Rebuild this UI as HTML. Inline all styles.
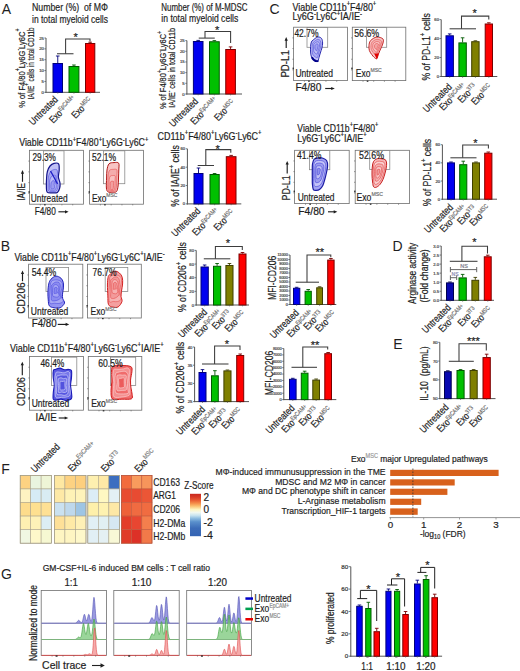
<!DOCTYPE html>
<html><head><meta charset="utf-8"><title>Figure</title>
<style>
html,body{margin:0;padding:0;background:#fff;}
svg{display:block;}
svg text{font-family:"Liberation Sans",sans-serif;white-space:pre;}
</style></head>
<body>
<svg width="520" height="671" viewBox="0 0 520 671" fill="#1e1e1e">
<rect x="0" y="0" width="520" height="671" fill="#ffffff"/>
<text x="1.8" y="13.8" font-size="14">A</text><text x="32.00" y="11.00" font-size="10.8" stroke="#1e1e1e" stroke-width="0.2" textLength="76.00" lengthAdjust="spacingAndGlyphs">Number (%)  of MΦ</text><text x="32.00" y="23.00" font-size="10.8" stroke="#1e1e1e" stroke-width="0.2" textLength="76.00" lengthAdjust="spacingAndGlyphs">in total myeloid cells</text><text x="161.30" y="10.60" font-size="10.8" stroke="#1e1e1e" stroke-width="0.2" textLength="86.20" lengthAdjust="spacingAndGlyphs">Number (%) of M-MDSC</text><text x="161.30" y="21.60" font-size="10.8" stroke="#1e1e1e" stroke-width="0.2" textLength="77.00" lengthAdjust="spacingAndGlyphs">in total myeloid cells</text><line x1="46.00" y1="38.00" x2="46.00" y2="92.80" stroke="#555" stroke-width="1.0" /><line x1="45.50" y1="92.30" x2="100.00" y2="92.30" stroke="#555" stroke-width="1.0" /><line x1="44.40" y1="38.00" x2="46.00" y2="38.00" stroke="#555" stroke-width="0.8" /><text x="43.80" y="39.51" font-size="4.2" fill="#484848" stroke="#484848" stroke-width="0.2" text-anchor="end">25</text><line x1="44.40" y1="48.86" x2="46.00" y2="48.86" stroke="#555" stroke-width="0.8" /><text x="43.80" y="50.37" font-size="4.2" fill="#484848" stroke="#484848" stroke-width="0.2" text-anchor="end">20</text><line x1="44.40" y1="59.72" x2="46.00" y2="59.72" stroke="#555" stroke-width="0.8" /><text x="43.80" y="61.23" font-size="4.2" fill="#484848" stroke="#484848" stroke-width="0.2" text-anchor="end">15</text><line x1="44.40" y1="70.58" x2="46.00" y2="70.58" stroke="#555" stroke-width="0.8" /><text x="43.80" y="72.09" font-size="4.2" fill="#484848" stroke="#484848" stroke-width="0.2" text-anchor="end">10</text><line x1="44.40" y1="81.44" x2="46.00" y2="81.44" stroke="#555" stroke-width="0.8" /><text x="43.80" y="82.95" font-size="4.2" fill="#484848" stroke="#484848" stroke-width="0.2" text-anchor="end">5</text><line x1="44.40" y1="92.30" x2="46.00" y2="92.30" stroke="#555" stroke-width="0.8" /><text x="43.80" y="93.81" font-size="4.2" fill="#484848" stroke="#484848" stroke-width="0.2" text-anchor="end">0</text><line x1="57.75" y1="56.00" x2="57.75" y2="63.00" stroke="#00007a" stroke-width="0.9" /><line x1="55.95" y1="56.00" x2="59.55" y2="56.00" stroke="#00007a" stroke-width="0.9" /><rect x="53.00" y="63.50" width="9.50" height="28.80" fill="#0000f0" stroke="#00007a" stroke-width="1.0" /><line x1="57.75" y1="92.30" x2="57.75" y2="93.60" stroke="#555" stroke-width="0.7" /><line x1="73.95" y1="65.00" x2="73.95" y2="66.00" stroke="#005a00" stroke-width="0.9" /><line x1="72.15" y1="65.00" x2="75.75" y2="65.00" stroke="#005a00" stroke-width="0.9" /><rect x="69.00" y="66.50" width="9.90" height="25.80" fill="#00c000" stroke="#005a00" stroke-width="1.0" /><line x1="73.95" y1="92.30" x2="73.95" y2="93.60" stroke="#555" stroke-width="0.7" /><line x1="90.15" y1="42.20" x2="90.15" y2="43.00" stroke="#7a0000" stroke-width="0.9" /><line x1="88.35" y1="42.20" x2="91.95" y2="42.20" stroke="#7a0000" stroke-width="0.9" /><rect x="85.50" y="43.50" width="9.30" height="48.80" fill="#ff0000" stroke="#7a0000" stroke-width="1.0" /><line x1="90.15" y1="92.30" x2="90.15" y2="93.60" stroke="#555" stroke-width="0.7" /><line x1="57.00" y1="53.75" x2="73.50" y2="53.75" stroke="#3c3c3c" stroke-width="1.05" /><polyline points="65.60,53.75 65.60,39.00 90.00,39.00 90.00,41.50" fill="none" stroke="#3c3c3c" stroke-width="1.05"/><text x="75.60" y="41.27" font-size="11.0" stroke="#1e1e1e" stroke-width="0.2" text-anchor="middle">*</text><g transform="translate(58.58,100.20) rotate(-45)"><text x="-36.01" y="0.00" font-size="10.00" stroke="#1e1e1e" stroke-width="0.2" textLength="36.01" lengthAdjust="spacingAndGlyphs">Untreated</text></g><g transform="translate(77.10,99.93) rotate(-45)"><text x="-33.77" y="0.00" font-size="10.00" stroke="#1e1e1e" stroke-width="0.2" textLength="13.79" lengthAdjust="spacingAndGlyphs">Exo</text><text x="-19.99" y="-3.60" font-size="6.20" fill="#6e6e6e" stroke="#6e6e6e" stroke-width="0.2" textLength="19.99" lengthAdjust="spacingAndGlyphs">EpCAM+</text></g><g transform="translate(93.03,101.47) rotate(-45)"><text x="-24.81" y="0.00" font-size="10.00" stroke="#1e1e1e" stroke-width="0.2" textLength="13.79" lengthAdjust="spacingAndGlyphs">Exo</text><text x="-11.02" y="-3.60" font-size="6.20" fill="#6e6e6e" stroke="#6e6e6e" stroke-width="0.2" textLength="11.02" lengthAdjust="spacingAndGlyphs">MSC</text></g><g transform="translate(24.60,68.20) rotate(-90)"><text x="-39.50" y="0.00" font-size="9.60" stroke="#1e1e1e" stroke-width="0.2" textLength="36.46" lengthAdjust="spacingAndGlyphs">% of F4/80</text><text x="-3.04" y="-4.32" font-size="6.34" stroke="#1e1e1e" stroke-width="0.2" textLength="2.91" lengthAdjust="spacingAndGlyphs">+</text><text x="-0.13" y="0.00" font-size="9.60" stroke="#1e1e1e" stroke-width="0.2" textLength="17.74" lengthAdjust="spacingAndGlyphs">Ly6G</text><text x="17.61" y="-4.32" font-size="6.34" stroke="#1e1e1e" stroke-width="0.2" textLength="1.66" lengthAdjust="spacingAndGlyphs">-</text><text x="19.27" y="0.00" font-size="9.60" stroke="#1e1e1e" stroke-width="0.2" textLength="17.32" lengthAdjust="spacingAndGlyphs">Ly6C</text><text x="36.59" y="-4.32" font-size="6.34" stroke="#1e1e1e" stroke-width="0.2" textLength="2.91" lengthAdjust="spacingAndGlyphs">+</text></g><g transform="translate(33.50,63.40) rotate(-90)"><text x="-36.00" y="0.00" font-size="9.60" stroke="#1e1e1e" stroke-width="0.2" textLength="13.72" lengthAdjust="spacingAndGlyphs">IA/IE</text><text x="-22.28" y="-4.32" font-size="6.34" stroke="#1e1e1e" stroke-width="0.2" textLength="2.44" lengthAdjust="spacingAndGlyphs">+</text><text x="-19.84" y="0.00" font-size="9.60" stroke="#1e1e1e" stroke-width="0.2" textLength="55.84" lengthAdjust="spacingAndGlyphs"> cells in total CD11b</text></g><line x1="186.90" y1="40.60" x2="186.90" y2="94.50" stroke="#555" stroke-width="1.0" /><line x1="186.40" y1="94.00" x2="242.00" y2="94.00" stroke="#555" stroke-width="1.0" /><line x1="185.30" y1="40.60" x2="186.90" y2="40.60" stroke="#555" stroke-width="0.8" /><text x="184.70" y="42.11" font-size="4.2" fill="#484848" stroke="#484848" stroke-width="0.2" text-anchor="end">25</text><line x1="185.30" y1="51.28" x2="186.90" y2="51.28" stroke="#555" stroke-width="0.8" /><text x="184.70" y="52.79" font-size="4.2" fill="#484848" stroke="#484848" stroke-width="0.2" text-anchor="end">20</text><line x1="185.30" y1="61.96" x2="186.90" y2="61.96" stroke="#555" stroke-width="0.8" /><text x="184.70" y="63.47" font-size="4.2" fill="#484848" stroke="#484848" stroke-width="0.2" text-anchor="end">15</text><line x1="185.30" y1="72.64" x2="186.90" y2="72.64" stroke="#555" stroke-width="0.8" /><text x="184.70" y="74.15" font-size="4.2" fill="#484848" stroke="#484848" stroke-width="0.2" text-anchor="end">10</text><line x1="185.30" y1="83.32" x2="186.90" y2="83.32" stroke="#555" stroke-width="0.8" /><text x="184.70" y="84.83" font-size="4.2" fill="#484848" stroke="#484848" stroke-width="0.2" text-anchor="end">5</text><line x1="185.30" y1="94.00" x2="186.90" y2="94.00" stroke="#555" stroke-width="0.8" /><text x="184.70" y="95.51" font-size="4.2" fill="#484848" stroke="#484848" stroke-width="0.2" text-anchor="end">0</text><line x1="198.20" y1="40.40" x2="198.20" y2="41.00" stroke="#00007a" stroke-width="0.9" /><line x1="196.40" y1="40.40" x2="200.00" y2="40.40" stroke="#00007a" stroke-width="0.9" /><rect x="193.40" y="41.50" width="9.60" height="52.50" fill="#0000f0" stroke="#00007a" stroke-width="1.0" /><line x1="198.20" y1="94.00" x2="198.20" y2="95.30" stroke="#555" stroke-width="0.7" /><line x1="214.38" y1="40.60" x2="214.38" y2="41.25" stroke="#005a00" stroke-width="0.9" /><line x1="212.57" y1="40.60" x2="216.18" y2="40.60" stroke="#005a00" stroke-width="0.9" /><rect x="209.50" y="41.75" width="9.75" height="52.25" fill="#00c000" stroke="#005a00" stroke-width="1.0" /><line x1="214.38" y1="94.00" x2="214.38" y2="95.30" stroke="#555" stroke-width="0.7" /><line x1="230.57" y1="46.90" x2="230.57" y2="49.00" stroke="#7a0000" stroke-width="0.9" /><line x1="228.77" y1="46.90" x2="232.38" y2="46.90" stroke="#7a0000" stroke-width="0.9" /><rect x="225.75" y="49.50" width="9.65" height="44.50" fill="#ff0000" stroke="#7a0000" stroke-width="1.0" /><line x1="230.57" y1="94.00" x2="230.57" y2="95.30" stroke="#555" stroke-width="0.7" /><line x1="198.75" y1="38.10" x2="214.75" y2="38.10" stroke="#3c3c3c" stroke-width="1.05" /><polyline points="205.00,38.10 205.00,31.50 230.60,31.50 230.60,43.00" fill="none" stroke="#3c3c3c" stroke-width="1.05"/><text x="217.10" y="33.56" font-size="11.0" stroke="#1e1e1e" stroke-width="0.2" text-anchor="middle">*</text><g transform="translate(198.62,102.00) rotate(-45)"><text x="-36.01" y="0.00" font-size="10.00" stroke="#1e1e1e" stroke-width="0.2" textLength="36.01" lengthAdjust="spacingAndGlyphs">Untreated</text></g><g transform="translate(218.50,101.33) rotate(-45)"><text x="-33.77" y="0.00" font-size="10.00" stroke="#1e1e1e" stroke-width="0.2" textLength="13.79" lengthAdjust="spacingAndGlyphs">Exo</text><text x="-19.99" y="-3.60" font-size="6.20" fill="#6e6e6e" stroke="#6e6e6e" stroke-width="0.2" textLength="19.99" lengthAdjust="spacingAndGlyphs">EpCAM+</text></g><g transform="translate(235.72,103.88) rotate(-45)"><text x="-24.81" y="0.00" font-size="10.00" stroke="#1e1e1e" stroke-width="0.2" textLength="13.79" lengthAdjust="spacingAndGlyphs">Exo</text><text x="-11.02" y="-3.60" font-size="6.20" fill="#6e6e6e" stroke="#6e6e6e" stroke-width="0.2" textLength="11.02" lengthAdjust="spacingAndGlyphs">MSC</text></g><g transform="translate(166.30,70.10) rotate(-90)"><text x="-39.00" y="0.00" font-size="9.60" stroke="#1e1e1e" stroke-width="0.2" textLength="36.00" lengthAdjust="spacingAndGlyphs">% of F4/80</text><text x="-3.00" y="-4.32" font-size="6.34" stroke="#1e1e1e" stroke-width="0.2" textLength="2.87" lengthAdjust="spacingAndGlyphs">+</text><text x="-0.13" y="0.00" font-size="9.60" stroke="#1e1e1e" stroke-width="0.2" textLength="17.52" lengthAdjust="spacingAndGlyphs">Ly6G</text><text x="17.39" y="-4.32" font-size="6.34" stroke="#1e1e1e" stroke-width="0.2" textLength="1.64" lengthAdjust="spacingAndGlyphs">-</text><text x="19.03" y="0.00" font-size="9.60" stroke="#1e1e1e" stroke-width="0.2" textLength="17.10" lengthAdjust="spacingAndGlyphs">Ly6C</text><text x="36.13" y="-4.32" font-size="6.34" stroke="#1e1e1e" stroke-width="0.2" textLength="2.87" lengthAdjust="spacingAndGlyphs">+</text></g><g transform="translate(175.20,67.90) rotate(-90)"><text x="-39.85" y="0.00" font-size="9.60" stroke="#1e1e1e" stroke-width="0.2" textLength="15.42" lengthAdjust="spacingAndGlyphs">IA/IE</text><text x="-24.43" y="-4.32" font-size="6.34" stroke="#1e1e1e" stroke-width="0.2" textLength="1.56" lengthAdjust="spacingAndGlyphs">-</text><text x="-22.87" y="0.00" font-size="9.60" stroke="#1e1e1e" stroke-width="0.2" textLength="62.72" lengthAdjust="spacingAndGlyphs"> cells in total CD11b</text></g><text x="19.20" y="146.30" font-size="10.40" stroke="#1e1e1e" stroke-width="0.2" textLength="53.52" lengthAdjust="spacingAndGlyphs">Viable CD11b</text><text x="72.72" y="141.62" font-size="6.86" stroke="#1e1e1e" stroke-width="0.2" textLength="3.39" lengthAdjust="spacingAndGlyphs">+</text><text x="76.11" y="146.30" font-size="10.40" stroke="#1e1e1e" stroke-width="0.2" textLength="22.51" lengthAdjust="spacingAndGlyphs">F4/80</text><text x="98.63" y="141.62" font-size="6.86" stroke="#1e1e1e" stroke-width="0.2" textLength="3.39" lengthAdjust="spacingAndGlyphs">+</text><text x="102.02" y="146.30" font-size="10.40" stroke="#1e1e1e" stroke-width="0.2" textLength="20.72" lengthAdjust="spacingAndGlyphs">Ly6G</text><text x="122.74" y="141.62" font-size="6.86" stroke="#1e1e1e" stroke-width="0.2" textLength="1.94" lengthAdjust="spacingAndGlyphs">-</text><text x="124.68" y="146.30" font-size="10.40" stroke="#1e1e1e" stroke-width="0.2" textLength="20.23" lengthAdjust="spacingAndGlyphs">Ly6C</text><text x="144.91" y="141.62" font-size="6.86" stroke="#1e1e1e" stroke-width="0.2" textLength="3.39" lengthAdjust="spacingAndGlyphs">+</text><line x1="187.40" y1="148.80" x2="187.40" y2="204.40" stroke="#555" stroke-width="1.0" /><line x1="186.90" y1="203.90" x2="241.30" y2="203.90" stroke="#555" stroke-width="1.0" /><line x1="185.80" y1="148.80" x2="187.40" y2="148.80" stroke="#555" stroke-width="0.8" /><text x="185.20" y="150.31" font-size="4.2" fill="#484848" stroke="#484848" stroke-width="0.2" text-anchor="end">60</text><line x1="185.80" y1="167.17" x2="187.40" y2="167.17" stroke="#555" stroke-width="0.8" /><text x="185.20" y="168.68" font-size="4.2" fill="#484848" stroke="#484848" stroke-width="0.2" text-anchor="end">40</text><line x1="185.80" y1="185.53" x2="187.40" y2="185.53" stroke="#555" stroke-width="0.8" /><text x="185.20" y="187.05" font-size="4.2" fill="#484848" stroke="#484848" stroke-width="0.2" text-anchor="end">20</text><line x1="185.80" y1="203.90" x2="187.40" y2="203.90" stroke="#555" stroke-width="0.8" /><text x="185.20" y="205.41" font-size="4.2" fill="#484848" stroke="#484848" stroke-width="0.2" text-anchor="end">0</text><line x1="198.50" y1="168.00" x2="198.50" y2="173.00" stroke="#00007a" stroke-width="0.9" /><line x1="196.70" y1="168.00" x2="200.30" y2="168.00" stroke="#00007a" stroke-width="0.9" /><rect x="194.00" y="173.50" width="9.00" height="30.40" fill="#0000f0" stroke="#00007a" stroke-width="1.0" /><line x1="198.50" y1="203.90" x2="198.50" y2="205.20" stroke="#555" stroke-width="0.7" /><line x1="214.60" y1="173.50" x2="214.60" y2="174.00" stroke="#005a00" stroke-width="0.9" /><line x1="212.80" y1="173.50" x2="216.40" y2="173.50" stroke="#005a00" stroke-width="0.9" /><rect x="210.00" y="174.50" width="9.20" height="29.40" fill="#00c000" stroke="#005a00" stroke-width="1.0" /><line x1="214.60" y1="203.90" x2="214.60" y2="205.20" stroke="#555" stroke-width="0.7" /><line x1="231.15" y1="155.40" x2="231.15" y2="156.20" stroke="#7a0000" stroke-width="0.9" /><line x1="229.35" y1="155.40" x2="232.95" y2="155.40" stroke="#7a0000" stroke-width="0.9" /><rect x="226.30" y="156.70" width="9.70" height="47.20" fill="#ff0000" stroke="#7a0000" stroke-width="1.0" /><line x1="231.15" y1="203.90" x2="231.15" y2="205.20" stroke="#555" stroke-width="0.7" /><line x1="197.70" y1="165.50" x2="214.00" y2="165.50" stroke="#3c3c3c" stroke-width="1.05" /><polyline points="205.80,165.50 205.80,149.60 230.80,149.60 230.80,152.70" fill="none" stroke="#3c3c3c" stroke-width="1.05"/><text x="217.70" y="152.97" font-size="11.0" stroke="#1e1e1e" stroke-width="0.2" text-anchor="middle">*</text><g transform="translate(200.97,211.75) rotate(-45)"><text x="-36.01" y="0.00" font-size="10.00" stroke="#1e1e1e" stroke-width="0.2" textLength="36.01" lengthAdjust="spacingAndGlyphs">Untreated</text></g><g transform="translate(220.15,212.32) rotate(-45)"><text x="-33.77" y="0.00" font-size="10.00" stroke="#1e1e1e" stroke-width="0.2" textLength="13.79" lengthAdjust="spacingAndGlyphs">Exo</text><text x="-19.99" y="-3.60" font-size="6.20" fill="#6e6e6e" stroke="#6e6e6e" stroke-width="0.2" textLength="19.99" lengthAdjust="spacingAndGlyphs">EpCAM+</text></g><g transform="translate(235.38,213.68) rotate(-45)"><text x="-24.81" y="0.00" font-size="10.00" stroke="#1e1e1e" stroke-width="0.2" textLength="13.79" lengthAdjust="spacingAndGlyphs">Exo</text><text x="-11.02" y="-3.60" font-size="6.20" fill="#6e6e6e" stroke="#6e6e6e" stroke-width="0.2" textLength="11.02" lengthAdjust="spacingAndGlyphs">MSC</text></g><text x="157.50" y="139.60" font-size="10.40" stroke="#1e1e1e" stroke-width="0.2" textLength="27.19" lengthAdjust="spacingAndGlyphs">CD11b</text><text x="184.69" y="134.92" font-size="6.86" stroke="#1e1e1e" stroke-width="0.2" textLength="3.45" lengthAdjust="spacingAndGlyphs">+</text><text x="188.14" y="139.60" font-size="10.40" stroke="#1e1e1e" stroke-width="0.2" textLength="22.88" lengthAdjust="spacingAndGlyphs">F4/80</text><text x="211.02" y="134.92" font-size="6.86" stroke="#1e1e1e" stroke-width="0.2" textLength="3.45" lengthAdjust="spacingAndGlyphs">+</text><text x="214.47" y="139.60" font-size="10.40" stroke="#1e1e1e" stroke-width="0.2" textLength="21.06" lengthAdjust="spacingAndGlyphs">Ly6G</text><text x="235.53" y="134.92" font-size="6.86" stroke="#1e1e1e" stroke-width="0.2" textLength="1.97" lengthAdjust="spacingAndGlyphs">-</text><text x="237.49" y="139.60" font-size="10.40" stroke="#1e1e1e" stroke-width="0.2" textLength="20.56" lengthAdjust="spacingAndGlyphs">Ly6C</text><text x="258.05" y="134.92" font-size="6.86" stroke="#1e1e1e" stroke-width="0.2" textLength="3.45" lengthAdjust="spacingAndGlyphs">+</text><g transform="translate(179.00,176.00) rotate(-90)"><text x="-30.75" y="0.00" font-size="10.30" stroke="#1e1e1e" stroke-width="0.2" textLength="38.46" lengthAdjust="spacingAndGlyphs">% of IA/IE</text><text x="7.71" y="-4.64" font-size="6.80" stroke="#1e1e1e" stroke-width="0.2" textLength="3.33" lengthAdjust="spacingAndGlyphs">+</text><text x="11.04" y="0.00" font-size="10.30" stroke="#1e1e1e" stroke-width="0.2" textLength="19.71" lengthAdjust="spacingAndGlyphs"> cells</text></g><line x1="196.20" y1="250.40" x2="196.20" y2="305.50" stroke="#555" stroke-width="1.0" /><line x1="195.70" y1="305.00" x2="249.00" y2="305.00" stroke="#555" stroke-width="1.0" /><line x1="194.60" y1="250.40" x2="196.20" y2="250.40" stroke="#555" stroke-width="0.8" /><text x="194.00" y="251.91" font-size="4.2" fill="#484848" stroke="#484848" stroke-width="0.2" text-anchor="end">80</text><line x1="194.60" y1="264.05" x2="196.20" y2="264.05" stroke="#555" stroke-width="0.8" /><text x="194.00" y="265.56" font-size="4.2" fill="#484848" stroke="#484848" stroke-width="0.2" text-anchor="end">60</text><line x1="194.60" y1="277.70" x2="196.20" y2="277.70" stroke="#555" stroke-width="0.8" /><text x="194.00" y="279.21" font-size="4.2" fill="#484848" stroke="#484848" stroke-width="0.2" text-anchor="end">40</text><line x1="194.60" y1="291.35" x2="196.20" y2="291.35" stroke="#555" stroke-width="0.8" /><text x="194.00" y="292.86" font-size="4.2" fill="#484848" stroke="#484848" stroke-width="0.2" text-anchor="end">20</text><line x1="194.60" y1="305.00" x2="196.20" y2="305.00" stroke="#555" stroke-width="0.8" /><text x="194.00" y="306.51" font-size="4.2" fill="#484848" stroke="#484848" stroke-width="0.2" text-anchor="end">0</text><line x1="204.65" y1="265.00" x2="204.65" y2="266.50" stroke="#00007a" stroke-width="0.9" /><line x1="202.85" y1="265.00" x2="206.45" y2="265.00" stroke="#00007a" stroke-width="0.9" /><rect x="201.00" y="267.00" width="7.30" height="38.00" fill="#0000f0" stroke="#00007a" stroke-width="1.0" /><line x1="204.65" y1="305.00" x2="204.65" y2="306.30" stroke="#555" stroke-width="0.7" /><line x1="217.10" y1="263.50" x2="217.10" y2="265.80" stroke="#005a00" stroke-width="0.9" /><line x1="215.30" y1="263.50" x2="218.90" y2="263.50" stroke="#005a00" stroke-width="0.9" /><rect x="213.50" y="266.30" width="7.20" height="38.70" fill="#00c000" stroke="#005a00" stroke-width="1.0" /><line x1="217.10" y1="305.00" x2="217.10" y2="306.30" stroke="#555" stroke-width="0.7" /><line x1="229.45" y1="263.50" x2="229.45" y2="265.00" stroke="#3f3f00" stroke-width="0.9" /><line x1="227.65" y1="263.50" x2="231.25" y2="263.50" stroke="#3f3f00" stroke-width="0.9" /><rect x="225.90" y="265.50" width="7.10" height="39.50" fill="#7f7f00" stroke="#3f3f00" stroke-width="1.0" /><line x1="229.45" y1="305.00" x2="229.45" y2="306.30" stroke="#555" stroke-width="0.7" /><line x1="242.50" y1="252.50" x2="242.50" y2="253.50" stroke="#7a0000" stroke-width="0.9" /><line x1="240.70" y1="252.50" x2="244.30" y2="252.50" stroke="#7a0000" stroke-width="0.9" /><rect x="239.00" y="254.00" width="7.00" height="51.00" fill="#ff0000" stroke="#7a0000" stroke-width="1.0" /><line x1="242.50" y1="305.00" x2="242.50" y2="306.30" stroke="#555" stroke-width="0.7" /><line x1="203.80" y1="258.80" x2="230.30" y2="258.80" stroke="#3c3c3c" stroke-width="1.05" /><polyline points="215.40,258.80 215.40,246.50 242.30,246.50 242.30,250.00" fill="none" stroke="#3c3c3c" stroke-width="1.05"/><text x="228.00" y="246.66" font-size="11.0" stroke="#1e1e1e" stroke-width="0.2" text-anchor="middle">*</text><g transform="translate(207.62,312.70) rotate(-45)"><text x="-36.01" y="0.00" font-size="10.00" stroke="#1e1e1e" stroke-width="0.2" textLength="36.01" lengthAdjust="spacingAndGlyphs">Untreated</text></g><g transform="translate(222.75,313.67) rotate(-45)"><text x="-33.77" y="0.00" font-size="10.00" stroke="#1e1e1e" stroke-width="0.2" textLength="13.79" lengthAdjust="spacingAndGlyphs">Exo</text><text x="-19.99" y="-3.60" font-size="6.20" fill="#6e6e6e" stroke="#6e6e6e" stroke-width="0.2" textLength="19.99" lengthAdjust="spacingAndGlyphs">EpCAM+</text></g><g transform="translate(231.78,314.20) rotate(-45)"><text x="-22.33" y="0.00" font-size="10.00" stroke="#1e1e1e" stroke-width="0.2" textLength="13.79" lengthAdjust="spacingAndGlyphs">Exo</text><text x="-8.55" y="-3.60" font-size="6.20" fill="#6e6e6e" stroke="#6e6e6e" stroke-width="0.2" textLength="8.55" lengthAdjust="spacingAndGlyphs">3T3</text></g><g transform="translate(246.22,315.02) rotate(-45)"><text x="-24.81" y="0.00" font-size="10.00" stroke="#1e1e1e" stroke-width="0.2" textLength="13.79" lengthAdjust="spacingAndGlyphs">Exo</text><text x="-11.02" y="-3.60" font-size="6.20" fill="#6e6e6e" stroke="#6e6e6e" stroke-width="0.2" textLength="11.02" lengthAdjust="spacingAndGlyphs">MSC</text></g><g transform="translate(186.00,277.10) rotate(-90)"><text x="-34.90" y="0.00" font-size="10.50" stroke="#1e1e1e" stroke-width="0.2" textLength="46.72" lengthAdjust="spacingAndGlyphs">% of CD206</text><text x="11.82" y="-4.73" font-size="6.93" stroke="#1e1e1e" stroke-width="0.2" textLength="3.34" lengthAdjust="spacingAndGlyphs">+</text><text x="15.16" y="0.00" font-size="10.50" stroke="#1e1e1e" stroke-width="0.2" textLength="19.74" lengthAdjust="spacingAndGlyphs"> cells</text></g><line x1="290.00" y1="255.00" x2="290.00" y2="305.00" stroke="#555" stroke-width="1.0" /><line x1="289.50" y1="304.50" x2="336.30" y2="304.50" stroke="#555" stroke-width="1.0" /><line x1="288.40" y1="255.00" x2="290.00" y2="255.00" stroke="#555" stroke-width="0.8" /><text x="287.80" y="256.37" font-size="3.8" fill="#484848" stroke="#484848" stroke-width="0.2" text-anchor="end">11000</text><line x1="288.40" y1="259.50" x2="290.00" y2="259.50" stroke="#555" stroke-width="0.8" /><text x="287.80" y="260.87" font-size="3.8" fill="#484848" stroke="#484848" stroke-width="0.2" text-anchor="end">10000</text><line x1="288.40" y1="264.00" x2="290.00" y2="264.00" stroke="#555" stroke-width="0.8" /><text x="287.80" y="265.37" font-size="3.8" fill="#484848" stroke="#484848" stroke-width="0.2" text-anchor="end">9000</text><line x1="288.40" y1="268.50" x2="290.00" y2="268.50" stroke="#555" stroke-width="0.8" /><text x="287.80" y="269.87" font-size="3.8" fill="#484848" stroke="#484848" stroke-width="0.2" text-anchor="end">8000</text><line x1="288.40" y1="273.00" x2="290.00" y2="273.00" stroke="#555" stroke-width="0.8" /><text x="287.80" y="274.37" font-size="3.8" fill="#484848" stroke="#484848" stroke-width="0.2" text-anchor="end">7000</text><line x1="288.40" y1="277.50" x2="290.00" y2="277.50" stroke="#555" stroke-width="0.8" /><text x="287.80" y="278.87" font-size="3.8" fill="#484848" stroke="#484848" stroke-width="0.2" text-anchor="end">6000</text><line x1="288.40" y1="282.00" x2="290.00" y2="282.00" stroke="#555" stroke-width="0.8" /><text x="287.80" y="283.37" font-size="3.8" fill="#484848" stroke="#484848" stroke-width="0.2" text-anchor="end">5000</text><line x1="288.40" y1="286.50" x2="290.00" y2="286.50" stroke="#555" stroke-width="0.8" /><text x="287.80" y="287.87" font-size="3.8" fill="#484848" stroke="#484848" stroke-width="0.2" text-anchor="end">4000</text><line x1="288.40" y1="291.00" x2="290.00" y2="291.00" stroke="#555" stroke-width="0.8" /><text x="287.80" y="292.37" font-size="3.8" fill="#484848" stroke="#484848" stroke-width="0.2" text-anchor="end">3000</text><line x1="288.40" y1="295.50" x2="290.00" y2="295.50" stroke="#555" stroke-width="0.8" /><text x="287.80" y="296.87" font-size="3.8" fill="#484848" stroke="#484848" stroke-width="0.2" text-anchor="end">2000</text><line x1="288.40" y1="300.00" x2="290.00" y2="300.00" stroke="#555" stroke-width="0.8" /><text x="287.80" y="301.37" font-size="3.8" fill="#484848" stroke="#484848" stroke-width="0.2" text-anchor="end">1000</text><line x1="288.40" y1="304.50" x2="290.00" y2="304.50" stroke="#555" stroke-width="0.8" /><text x="287.80" y="305.87" font-size="3.8" fill="#484848" stroke="#484848" stroke-width="0.2" text-anchor="end">0</text><line x1="296.65" y1="287.30" x2="296.65" y2="287.80" stroke="#00007a" stroke-width="0.9" /><line x1="294.85" y1="287.30" x2="298.45" y2="287.30" stroke="#00007a" stroke-width="0.9" /><rect x="293.50" y="288.30" width="6.30" height="16.20" fill="#0000f0" stroke="#00007a" stroke-width="1.0" /><line x1="296.65" y1="304.50" x2="296.65" y2="305.80" stroke="#555" stroke-width="0.7" /><line x1="308.20" y1="289.50" x2="308.20" y2="290.80" stroke="#005a00" stroke-width="0.9" /><line x1="306.40" y1="289.50" x2="310.00" y2="289.50" stroke="#005a00" stroke-width="0.9" /><rect x="305.10" y="291.30" width="6.20" height="13.20" fill="#00c000" stroke="#005a00" stroke-width="1.0" /><line x1="308.20" y1="304.50" x2="308.20" y2="305.80" stroke="#555" stroke-width="0.7" /><line x1="319.60" y1="286.80" x2="319.60" y2="287.30" stroke="#3f3f00" stroke-width="0.9" /><line x1="317.80" y1="286.80" x2="321.40" y2="286.80" stroke="#3f3f00" stroke-width="0.9" /><rect x="316.70" y="287.80" width="5.80" height="16.70" fill="#7f7f00" stroke="#3f3f00" stroke-width="1.0" /><line x1="319.60" y1="304.50" x2="319.60" y2="305.80" stroke="#555" stroke-width="0.7" /><line x1="330.90" y1="258.50" x2="330.90" y2="259.60" stroke="#7a0000" stroke-width="0.9" /><line x1="329.10" y1="258.50" x2="332.70" y2="258.50" stroke="#7a0000" stroke-width="0.9" /><rect x="327.70" y="260.10" width="6.40" height="44.40" fill="#ff0000" stroke="#7a0000" stroke-width="1.0" /><line x1="330.90" y1="304.50" x2="330.90" y2="305.80" stroke="#555" stroke-width="0.7" /><line x1="295.70" y1="282.20" x2="319.00" y2="282.20" stroke="#3c3c3c" stroke-width="1.05" /><polyline points="307.00,282.20 307.00,255.00 330.80,255.00 330.80,257.30" fill="none" stroke="#3c3c3c" stroke-width="1.05"/><text x="319.80" y="256.06" font-size="11.0" stroke="#1e1e1e" stroke-width="0.2" text-anchor="middle">**</text><g transform="translate(299.38,313.55) rotate(-45)"><text x="-36.01" y="0.00" font-size="10.00" stroke="#1e1e1e" stroke-width="0.2" textLength="36.01" lengthAdjust="spacingAndGlyphs">Untreated</text></g><g transform="translate(314.70,313.88) rotate(-45)"><text x="-33.77" y="0.00" font-size="10.00" stroke="#1e1e1e" stroke-width="0.2" textLength="13.79" lengthAdjust="spacingAndGlyphs">Exo</text><text x="-19.99" y="-3.60" font-size="6.20" fill="#6e6e6e" stroke="#6e6e6e" stroke-width="0.2" textLength="19.99" lengthAdjust="spacingAndGlyphs">EpCAM+</text></g><g transform="translate(323.27,314.65) rotate(-45)"><text x="-22.33" y="0.00" font-size="10.00" stroke="#1e1e1e" stroke-width="0.2" textLength="13.79" lengthAdjust="spacingAndGlyphs">Exo</text><text x="-8.55" y="-3.60" font-size="6.20" fill="#6e6e6e" stroke="#6e6e6e" stroke-width="0.2" textLength="8.55" lengthAdjust="spacingAndGlyphs">3T3</text></g><g transform="translate(336.82,315.07) rotate(-45)"><text x="-24.81" y="0.00" font-size="10.00" stroke="#1e1e1e" stroke-width="0.2" textLength="13.79" lengthAdjust="spacingAndGlyphs">Exo</text><text x="-11.02" y="-3.60" font-size="6.20" fill="#6e6e6e" stroke="#6e6e6e" stroke-width="0.2" textLength="11.02" lengthAdjust="spacingAndGlyphs">MSC</text></g><g transform="translate(276.20,277.90) rotate(-90)"><text x="-22.10" y="0.00" font-size="10.80" stroke="#1e1e1e" stroke-width="0.2" textLength="44.20" lengthAdjust="spacingAndGlyphs">MFI-CD206</text></g><line x1="194.60" y1="347.00" x2="194.60" y2="402.10" stroke="#555" stroke-width="1.0" /><line x1="194.10" y1="401.60" x2="249.00" y2="401.60" stroke="#555" stroke-width="1.0" /><line x1="193.00" y1="347.00" x2="194.60" y2="347.00" stroke="#555" stroke-width="0.8" /><text x="192.40" y="348.51" font-size="4.2" fill="#484848" stroke="#484848" stroke-width="0.2" text-anchor="end">40</text><line x1="193.00" y1="365.20" x2="194.60" y2="365.20" stroke="#555" stroke-width="0.8" /><text x="192.40" y="366.71" font-size="4.2" fill="#484848" stroke="#484848" stroke-width="0.2" text-anchor="end">35</text><line x1="193.00" y1="383.40" x2="194.60" y2="383.40" stroke="#555" stroke-width="0.8" /><text x="192.40" y="384.91" font-size="4.2" fill="#484848" stroke="#484848" stroke-width="0.2" text-anchor="end">30</text><line x1="193.00" y1="401.60" x2="194.60" y2="401.60" stroke="#555" stroke-width="0.8" /><text x="192.40" y="403.11" font-size="4.2" fill="#484848" stroke="#484848" stroke-width="0.2" text-anchor="end">25</text><line x1="202.50" y1="369.60" x2="202.50" y2="372.00" stroke="#00007a" stroke-width="0.9" /><line x1="200.70" y1="369.60" x2="204.30" y2="369.60" stroke="#00007a" stroke-width="0.9" /><rect x="199.00" y="372.50" width="7.00" height="29.10" fill="#0000f0" stroke="#00007a" stroke-width="1.0" /><line x1="202.50" y1="401.60" x2="202.50" y2="402.90" stroke="#555" stroke-width="0.7" /><line x1="214.90" y1="370.70" x2="214.90" y2="375.30" stroke="#005a00" stroke-width="0.9" /><line x1="213.10" y1="370.70" x2="216.70" y2="370.70" stroke="#005a00" stroke-width="0.9" /><rect x="211.50" y="375.80" width="6.80" height="25.80" fill="#00c000" stroke="#005a00" stroke-width="1.0" /><line x1="214.90" y1="401.60" x2="214.90" y2="402.90" stroke="#555" stroke-width="0.7" /><line x1="227.45" y1="370.00" x2="227.45" y2="370.40" stroke="#3f3f00" stroke-width="0.9" /><line x1="225.65" y1="370.00" x2="229.25" y2="370.00" stroke="#3f3f00" stroke-width="0.9" /><rect x="223.90" y="370.90" width="7.10" height="30.70" fill="#7f7f00" stroke="#3f3f00" stroke-width="1.0" /><line x1="227.45" y1="401.60" x2="227.45" y2="402.90" stroke="#555" stroke-width="0.7" /><line x1="240.20" y1="354.00" x2="240.20" y2="355.00" stroke="#7a0000" stroke-width="0.9" /><line x1="238.40" y1="354.00" x2="242.00" y2="354.00" stroke="#7a0000" stroke-width="0.9" /><rect x="236.70" y="355.50" width="7.00" height="46.10" fill="#ff0000" stroke="#7a0000" stroke-width="1.0" /><line x1="240.20" y1="401.60" x2="240.20" y2="402.90" stroke="#555" stroke-width="0.7" /><line x1="202.00" y1="364.00" x2="228.50" y2="364.00" stroke="#3c3c3c" stroke-width="1.05" /><polyline points="214.60,364.00 214.60,346.00 240.00,346.00 240.00,350.00" fill="none" stroke="#3c3c3c" stroke-width="1.05"/><text x="227.00" y="347.67" font-size="11.0" stroke="#1e1e1e" stroke-width="0.2" text-anchor="middle">*</text><g transform="translate(205.68,410.05) rotate(-45)"><text x="-36.01" y="0.00" font-size="10.00" stroke="#1e1e1e" stroke-width="0.2" textLength="36.01" lengthAdjust="spacingAndGlyphs">Untreated</text></g><g transform="translate(219.50,411.52) rotate(-45)"><text x="-33.77" y="0.00" font-size="10.00" stroke="#1e1e1e" stroke-width="0.2" textLength="13.79" lengthAdjust="spacingAndGlyphs">Exo</text><text x="-19.99" y="-3.60" font-size="6.20" fill="#6e6e6e" stroke="#6e6e6e" stroke-width="0.2" textLength="19.99" lengthAdjust="spacingAndGlyphs">EpCAM+</text></g><g transform="translate(228.47,412.85) rotate(-45)"><text x="-22.33" y="0.00" font-size="10.00" stroke="#1e1e1e" stroke-width="0.2" textLength="13.79" lengthAdjust="spacingAndGlyphs">Exo</text><text x="-8.55" y="-3.60" font-size="6.20" fill="#6e6e6e" stroke="#6e6e6e" stroke-width="0.2" textLength="8.55" lengthAdjust="spacingAndGlyphs">3T3</text></g><g transform="translate(242.93,412.02) rotate(-45)"><text x="-24.81" y="0.00" font-size="10.00" stroke="#1e1e1e" stroke-width="0.2" textLength="13.79" lengthAdjust="spacingAndGlyphs">Exo</text><text x="-11.02" y="-3.60" font-size="6.20" fill="#6e6e6e" stroke="#6e6e6e" stroke-width="0.2" textLength="11.02" lengthAdjust="spacingAndGlyphs">MSC</text></g><g transform="translate(183.60,377.70) rotate(-90)"><text x="-35.80" y="0.00" font-size="10.50" stroke="#1e1e1e" stroke-width="0.2" textLength="47.92" lengthAdjust="spacingAndGlyphs">% of CD206</text><text x="12.12" y="-4.73" font-size="6.93" stroke="#1e1e1e" stroke-width="0.2" textLength="3.43" lengthAdjust="spacingAndGlyphs">+</text><text x="15.55" y="0.00" font-size="10.50" stroke="#1e1e1e" stroke-width="0.2" textLength="20.25" lengthAdjust="spacingAndGlyphs"> cells</text></g><line x1="283.80" y1="348.50" x2="283.80" y2="400.10" stroke="#555" stroke-width="1.0" /><line x1="283.30" y1="399.60" x2="336.30" y2="399.60" stroke="#555" stroke-width="1.0" /><line x1="282.20" y1="348.50" x2="283.80" y2="348.50" stroke="#555" stroke-width="0.8" /><text x="281.60" y="349.90" font-size="3.9" fill="#484848" stroke="#484848" stroke-width="0.2" text-anchor="end">8000</text><line x1="282.20" y1="354.89" x2="283.80" y2="354.89" stroke="#555" stroke-width="0.8" /><text x="281.60" y="356.29" font-size="3.9" fill="#484848" stroke="#484848" stroke-width="0.2" text-anchor="end">7000</text><line x1="282.20" y1="361.27" x2="283.80" y2="361.27" stroke="#555" stroke-width="0.8" /><text x="281.60" y="362.68" font-size="3.9" fill="#484848" stroke="#484848" stroke-width="0.2" text-anchor="end">6000</text><line x1="282.20" y1="367.66" x2="283.80" y2="367.66" stroke="#555" stroke-width="0.8" /><text x="281.60" y="369.07" font-size="3.9" fill="#484848" stroke="#484848" stroke-width="0.2" text-anchor="end">5000</text><line x1="282.20" y1="374.05" x2="283.80" y2="374.05" stroke="#555" stroke-width="0.8" /><text x="281.60" y="375.45" font-size="3.9" fill="#484848" stroke="#484848" stroke-width="0.2" text-anchor="end">4000</text><line x1="282.20" y1="380.44" x2="283.80" y2="380.44" stroke="#555" stroke-width="0.8" /><text x="281.60" y="381.84" font-size="3.9" fill="#484848" stroke="#484848" stroke-width="0.2" text-anchor="end">3000</text><line x1="282.20" y1="386.83" x2="283.80" y2="386.83" stroke="#555" stroke-width="0.8" /><text x="281.60" y="388.23" font-size="3.9" fill="#484848" stroke="#484848" stroke-width="0.2" text-anchor="end">2000</text><line x1="282.20" y1="393.21" x2="283.80" y2="393.21" stroke="#555" stroke-width="0.8" /><text x="281.60" y="394.62" font-size="3.9" fill="#484848" stroke="#484848" stroke-width="0.2" text-anchor="end">1000</text><line x1="282.20" y1="399.60" x2="283.80" y2="399.60" stroke="#555" stroke-width="0.8" /><text x="281.60" y="401.00" font-size="3.9" fill="#484848" stroke="#484848" stroke-width="0.2" text-anchor="end">0</text><line x1="292.80" y1="378.30" x2="292.80" y2="378.80" stroke="#00007a" stroke-width="0.9" /><line x1="291.00" y1="378.30" x2="294.60" y2="378.30" stroke="#00007a" stroke-width="0.9" /><rect x="289.50" y="379.30" width="6.60" height="20.30" fill="#0000f0" stroke="#00007a" stroke-width="1.0" /><line x1="292.80" y1="399.60" x2="292.80" y2="400.90" stroke="#555" stroke-width="0.7" /><line x1="304.65" y1="371.20" x2="304.65" y2="372.70" stroke="#005a00" stroke-width="0.9" /><line x1="302.85" y1="371.20" x2="306.45" y2="371.20" stroke="#005a00" stroke-width="0.9" /><rect x="301.30" y="373.20" width="6.70" height="26.40" fill="#00c000" stroke="#005a00" stroke-width="1.0" /><line x1="304.65" y1="399.60" x2="304.65" y2="400.90" stroke="#555" stroke-width="0.7" /><line x1="316.15" y1="379.00" x2="316.15" y2="379.60" stroke="#3f3f00" stroke-width="0.9" /><line x1="314.35" y1="379.00" x2="317.95" y2="379.00" stroke="#3f3f00" stroke-width="0.9" /><rect x="312.80" y="380.10" width="6.70" height="19.50" fill="#7f7f00" stroke="#3f3f00" stroke-width="1.0" /><line x1="316.15" y1="399.60" x2="316.15" y2="400.90" stroke="#555" stroke-width="0.7" /><line x1="328.15" y1="352.50" x2="328.15" y2="353.20" stroke="#7a0000" stroke-width="0.9" /><line x1="326.35" y1="352.50" x2="329.95" y2="352.50" stroke="#7a0000" stroke-width="0.9" /><rect x="324.80" y="353.70" width="6.70" height="45.90" fill="#ff0000" stroke="#7a0000" stroke-width="1.0" /><line x1="328.15" y1="399.60" x2="328.15" y2="400.90" stroke="#555" stroke-width="0.7" /><line x1="291.50" y1="367.30" x2="317.00" y2="367.30" stroke="#3c3c3c" stroke-width="1.05" /><polyline points="302.80,367.30 302.80,347.00 327.70,347.00 327.70,349.60" fill="none" stroke="#3c3c3c" stroke-width="1.05"/><text x="315.00" y="349.17" font-size="11.0" stroke="#1e1e1e" stroke-width="0.2" text-anchor="middle">**</text><g transform="translate(295.17,408.80) rotate(-45)"><text x="-36.01" y="0.00" font-size="10.00" stroke="#1e1e1e" stroke-width="0.2" textLength="36.01" lengthAdjust="spacingAndGlyphs">Untreated</text></g><g transform="translate(309.50,409.38) rotate(-45)"><text x="-33.77" y="0.00" font-size="10.00" stroke="#1e1e1e" stroke-width="0.2" textLength="13.79" lengthAdjust="spacingAndGlyphs">Exo</text><text x="-19.99" y="-3.60" font-size="6.20" fill="#6e6e6e" stroke="#6e6e6e" stroke-width="0.2" textLength="19.99" lengthAdjust="spacingAndGlyphs">EpCAM+</text></g><g transform="translate(318.52,410.70) rotate(-45)"><text x="-22.33" y="0.00" font-size="10.00" stroke="#1e1e1e" stroke-width="0.2" textLength="13.79" lengthAdjust="spacingAndGlyphs">Exo</text><text x="-8.55" y="-3.60" font-size="6.20" fill="#6e6e6e" stroke="#6e6e6e" stroke-width="0.2" textLength="8.55" lengthAdjust="spacingAndGlyphs">3T3</text></g><g transform="translate(332.52,410.67) rotate(-45)"><text x="-24.81" y="0.00" font-size="10.00" stroke="#1e1e1e" stroke-width="0.2" textLength="13.79" lengthAdjust="spacingAndGlyphs">Exo</text><text x="-11.02" y="-3.60" font-size="6.20" fill="#6e6e6e" stroke="#6e6e6e" stroke-width="0.2" textLength="11.02" lengthAdjust="spacingAndGlyphs">MSC</text></g><g transform="translate(273.00,372.90) rotate(-90)"><text x="-22.30" y="0.00" font-size="10.80" stroke="#1e1e1e" stroke-width="0.2" textLength="44.60" lengthAdjust="spacingAndGlyphs">MFI-CD206</text></g><line x1="441.20" y1="19.60" x2="441.20" y2="77.00" stroke="#555" stroke-width="1.0" /><line x1="440.70" y1="76.50" x2="497.30" y2="76.50" stroke="#555" stroke-width="1.0" /><line x1="439.60" y1="19.60" x2="441.20" y2="19.60" stroke="#555" stroke-width="0.8" /><text x="439.00" y="21.11" font-size="4.2" fill="#484848" stroke="#484848" stroke-width="0.2" text-anchor="end">60</text><line x1="439.60" y1="38.57" x2="441.20" y2="38.57" stroke="#555" stroke-width="0.8" /><text x="439.00" y="40.08" font-size="4.2" fill="#484848" stroke="#484848" stroke-width="0.2" text-anchor="end">40</text><line x1="439.60" y1="57.53" x2="441.20" y2="57.53" stroke="#555" stroke-width="0.8" /><text x="439.00" y="59.05" font-size="4.2" fill="#484848" stroke="#484848" stroke-width="0.2" text-anchor="end">20</text><line x1="439.60" y1="76.50" x2="441.20" y2="76.50" stroke="#555" stroke-width="0.8" /><text x="439.00" y="78.01" font-size="4.2" fill="#484848" stroke="#484848" stroke-width="0.2" text-anchor="end">0</text><line x1="449.70" y1="33.90" x2="449.70" y2="35.30" stroke="#00007a" stroke-width="0.9" /><line x1="447.90" y1="33.90" x2="451.50" y2="33.90" stroke="#00007a" stroke-width="0.9" /><rect x="446.00" y="35.80" width="7.40" height="40.70" fill="#0000f0" stroke="#00007a" stroke-width="1.0" /><line x1="449.70" y1="76.50" x2="449.70" y2="77.80" stroke="#555" stroke-width="0.7" /><line x1="462.60" y1="37.80" x2="462.60" y2="42.40" stroke="#005a00" stroke-width="0.9" /><line x1="460.80" y1="37.80" x2="464.40" y2="37.80" stroke="#005a00" stroke-width="0.9" /><rect x="458.90" y="42.90" width="7.40" height="33.60" fill="#00c000" stroke="#005a00" stroke-width="1.0" /><line x1="462.60" y1="76.50" x2="462.60" y2="77.80" stroke="#555" stroke-width="0.7" /><line x1="475.40" y1="40.80" x2="475.40" y2="41.20" stroke="#3f3f00" stroke-width="0.9" /><line x1="473.60" y1="40.80" x2="477.20" y2="40.80" stroke="#3f3f00" stroke-width="0.9" /><rect x="471.70" y="41.70" width="7.40" height="34.80" fill="#7f7f00" stroke="#3f3f00" stroke-width="1.0" /><line x1="475.40" y1="76.50" x2="475.40" y2="77.80" stroke="#555" stroke-width="0.7" /><line x1="488.85" y1="22.80" x2="488.85" y2="23.50" stroke="#7a0000" stroke-width="0.9" /><line x1="487.05" y1="22.80" x2="490.65" y2="22.80" stroke="#7a0000" stroke-width="0.9" /><rect x="485.20" y="24.00" width="7.30" height="52.50" fill="#ff0000" stroke="#7a0000" stroke-width="1.0" /><line x1="488.85" y1="76.50" x2="488.85" y2="77.80" stroke="#555" stroke-width="0.7" /><line x1="449.60" y1="28.80" x2="476.00" y2="28.80" stroke="#3c3c3c" stroke-width="1.05" /><polyline points="461.50,28.80 461.50,16.10 488.80,16.10 488.80,19.60" fill="none" stroke="#3c3c3c" stroke-width="1.05"/><text x="474.70" y="16.86" font-size="11.0" stroke="#1e1e1e" stroke-width="0.2" text-anchor="middle">*</text><g transform="translate(452.43,87.50) rotate(-45)"><text x="-36.01" y="0.00" font-size="10.00" stroke="#1e1e1e" stroke-width="0.2" textLength="36.01" lengthAdjust="spacingAndGlyphs">Untreated</text></g><g transform="translate(467.15,87.22) rotate(-45)"><text x="-33.77" y="0.00" font-size="10.00" stroke="#1e1e1e" stroke-width="0.2" textLength="13.79" lengthAdjust="spacingAndGlyphs">Exo</text><text x="-19.99" y="-3.60" font-size="6.20" fill="#6e6e6e" stroke="#6e6e6e" stroke-width="0.2" textLength="19.99" lengthAdjust="spacingAndGlyphs">EpCAM+</text></g><g transform="translate(477.48,87.70) rotate(-45)"><text x="-22.33" y="0.00" font-size="10.00" stroke="#1e1e1e" stroke-width="0.2" textLength="13.79" lengthAdjust="spacingAndGlyphs">Exo</text><text x="-8.55" y="-3.60" font-size="6.20" fill="#6e6e6e" stroke="#6e6e6e" stroke-width="0.2" textLength="8.55" lengthAdjust="spacingAndGlyphs">3T3</text></g><g transform="translate(492.73,88.07) rotate(-45)"><text x="-24.81" y="0.00" font-size="10.00" stroke="#1e1e1e" stroke-width="0.2" textLength="13.79" lengthAdjust="spacingAndGlyphs">Exo</text><text x="-11.02" y="-3.60" font-size="6.20" fill="#6e6e6e" stroke="#6e6e6e" stroke-width="0.2" textLength="11.02" lengthAdjust="spacingAndGlyphs">MSC</text></g><g transform="translate(430.10,46.80) rotate(-90)"><text x="-33.70" y="0.00" font-size="10.50" stroke="#1e1e1e" stroke-width="0.2" textLength="44.31" lengthAdjust="spacingAndGlyphs">% of PD-L1</text><text x="10.61" y="-4.73" font-size="6.93" stroke="#1e1e1e" stroke-width="0.2" textLength="3.34" lengthAdjust="spacingAndGlyphs">+</text><text x="13.95" y="0.00" font-size="10.50" stroke="#1e1e1e" stroke-width="0.2" textLength="19.75" lengthAdjust="spacingAndGlyphs"> cells</text></g><line x1="442.40" y1="144.70" x2="442.40" y2="199.70" stroke="#555" stroke-width="1.0" /><line x1="441.90" y1="199.20" x2="497.00" y2="199.20" stroke="#555" stroke-width="1.0" /><line x1="440.80" y1="144.70" x2="442.40" y2="144.70" stroke="#555" stroke-width="0.8" /><text x="440.20" y="146.21" font-size="4.2" fill="#484848" stroke="#484848" stroke-width="0.2" text-anchor="end">60</text><line x1="440.80" y1="162.87" x2="442.40" y2="162.87" stroke="#555" stroke-width="0.8" /><text x="440.20" y="164.38" font-size="4.2" fill="#484848" stroke="#484848" stroke-width="0.2" text-anchor="end">40</text><line x1="440.80" y1="181.03" x2="442.40" y2="181.03" stroke="#555" stroke-width="0.8" /><text x="440.20" y="182.55" font-size="4.2" fill="#484848" stroke="#484848" stroke-width="0.2" text-anchor="end">20</text><line x1="440.80" y1="199.20" x2="442.40" y2="199.20" stroke="#555" stroke-width="0.8" /><text x="440.20" y="200.71" font-size="4.2" fill="#484848" stroke="#484848" stroke-width="0.2" text-anchor="end">0</text><line x1="451.00" y1="162.00" x2="451.00" y2="162.40" stroke="#00007a" stroke-width="0.9" /><line x1="449.20" y1="162.00" x2="452.80" y2="162.00" stroke="#00007a" stroke-width="0.9" /><rect x="447.50" y="162.90" width="7.00" height="36.30" fill="#0000f0" stroke="#00007a" stroke-width="1.0" /><line x1="451.00" y1="199.20" x2="451.00" y2="200.50" stroke="#555" stroke-width="0.7" /><line x1="463.25" y1="161.20" x2="463.25" y2="164.20" stroke="#005a00" stroke-width="0.9" /><line x1="461.45" y1="161.20" x2="465.05" y2="161.20" stroke="#005a00" stroke-width="0.9" /><rect x="459.70" y="164.70" width="7.10" height="34.50" fill="#00c000" stroke="#005a00" stroke-width="1.0" /><line x1="463.25" y1="199.20" x2="463.25" y2="200.50" stroke="#555" stroke-width="0.7" /><line x1="476.00" y1="162.00" x2="476.00" y2="162.40" stroke="#3f3f00" stroke-width="0.9" /><line x1="474.20" y1="162.00" x2="477.80" y2="162.00" stroke="#3f3f00" stroke-width="0.9" /><rect x="472.50" y="162.90" width="7.00" height="36.30" fill="#7f7f00" stroke="#3f3f00" stroke-width="1.0" /><line x1="476.00" y1="199.20" x2="476.00" y2="200.50" stroke="#555" stroke-width="0.7" /><line x1="488.30" y1="152.00" x2="488.30" y2="152.70" stroke="#7a0000" stroke-width="0.9" /><line x1="486.50" y1="152.00" x2="490.10" y2="152.00" stroke="#7a0000" stroke-width="0.9" /><rect x="484.70" y="153.20" width="7.20" height="46.00" fill="#ff0000" stroke="#7a0000" stroke-width="1.0" /><line x1="488.30" y1="199.20" x2="488.30" y2="200.50" stroke="#555" stroke-width="0.7" /><line x1="450.40" y1="157.80" x2="476.50" y2="157.80" stroke="#3c3c3c" stroke-width="1.05" /><polyline points="462.70,157.80 462.70,145.00 488.40,145.00 488.40,148.40" fill="none" stroke="#3c3c3c" stroke-width="1.05"/><text x="475.30" y="146.86" font-size="11.0" stroke="#1e1e1e" stroke-width="0.2" text-anchor="middle">*</text><g transform="translate(453.73,207.95) rotate(-45)"><text x="-36.01" y="0.00" font-size="10.00" stroke="#1e1e1e" stroke-width="0.2" textLength="36.01" lengthAdjust="spacingAndGlyphs">Untreated</text></g><g transform="translate(467.55,208.93) rotate(-45)"><text x="-33.77" y="0.00" font-size="10.00" stroke="#1e1e1e" stroke-width="0.2" textLength="13.79" lengthAdjust="spacingAndGlyphs">Exo</text><text x="-19.99" y="-3.60" font-size="6.20" fill="#6e6e6e" stroke="#6e6e6e" stroke-width="0.2" textLength="19.99" lengthAdjust="spacingAndGlyphs">EpCAM+</text></g><g transform="translate(477.02,209.40) rotate(-45)"><text x="-22.33" y="0.00" font-size="10.00" stroke="#1e1e1e" stroke-width="0.2" textLength="13.79" lengthAdjust="spacingAndGlyphs">Exo</text><text x="-8.55" y="-3.60" font-size="6.20" fill="#6e6e6e" stroke="#6e6e6e" stroke-width="0.2" textLength="8.55" lengthAdjust="spacingAndGlyphs">3T3</text></g><g transform="translate(490.98,208.97) rotate(-45)"><text x="-24.81" y="0.00" font-size="10.00" stroke="#1e1e1e" stroke-width="0.2" textLength="13.79" lengthAdjust="spacingAndGlyphs">Exo</text><text x="-11.02" y="-3.60" font-size="6.20" fill="#6e6e6e" stroke="#6e6e6e" stroke-width="0.2" textLength="11.02" lengthAdjust="spacingAndGlyphs">MSC</text></g><g transform="translate(431.10,172.50) rotate(-90)"><text x="-33.70" y="0.00" font-size="10.50" stroke="#1e1e1e" stroke-width="0.2" textLength="44.31" lengthAdjust="spacingAndGlyphs">% of PD-L1</text><text x="10.61" y="-4.73" font-size="6.93" stroke="#1e1e1e" stroke-width="0.2" textLength="3.34" lengthAdjust="spacingAndGlyphs">+</text><text x="13.95" y="0.00" font-size="10.50" stroke="#1e1e1e" stroke-width="0.2" textLength="19.75" lengthAdjust="spacingAndGlyphs"> cells</text></g><line x1="441.20" y1="246.00" x2="441.20" y2="300.80" stroke="#555" stroke-width="1.0" /><line x1="440.70" y1="300.30" x2="494.00" y2="300.30" stroke="#555" stroke-width="1.0" /><line x1="439.60" y1="246.00" x2="441.20" y2="246.00" stroke="#555" stroke-width="0.8" /><text x="439.00" y="247.51" font-size="4.2" fill="#484848" stroke="#484848" stroke-width="0.2" text-anchor="end">3.0</text><line x1="439.60" y1="255.05" x2="441.20" y2="255.05" stroke="#555" stroke-width="0.8" /><text x="439.00" y="256.56" font-size="4.2" fill="#484848" stroke="#484848" stroke-width="0.2" text-anchor="end">2.5</text><line x1="439.60" y1="264.10" x2="441.20" y2="264.10" stroke="#555" stroke-width="0.8" /><text x="439.00" y="265.61" font-size="4.2" fill="#484848" stroke="#484848" stroke-width="0.2" text-anchor="end">2.0</text><line x1="439.60" y1="273.15" x2="441.20" y2="273.15" stroke="#555" stroke-width="0.8" /><text x="439.00" y="274.66" font-size="4.2" fill="#484848" stroke="#484848" stroke-width="0.2" text-anchor="end">1.5</text><line x1="439.60" y1="282.20" x2="441.20" y2="282.20" stroke="#555" stroke-width="0.8" /><text x="439.00" y="283.71" font-size="4.2" fill="#484848" stroke="#484848" stroke-width="0.2" text-anchor="end">1.0</text><line x1="439.60" y1="291.25" x2="441.20" y2="291.25" stroke="#555" stroke-width="0.8" /><text x="439.00" y="292.76" font-size="4.2" fill="#484848" stroke="#484848" stroke-width="0.2" text-anchor="end">0.5</text><line x1="439.60" y1="300.30" x2="441.20" y2="300.30" stroke="#555" stroke-width="0.8" /><text x="439.00" y="301.81" font-size="4.2" fill="#484848" stroke="#484848" stroke-width="0.2" text-anchor="end">0.0</text><line x1="450.00" y1="282.00" x2="450.00" y2="282.40" stroke="#000050" stroke-width="0.9" /><line x1="448.20" y1="282.00" x2="451.80" y2="282.00" stroke="#000050" stroke-width="0.9" /><rect x="446.50" y="282.90" width="7.00" height="17.40" fill="#0808b0" stroke="#000050" stroke-width="1.0" /><line x1="450.00" y1="300.30" x2="450.00" y2="301.60" stroke="#555" stroke-width="0.7" /><line x1="462.65" y1="274.40" x2="462.65" y2="277.40" stroke="#005a00" stroke-width="0.9" /><line x1="460.85" y1="274.40" x2="464.45" y2="274.40" stroke="#005a00" stroke-width="0.9" /><rect x="459.00" y="277.90" width="7.30" height="22.40" fill="#00c000" stroke="#005a00" stroke-width="1.0" /><line x1="462.65" y1="300.30" x2="462.65" y2="301.60" stroke="#555" stroke-width="0.7" /><line x1="475.30" y1="277.40" x2="475.30" y2="279.80" stroke="#3f3f00" stroke-width="0.9" /><line x1="473.50" y1="277.40" x2="477.10" y2="277.40" stroke="#3f3f00" stroke-width="0.9" /><rect x="471.90" y="280.30" width="6.80" height="20.00" fill="#7f7f00" stroke="#3f3f00" stroke-width="1.0" /><line x1="475.30" y1="300.30" x2="475.30" y2="301.60" stroke="#555" stroke-width="0.7" /><line x1="487.75" y1="255.20" x2="487.75" y2="256.30" stroke="#7a0000" stroke-width="0.9" /><line x1="485.95" y1="255.20" x2="489.55" y2="255.20" stroke="#7a0000" stroke-width="0.9" /><rect x="484.30" y="256.80" width="6.90" height="43.50" fill="#ff0000" stroke="#7a0000" stroke-width="1.0" /><line x1="487.75" y1="300.30" x2="487.75" y2="301.60" stroke="#555" stroke-width="0.7" /><line x1="449.80" y1="261.30" x2="477.50" y2="261.30" stroke="#3c3c3c" stroke-width="1.05" /><polyline points="461.90,261.30 461.90,246.30 487.50,246.30 487.50,253.50" fill="none" stroke="#3c3c3c" stroke-width="1.05"/><text x="474.30" y="246.47" font-size="11.0" stroke="#1e1e1e" stroke-width="0.2" text-anchor="middle">*</text><g transform="translate(451.52,308.35) rotate(-45)"><text x="-36.01" y="0.00" font-size="10.00" stroke="#1e1e1e" stroke-width="0.2" textLength="36.01" lengthAdjust="spacingAndGlyphs">Untreated</text></g><g transform="translate(466.30,308.93) rotate(-45)"><text x="-33.77" y="0.00" font-size="10.00" stroke="#1e1e1e" stroke-width="0.2" textLength="13.79" lengthAdjust="spacingAndGlyphs">Exo</text><text x="-19.99" y="-3.60" font-size="6.20" fill="#6e6e6e" stroke="#6e6e6e" stroke-width="0.2" textLength="19.99" lengthAdjust="spacingAndGlyphs">EpCAM+</text></g><g transform="translate(477.48,311.10) rotate(-45)"><text x="-22.33" y="0.00" font-size="10.00" stroke="#1e1e1e" stroke-width="0.2" textLength="13.79" lengthAdjust="spacingAndGlyphs">Exo</text><text x="-8.55" y="-3.60" font-size="6.20" fill="#6e6e6e" stroke="#6e6e6e" stroke-width="0.2" textLength="8.55" lengthAdjust="spacingAndGlyphs">3T3</text></g><g transform="translate(492.73,310.67) rotate(-45)"><text x="-24.81" y="0.00" font-size="10.00" stroke="#1e1e1e" stroke-width="0.2" textLength="13.79" lengthAdjust="spacingAndGlyphs">Exo</text><text x="-11.02" y="-3.60" font-size="6.20" fill="#6e6e6e" stroke="#6e6e6e" stroke-width="0.2" textLength="11.02" lengthAdjust="spacingAndGlyphs">MSC</text></g><line x1="450.40" y1="269.60" x2="476.70" y2="269.60" stroke="#555" stroke-width="0.9" /><line x1="450.40" y1="267.00" x2="450.40" y2="272.20" stroke="#555" stroke-width="0.9" /><line x1="476.70" y1="267.00" x2="476.70" y2="272.20" stroke="#555" stroke-width="0.9" /><text x="464.00" y="268.40" font-size="5.5" fill="#7a7a8a" stroke="#7a7a8a" stroke-width="0.2" text-anchor="middle">NS</text><line x1="450.40" y1="277.70" x2="456.70" y2="277.70" stroke="#555" stroke-width="0.9" /><line x1="450.40" y1="275.30" x2="450.40" y2="280.00" stroke="#555" stroke-width="0.9" /><line x1="456.70" y1="275.30" x2="456.70" y2="280.00" stroke="#555" stroke-width="0.9" /><text x="455.00" y="276.30" font-size="5.0" fill="#8a8ab0" stroke="#8a8ab0" stroke-width="0.2" text-anchor="middle">NS</text><g transform="translate(416.00,273.40) rotate(-90)"><text x="-30.60" y="0.00" font-size="10.30" stroke="#1e1e1e" stroke-width="0.2" textLength="61.20" lengthAdjust="spacingAndGlyphs">Arginase activity</text></g><g transform="translate(427.80,275.90) rotate(-90)"><text x="-26.55" y="0.00" font-size="10.30" stroke="#1e1e1e" stroke-width="0.2" textLength="53.10" lengthAdjust="spacingAndGlyphs">(Fold change)</text></g><line x1="439.80" y1="342.30" x2="439.80" y2="399.10" stroke="#555" stroke-width="1.0" /><line x1="439.30" y1="398.60" x2="495.50" y2="398.60" stroke="#555" stroke-width="1.0" /><line x1="438.20" y1="342.30" x2="439.80" y2="342.30" stroke="#555" stroke-width="0.8" /><text x="437.60" y="343.81" font-size="4.2" fill="#484848" stroke="#484848" stroke-width="0.2" text-anchor="end">80</text><line x1="438.20" y1="361.07" x2="439.80" y2="361.07" stroke="#555" stroke-width="0.8" /><text x="437.60" y="362.58" font-size="4.2" fill="#484848" stroke="#484848" stroke-width="0.2" text-anchor="end">70</text><line x1="438.20" y1="379.83" x2="439.80" y2="379.83" stroke="#555" stroke-width="0.8" /><text x="437.60" y="381.35" font-size="4.2" fill="#484848" stroke="#484848" stroke-width="0.2" text-anchor="end">60</text><line x1="438.20" y1="398.60" x2="439.80" y2="398.60" stroke="#555" stroke-width="0.8" /><text x="437.60" y="400.11" font-size="4.2" fill="#484848" stroke="#484848" stroke-width="0.2" text-anchor="end">50</text><line x1="447.85" y1="370.80" x2="447.85" y2="371.20" stroke="#000050" stroke-width="0.9" /><line x1="446.05" y1="370.80" x2="449.65" y2="370.80" stroke="#000050" stroke-width="0.9" /><rect x="444.50" y="371.70" width="6.70" height="26.90" fill="#0808b0" stroke="#000050" stroke-width="1.0" /><line x1="447.85" y1="398.60" x2="447.85" y2="399.90" stroke="#555" stroke-width="0.7" /><line x1="460.55" y1="369.60" x2="460.55" y2="370.00" stroke="#005a00" stroke-width="0.9" /><line x1="458.75" y1="369.60" x2="462.35" y2="369.60" stroke="#005a00" stroke-width="0.9" /><rect x="457.00" y="370.50" width="7.10" height="28.10" fill="#00c000" stroke="#005a00" stroke-width="1.0" /><line x1="460.55" y1="398.60" x2="460.55" y2="399.90" stroke="#555" stroke-width="0.7" /><line x1="473.65" y1="369.60" x2="473.65" y2="370.00" stroke="#3f3f00" stroke-width="0.9" /><line x1="471.85" y1="369.60" x2="475.45" y2="369.60" stroke="#3f3f00" stroke-width="0.9" /><rect x="470.10" y="370.50" width="7.10" height="28.10" fill="#7f7f00" stroke="#3f3f00" stroke-width="1.0" /><line x1="473.65" y1="398.60" x2="473.65" y2="399.90" stroke="#555" stroke-width="0.7" /><line x1="486.65" y1="354.20" x2="486.65" y2="357.10" stroke="#7a0000" stroke-width="0.9" /><line x1="484.85" y1="354.20" x2="488.45" y2="354.20" stroke="#7a0000" stroke-width="0.9" /><rect x="483.00" y="357.60" width="7.30" height="41.00" fill="#ff0000" stroke="#7a0000" stroke-width="1.0" /><line x1="486.65" y1="398.60" x2="486.65" y2="399.90" stroke="#555" stroke-width="0.7" /><line x1="448.80" y1="361.30" x2="473.80" y2="361.30" stroke="#3c3c3c" stroke-width="1.05" /><polyline points="459.00,361.30 459.00,343.70 486.30,343.70 486.30,350.40" fill="none" stroke="#3c3c3c" stroke-width="1.05"/><text x="473.30" y="344.87" font-size="11.0" stroke="#1e1e1e" stroke-width="0.2" text-anchor="middle">***</text><g transform="translate(449.12,407.95) rotate(-45)"><text x="-36.01" y="0.00" font-size="10.00" stroke="#1e1e1e" stroke-width="0.2" textLength="36.01" lengthAdjust="spacingAndGlyphs">Untreated</text></g><g transform="translate(464.70,408.93) rotate(-45)"><text x="-33.77" y="0.00" font-size="10.00" stroke="#1e1e1e" stroke-width="0.2" textLength="13.79" lengthAdjust="spacingAndGlyphs">Exo</text><text x="-19.99" y="-3.60" font-size="6.20" fill="#6e6e6e" stroke="#6e6e6e" stroke-width="0.2" textLength="19.99" lengthAdjust="spacingAndGlyphs">EpCAM+</text></g><g transform="translate(475.98,410.70) rotate(-45)"><text x="-22.33" y="0.00" font-size="10.00" stroke="#1e1e1e" stroke-width="0.2" textLength="13.79" lengthAdjust="spacingAndGlyphs">Exo</text><text x="-8.55" y="-3.60" font-size="6.20" fill="#6e6e6e" stroke="#6e6e6e" stroke-width="0.2" textLength="8.55" lengthAdjust="spacingAndGlyphs">3T3</text></g><g transform="translate(490.77,410.27) rotate(-45)"><text x="-24.81" y="0.00" font-size="10.00" stroke="#1e1e1e" stroke-width="0.2" textLength="13.79" lengthAdjust="spacingAndGlyphs">Exo</text><text x="-11.02" y="-3.60" font-size="6.20" fill="#6e6e6e" stroke="#6e6e6e" stroke-width="0.2" textLength="11.02" lengthAdjust="spacingAndGlyphs">MSC</text></g><g transform="translate(427.60,373.60) rotate(-90)"><text x="-27.25" y="0.00" font-size="10.80" stroke="#1e1e1e" stroke-width="0.2" textLength="54.50" lengthAdjust="spacingAndGlyphs">IL-10  (pg/mL)</text></g><text x="0.8" y="251" font-size="14">B</text><text x="269.6" y="13.6" font-size="14">C</text><text x="392.6" y="251.2" font-size="14">D</text><text x="393.2" y="348.8" font-size="14">E</text><text x="1.2" y="474.4" font-size="14">F</text><text x="1.0" y="578.5" font-size="14">G</text><rect x="29.50" y="150.30" width="54.00" height="53.90" fill="#ffffff" stroke="#6e6e6e" stroke-width="0.8" /><line x1="28.30" y1="161.08" x2="29.50" y2="161.08" stroke="#555" stroke-width="0.6" /><line x1="40.30" y1="204.20" x2="40.30" y2="205.40" stroke="#555" stroke-width="0.6" /><line x1="28.30" y1="171.86" x2="29.50" y2="171.86" stroke="#555" stroke-width="0.6" /><line x1="51.10" y1="204.20" x2="51.10" y2="205.40" stroke="#555" stroke-width="0.6" /><line x1="28.30" y1="182.64" x2="29.50" y2="182.64" stroke="#555" stroke-width="0.6" /><line x1="61.90" y1="204.20" x2="61.90" y2="205.40" stroke="#555" stroke-width="0.6" /><line x1="28.30" y1="193.42" x2="29.50" y2="193.42" stroke="#555" stroke-width="0.6" /><line x1="72.70" y1="204.20" x2="72.70" y2="205.40" stroke="#555" stroke-width="0.6" /><rect x="28.50" y="191.20" width="1.20" height="1.60" fill="#222" stroke="none" stroke-width="1.0" /><rect x="44.08" y="204.20" width="1.60" height="1.20" fill="#222" stroke="none" stroke-width="1.0" /><rect x="43.50" y="150.80" width="20.50" height="33.20" fill="none" stroke="#8a8a8a" stroke-width="0.8" /><path d="M50.00,166.00 C51.10,164.65 52.57,163.77 54.00,163.40 C55.43,163.03 57.73,162.70 58.60,163.80 C59.47,164.90 59.23,167.80 59.20,170.00 C59.17,172.20 58.27,174.83 58.40,177.00 C58.53,179.17 59.78,181.17 60.00,183.00 C60.22,184.83 60.13,186.43 59.70,188.00 C59.27,189.57 58.68,191.58 57.40,192.40 C56.12,193.22 53.70,192.93 52.00,192.90 C50.30,192.87 48.13,193.18 47.20,192.20 C46.27,191.22 46.50,189.37 46.40,187.00 C46.30,184.63 46.43,180.58 46.60,178.00 C46.77,175.42 46.83,173.50 47.40,171.50 C47.97,169.50 48.90,167.35 50.00,166.00 Z" fill="#c0c0f6" stroke="#14148c" stroke-width="1.2"/><path d="M50.65,171.59 C51.46,170.59 52.55,169.94 53.61,169.67 C54.67,169.39 56.37,169.15 57.01,169.96 C57.66,170.78 57.48,172.92 57.46,174.55 C57.43,176.18 56.77,178.13 56.87,179.73 C56.96,181.33 57.89,182.81 58.05,184.17 C58.21,185.53 58.15,186.71 57.83,187.87 C57.51,189.03 57.08,190.52 56.13,191.13 C55.18,191.73 53.39,191.52 52.13,191.50 C50.87,191.47 49.27,191.71 48.58,190.98 C47.89,190.25 48.06,188.88 47.99,187.13 C47.91,185.38 48.01,182.38 48.13,180.47 C48.26,178.56 48.31,177.14 48.73,175.66 C49.15,174.18 49.84,172.59 50.65,171.59 Z" fill="#a8a8f2" stroke="#3c3cd6" stroke-width="0.5"/><path d="M51.25,176.75 C51.80,176.07 52.53,175.63 53.25,175.45 C53.97,175.27 55.12,175.10 55.55,175.65 C55.98,176.20 55.87,177.65 55.85,178.75 C55.83,179.85 55.38,181.17 55.45,182.25 C55.52,183.33 56.14,184.33 56.25,185.25 C56.36,186.17 56.32,186.97 56.10,187.75 C55.88,188.53 55.59,189.54 54.95,189.95 C54.31,190.36 53.10,190.22 52.25,190.20 C51.40,190.18 50.32,190.34 49.85,189.85 C49.38,189.36 49.50,188.43 49.45,187.25 C49.40,186.07 49.47,184.04 49.55,182.75 C49.63,181.46 49.67,180.50 49.95,179.50 C50.23,178.50 50.70,177.43 51.25,176.75 Z" fill="#bcbcf6" stroke="#3c3cd6" stroke-width="0.5"/><path d="M51.80,181.48 C52.11,181.10 52.52,180.85 52.92,180.75 C53.32,180.65 53.97,180.56 54.21,180.86 C54.45,181.17 54.39,181.98 54.38,182.60 C54.37,183.22 54.11,183.95 54.15,184.56 C54.19,185.17 54.54,185.73 54.60,186.24 C54.66,186.75 54.64,187.20 54.52,187.64 C54.39,188.08 54.23,188.64 53.87,188.87 C53.51,189.10 52.84,189.02 52.36,189.01 C51.88,189.00 51.28,189.09 51.02,188.82 C50.75,188.54 50.82,188.02 50.79,187.36 C50.76,186.70 50.80,185.56 50.85,184.84 C50.89,184.12 50.91,183.58 51.07,183.02 C51.23,182.46 51.49,181.86 51.80,181.48 Z" fill="#9c9cf0" stroke="#3c3cd6" stroke-width="0.5"/><path d="M50.5,171 Q54,177 57.5,184" stroke="#2020c8" stroke-width="1.4" fill="none"/><text x="32.50" y="160.80" font-size="10.2" stroke="#1e1e1e" stroke-width="0.2" textLength="23.40" lengthAdjust="spacingAndGlyphs">29.3%</text><text x="30.80" y="201.50" font-size="10.20" stroke="#1e1e1e" stroke-width="0.2" textLength="36.80" lengthAdjust="spacingAndGlyphs">Untreated</text><rect x="89.60" y="150.30" width="53.90" height="53.90" fill="#ffffff" stroke="#6e6e6e" stroke-width="0.8" /><line x1="88.40" y1="161.08" x2="89.60" y2="161.08" stroke="#555" stroke-width="0.6" /><line x1="100.38" y1="204.20" x2="100.38" y2="205.40" stroke="#555" stroke-width="0.6" /><line x1="88.40" y1="171.86" x2="89.60" y2="171.86" stroke="#555" stroke-width="0.6" /><line x1="111.16" y1="204.20" x2="111.16" y2="205.40" stroke="#555" stroke-width="0.6" /><line x1="88.40" y1="182.64" x2="89.60" y2="182.64" stroke="#555" stroke-width="0.6" /><line x1="121.94" y1="204.20" x2="121.94" y2="205.40" stroke="#555" stroke-width="0.6" /><line x1="88.40" y1="193.42" x2="89.60" y2="193.42" stroke="#555" stroke-width="0.6" /><line x1="132.72" y1="204.20" x2="132.72" y2="205.40" stroke="#555" stroke-width="0.6" /><rect x="88.60" y="191.20" width="1.20" height="1.60" fill="#222" stroke="none" stroke-width="1.0" /><rect x="104.15" y="204.20" width="1.60" height="1.20" fill="#222" stroke="none" stroke-width="1.0" /><rect x="103.40" y="150.80" width="21.40" height="32.90" fill="none" stroke="#8a8a8a" stroke-width="0.8" /><path d="M109.00,163.80 C110.17,162.57 112.38,162.70 114.00,162.60 C115.62,162.50 117.90,161.97 118.70,163.20 C119.50,164.43 118.83,167.53 118.80,170.00 C118.77,172.47 118.62,175.33 118.50,178.00 C118.38,180.67 118.43,183.75 118.10,186.00 C117.77,188.25 117.43,190.45 116.50,191.50 C115.57,192.55 113.92,192.25 112.50,192.30 C111.08,192.35 109.02,192.52 108.00,191.80 C106.98,191.08 106.63,190.30 106.40,188.00 C106.17,185.70 106.50,181.00 106.60,178.00 C106.70,175.00 106.60,172.37 107.00,170.00 C107.40,167.63 107.83,165.03 109.00,163.80 Z" fill="#f8c4c4" stroke="#b01818" stroke-width="1.0"/><path d="M109.65,170.22 C110.51,169.31 112.15,169.41 113.35,169.33 C114.55,169.26 116.24,168.87 116.83,169.78 C117.42,170.69 116.93,172.98 116.90,174.81 C116.88,176.64 116.77,178.76 116.68,180.73 C116.59,182.70 116.63,184.99 116.38,186.65 C116.14,188.31 115.89,189.94 115.20,190.72 C114.51,191.50 113.29,191.28 112.24,191.31 C111.19,191.35 109.66,191.47 108.91,190.94 C108.16,190.41 107.90,189.83 107.73,188.13 C107.55,186.43 107.80,182.95 107.87,180.73 C107.95,178.51 107.87,176.56 108.17,174.81 C108.47,173.06 108.79,171.13 109.65,170.22 Z" fill="#f4acac" stroke="#e23a3a" stroke-width="0.5"/><path d="M110.25,176.15 C110.83,175.53 111.94,175.60 112.75,175.55 C113.56,175.50 114.70,175.23 115.10,175.85 C115.50,176.47 115.17,178.02 115.15,179.25 C115.13,180.48 115.06,181.92 115.00,183.25 C114.94,184.58 114.97,186.12 114.80,187.25 C114.63,188.38 114.47,189.47 114.00,190.00 C113.53,190.53 112.71,190.38 112.00,190.40 C111.29,190.43 110.26,190.51 109.75,190.15 C109.24,189.79 109.07,189.40 108.95,188.25 C108.83,187.10 109.00,184.75 109.05,183.25 C109.10,181.75 109.05,180.43 109.25,179.25 C109.45,178.07 109.67,176.77 110.25,176.15 Z" fill="#f8c0c0" stroke="#e23a3a" stroke-width="0.5"/><path d="M110.80,181.58 C111.13,181.24 111.75,181.28 112.20,181.25 C112.65,181.22 113.29,181.07 113.52,181.42 C113.74,181.76 113.55,182.63 113.54,183.32 C113.53,184.01 113.49,184.81 113.46,185.56 C113.43,186.31 113.44,187.17 113.35,187.80 C113.25,188.43 113.16,189.05 112.90,189.34 C112.64,189.63 112.18,189.55 111.78,189.56 C111.38,189.58 110.80,189.62 110.52,189.42 C110.24,189.22 110.14,189.00 110.07,188.36 C110.01,187.72 110.10,186.40 110.13,185.56 C110.16,184.72 110.13,183.98 110.24,183.32 C110.35,182.66 110.47,181.93 110.80,181.58 Z" fill="#f2a0a0" stroke="#e23a3a" stroke-width="0.5"/><text x="92.00" y="160.80" font-size="10.2" stroke="#1e1e1e" stroke-width="0.2" textLength="24.20" lengthAdjust="spacingAndGlyphs">52.1%</text><text x="91.90" y="201.50" font-size="10.20" stroke="#1e1e1e" stroke-width="0.2" textLength="14.43" lengthAdjust="spacingAndGlyphs">Exo</text><text x="106.33" y="196.91" font-size="6.12" fill="#707070" stroke="#707070" stroke-width="0.2" textLength="11.17" lengthAdjust="spacingAndGlyphs">MSC</text><g transform="translate(24.90,191.85) rotate(-90)"><text x="-8.85" y="0.00" font-size="10.00" stroke="#1e1e1e" stroke-width="0.2" textLength="17.70" lengthAdjust="spacingAndGlyphs">IA/IE</text></g><line x1="22.50" y1="181.80" x2="22.50" y2="172.60" stroke="#1e1e1e" stroke-width="1.15" /><path d="M20.90,173.70 L22.50,170.10 L24.10,173.70 Z" fill="#1e1e1e"/><text x="34.70" y="214.60" font-size="10" stroke="#1e1e1e" stroke-width="0.2" textLength="21.10" lengthAdjust="spacingAndGlyphs">F4/80</text><line x1="58.40" y1="211.80" x2="66.10" y2="211.80" stroke="#1e1e1e" stroke-width="1.15" /><path d="M65.00,210.20 L68.60,211.80 L65.00,213.40 Z" fill="#1e1e1e"/><text x="14.40" y="261.00" font-size="10.40" stroke="#1e1e1e" stroke-width="0.2" textLength="53.55" lengthAdjust="spacingAndGlyphs">Viable CD11b</text><text x="67.95" y="256.32" font-size="6.86" stroke="#1e1e1e" stroke-width="0.2" textLength="3.40" lengthAdjust="spacingAndGlyphs">+</text><text x="71.34" y="261.00" font-size="10.40" stroke="#1e1e1e" stroke-width="0.2" textLength="22.53" lengthAdjust="spacingAndGlyphs">F4/80</text><text x="93.87" y="256.32" font-size="6.86" stroke="#1e1e1e" stroke-width="0.2" textLength="3.40" lengthAdjust="spacingAndGlyphs">+</text><text x="97.27" y="261.00" font-size="10.40" stroke="#1e1e1e" stroke-width="0.2" textLength="20.73" lengthAdjust="spacingAndGlyphs">Ly6G</text><text x="118.00" y="256.32" font-size="6.86" stroke="#1e1e1e" stroke-width="0.2" textLength="1.94" lengthAdjust="spacingAndGlyphs">-</text><text x="119.93" y="261.00" font-size="10.40" stroke="#1e1e1e" stroke-width="0.2" textLength="20.24" lengthAdjust="spacingAndGlyphs">Ly6C</text><text x="140.17" y="256.32" font-size="6.86" stroke="#1e1e1e" stroke-width="0.2" textLength="3.40" lengthAdjust="spacingAndGlyphs">+</text><text x="143.57" y="261.00" font-size="10.40" stroke="#1e1e1e" stroke-width="0.2" textLength="19.10" lengthAdjust="spacingAndGlyphs">IA/IE</text><text x="162.66" y="256.32" font-size="6.86" stroke="#1e1e1e" stroke-width="0.2" textLength="1.94" lengthAdjust="spacingAndGlyphs">-</text><rect x="28.60" y="264.20" width="54.20" height="53.80" fill="#ffffff" stroke="#6e6e6e" stroke-width="0.8" /><line x1="27.40" y1="274.96" x2="28.60" y2="274.96" stroke="#555" stroke-width="0.6" /><line x1="39.44" y1="318.00" x2="39.44" y2="319.20" stroke="#555" stroke-width="0.6" /><line x1="27.40" y1="285.72" x2="28.60" y2="285.72" stroke="#555" stroke-width="0.6" /><line x1="50.28" y1="318.00" x2="50.28" y2="319.20" stroke="#555" stroke-width="0.6" /><line x1="27.40" y1="296.48" x2="28.60" y2="296.48" stroke="#555" stroke-width="0.6" /><line x1="61.12" y1="318.00" x2="61.12" y2="319.20" stroke="#555" stroke-width="0.6" /><line x1="27.40" y1="307.24" x2="28.60" y2="307.24" stroke="#555" stroke-width="0.6" /><line x1="71.96" y1="318.00" x2="71.96" y2="319.20" stroke="#555" stroke-width="0.6" /><rect x="27.60" y="305.00" width="1.20" height="1.60" fill="#222" stroke="none" stroke-width="1.0" /><rect x="43.23" y="318.00" width="1.60" height="1.20" fill="#222" stroke="none" stroke-width="1.0" /><rect x="46.00" y="267.50" width="22.60" height="23.90" fill="none" stroke="#8a8a8a" stroke-width="0.8" /><path d="M51.00,279.20 C52.20,277.89 54.26,276.32 55.92,276.15 C57.57,275.97 59.71,277.12 60.93,278.15 C62.15,279.19 62.81,280.74 63.23,282.37 C63.64,284.00 63.52,285.99 63.39,287.95 C63.26,289.92 62.58,292.37 62.47,294.16 C62.36,295.95 62.40,297.20 62.74,298.69 C63.08,300.17 64.94,301.58 64.51,303.08 C64.09,304.59 61.95,306.95 60.19,307.73 C58.44,308.51 55.78,308.07 53.97,307.75 C52.16,307.42 50.27,307.11 49.31,305.80 C48.36,304.50 48.48,302.21 48.25,299.93 C48.03,297.64 47.86,294.75 47.94,292.10 C48.02,289.45 48.23,286.18 48.74,284.03 C49.25,281.88 49.80,280.51 51.00,279.20 Z" fill="#9494f2" stroke="#2020b8" stroke-width="1.0"/><path d="M51.77,281.04 C52.69,280.12 54.47,279.90 55.81,279.84 C57.14,279.78 58.70,280.09 59.78,280.66 C60.86,281.24 61.94,282.03 62.27,283.31 C62.60,284.60 62.04,286.75 61.76,288.37 C61.48,290.00 60.64,291.58 60.60,293.04 C60.55,294.51 61.03,295.79 61.48,297.18 C61.93,298.56 63.71,300.29 63.31,301.34 C62.91,302.39 60.56,303.15 59.07,303.47 C57.57,303.79 55.84,303.24 54.36,303.26 C52.88,303.28 51.01,304.39 50.19,303.57 C49.36,302.75 49.46,300.34 49.42,298.33 C49.37,296.33 49.79,293.71 49.93,291.55 C50.07,289.39 49.94,287.11 50.24,285.36 C50.55,283.61 50.84,281.96 51.77,281.04 Z" fill="#a8a8f4" stroke="#4040da" stroke-width="0.5"/><path d="M52.93,283.84 C53.69,283.15 54.74,282.31 55.74,282.07 C56.75,281.84 58.20,281.91 58.96,282.44 C59.72,282.98 60.14,284.20 60.29,285.27 C60.45,286.33 60.02,287.66 59.91,288.86 C59.80,290.05 59.58,291.33 59.62,292.46 C59.67,293.59 59.97,294.72 60.18,295.61 C60.39,296.50 61.22,297.10 60.88,297.81 C60.54,298.52 59.17,299.38 58.12,299.89 C57.06,300.41 55.66,300.85 54.56,300.89 C53.46,300.94 52.06,301.01 51.53,300.15 C50.99,299.29 51.38,297.20 51.33,295.71 C51.28,294.22 51.23,292.77 51.21,291.19 C51.19,289.61 50.93,287.45 51.22,286.22 C51.50,284.99 52.18,284.53 52.93,283.84 Z" fill="#8c8cf0" stroke="#4040da" stroke-width="0.5"/><path d="M53.65,285.56 C54.11,285.03 55.00,284.55 55.67,284.53 C56.33,284.50 57.12,284.99 57.62,285.38 C58.11,285.78 58.47,286.26 58.65,286.89 C58.84,287.52 58.79,288.37 58.72,289.16 C58.65,289.95 58.28,290.91 58.22,291.62 C58.16,292.33 58.19,292.80 58.35,293.42 C58.52,294.05 59.37,294.77 59.21,295.39 C59.05,296.01 58.11,296.89 57.39,297.14 C56.67,297.39 55.63,297.02 54.91,296.89 C54.18,296.75 53.42,296.79 53.02,296.33 C52.62,295.86 52.60,295.01 52.51,294.09 C52.43,293.17 52.44,291.90 52.50,290.83 C52.56,289.76 52.68,288.56 52.87,287.68 C53.06,286.80 53.18,286.08 53.65,285.56 Z" fill="#a4a4f4" stroke="#4040da" stroke-width="0.5"/><path d="M54.59,287.82 C54.83,287.60 55.24,287.53 55.58,287.49 C55.91,287.45 56.33,287.46 56.60,287.60 C56.87,287.73 57.13,287.99 57.20,288.32 C57.27,288.66 57.09,289.20 57.02,289.61 C56.95,290.01 56.78,290.39 56.78,290.76 C56.78,291.14 56.93,291.51 57.04,291.85 C57.15,292.19 57.54,292.57 57.43,292.81 C57.32,293.04 56.74,293.18 56.37,293.28 C56.00,293.37 55.58,293.35 55.21,293.38 C54.84,293.41 54.34,293.69 54.14,293.47 C53.94,293.24 54.02,292.55 54.01,292.04 C54.01,291.52 54.11,290.92 54.13,290.38 C54.15,289.84 54.07,289.23 54.15,288.81 C54.22,288.38 54.35,288.04 54.59,287.82 Z" fill="#8888f0" stroke="#4040da" stroke-width="0.5"/><text x="31.70" y="276.30" font-size="10.2" stroke="#1e1e1e" stroke-width="0.2" textLength="24.60" lengthAdjust="spacingAndGlyphs">54.4%</text><text x="30.80" y="314.80" font-size="10.20" stroke="#1e1e1e" stroke-width="0.2" textLength="37.50" lengthAdjust="spacingAndGlyphs">Untreated</text><rect x="87.50" y="264.20" width="53.80" height="53.80" fill="#ffffff" stroke="#6e6e6e" stroke-width="0.8" /><line x1="86.30" y1="274.96" x2="87.50" y2="274.96" stroke="#555" stroke-width="0.6" /><line x1="98.26" y1="318.00" x2="98.26" y2="319.20" stroke="#555" stroke-width="0.6" /><line x1="86.30" y1="285.72" x2="87.50" y2="285.72" stroke="#555" stroke-width="0.6" /><line x1="109.02" y1="318.00" x2="109.02" y2="319.20" stroke="#555" stroke-width="0.6" /><line x1="86.30" y1="296.48" x2="87.50" y2="296.48" stroke="#555" stroke-width="0.6" /><line x1="119.78" y1="318.00" x2="119.78" y2="319.20" stroke="#555" stroke-width="0.6" /><line x1="86.30" y1="307.24" x2="87.50" y2="307.24" stroke="#555" stroke-width="0.6" /><line x1="130.54" y1="318.00" x2="130.54" y2="319.20" stroke="#555" stroke-width="0.6" /><rect x="86.50" y="305.00" width="1.20" height="1.60" fill="#222" stroke="none" stroke-width="1.0" /><rect x="102.03" y="318.00" width="1.60" height="1.20" fill="#222" stroke="none" stroke-width="1.0" /><rect x="105.20" y="267.50" width="22.60" height="23.90" fill="none" stroke="#8a8a8a" stroke-width="0.8" /><path d="M109.50,274.80 C110.56,273.73 112.74,271.45 114.38,271.15 C116.02,270.84 118.03,271.92 119.34,272.96 C120.65,273.99 121.70,275.53 122.24,277.37 C122.78,279.21 122.72,281.66 122.59,283.98 C122.46,286.29 121.71,289.14 121.46,291.24 C121.20,293.34 120.99,294.87 121.07,296.58 C121.16,298.29 122.46,299.75 121.97,301.47 C121.48,303.19 119.67,305.98 118.14,306.90 C116.60,307.83 114.36,307.41 112.76,307.03 C111.16,306.65 109.34,306.46 108.52,304.61 C107.70,302.76 108.03,299.19 107.85,295.92 C107.67,292.65 107.42,288.06 107.45,285.00 C107.48,281.94 107.70,279.24 108.04,277.54 C108.38,275.84 108.44,275.87 109.50,274.80 Z" fill="#f4a0a0" stroke="#d42020" stroke-width="1.0"/><path d="M110.40,276.54 C111.23,275.81 113.16,275.01 114.49,274.84 C115.82,274.67 117.24,274.93 118.38,275.51 C119.52,276.09 120.89,276.87 121.32,278.31 C121.75,279.76 121.25,282.31 120.98,284.19 C120.70,286.06 119.83,287.83 119.67,289.56 C119.50,291.29 119.76,292.95 119.98,294.57 C120.21,296.19 121.46,298.10 121.02,299.28 C120.57,300.46 118.63,301.28 117.34,301.64 C116.05,302.00 114.60,301.43 113.28,301.46 C111.95,301.49 110.12,303.05 109.41,301.84 C108.69,300.62 108.97,296.97 108.97,294.17 C108.96,291.36 109.29,287.49 109.38,285.00 C109.48,282.51 109.37,280.61 109.54,279.20 C109.71,277.79 109.58,277.26 110.40,276.54 Z" fill="#f6b2b2" stroke="#e24040" stroke-width="0.5"/><path d="M111.78,279.18 C112.45,278.65 113.57,277.38 114.56,277.07 C115.55,276.76 116.89,276.79 117.70,277.32 C118.51,277.85 119.17,279.08 119.42,280.27 C119.66,281.45 119.26,283.02 119.15,284.43 C119.04,285.83 118.79,287.35 118.74,288.69 C118.69,290.03 118.80,291.46 118.85,292.48 C118.91,293.51 119.45,294.05 119.08,294.84 C118.72,295.63 117.58,296.60 116.66,297.22 C115.74,297.83 114.53,298.46 113.55,298.52 C112.57,298.59 111.22,298.80 110.76,297.60 C110.31,296.39 110.83,293.38 110.80,291.28 C110.78,289.18 110.68,286.83 110.63,285.00 C110.58,283.17 110.32,281.24 110.52,280.28 C110.71,279.31 111.10,279.72 111.78,279.18 Z" fill="#f29a9a" stroke="#e24040" stroke-width="0.5"/><path d="M112.62,280.80 C113.03,280.37 113.98,279.61 114.63,279.53 C115.29,279.44 116.04,279.91 116.57,280.31 C117.10,280.70 117.60,281.17 117.84,281.89 C118.07,282.60 118.05,283.66 117.98,284.58 C117.90,285.51 117.52,286.61 117.40,287.44 C117.28,288.27 117.21,288.84 117.27,289.56 C117.33,290.29 117.94,291.07 117.75,291.78 C117.56,292.49 116.77,293.52 116.14,293.82 C115.52,294.11 114.65,293.71 114.01,293.55 C113.37,293.39 112.63,293.53 112.28,292.85 C111.94,292.18 112.00,290.81 111.94,289.50 C111.87,288.19 111.85,286.23 111.88,285.00 C111.92,283.77 112.05,282.80 112.17,282.10 C112.29,281.40 112.21,281.23 112.62,280.80 Z" fill="#f6b0b0" stroke="#e24040" stroke-width="0.5"/><path d="M113.73,282.94 C113.94,282.77 114.39,282.55 114.72,282.49 C115.06,282.43 115.44,282.42 115.72,282.56 C116.01,282.69 116.34,282.95 116.44,283.32 C116.53,283.70 116.37,284.33 116.30,284.80 C116.23,285.27 116.05,285.70 116.02,286.15 C115.99,286.59 116.08,287.06 116.13,287.46 C116.19,287.86 116.46,288.27 116.34,288.53 C116.22,288.80 115.74,288.94 115.42,289.05 C115.10,289.16 114.74,289.15 114.41,289.19 C114.08,289.23 113.60,289.63 113.42,289.30 C113.25,288.98 113.37,287.96 113.37,287.24 C113.38,286.52 113.46,285.62 113.47,285.00 C113.48,284.38 113.40,283.85 113.45,283.51 C113.49,283.16 113.52,283.11 113.73,282.94 Z" fill="#f09090" stroke="#e24040" stroke-width="0.5"/><text x="92.50" y="276.30" font-size="10.2" stroke="#1e1e1e" stroke-width="0.2" textLength="24.00" lengthAdjust="spacingAndGlyphs">76.7%</text><text x="90.60" y="315.30" font-size="10.20" stroke="#1e1e1e" stroke-width="0.2" textLength="14.66" lengthAdjust="spacingAndGlyphs">Exo</text><text x="105.26" y="310.71" font-size="6.12" fill="#707070" stroke="#707070" stroke-width="0.2" textLength="11.34" lengthAdjust="spacingAndGlyphs">MSC</text><g transform="translate(24.70,298.10) rotate(-90)"><text x="-15.70" y="0.00" font-size="10.50" stroke="#1e1e1e" stroke-width="0.2" textLength="31.40" lengthAdjust="spacingAndGlyphs">CD206</text></g><line x1="22.50" y1="281.20" x2="22.50" y2="273.00" stroke="#1e1e1e" stroke-width="1.15" /><path d="M20.90,274.10 L22.50,270.50 L24.10,274.10 Z" fill="#1e1e1e"/><text x="31.70" y="327.00" font-size="10" stroke="#1e1e1e" stroke-width="0.2" textLength="25.00" lengthAdjust="spacingAndGlyphs">F4/80</text><line x1="57.70" y1="324.40" x2="66.70" y2="324.40" stroke="#1e1e1e" stroke-width="1.15" /><path d="M65.60,322.80 L69.20,324.40 L65.60,326.00 Z" fill="#1e1e1e"/><text x="10.00" y="352.00" font-size="10.40" stroke="#1e1e1e" stroke-width="0.2" textLength="54.27" lengthAdjust="spacingAndGlyphs">Viable CD11b</text><text x="64.27" y="347.32" font-size="6.86" stroke="#1e1e1e" stroke-width="0.2" textLength="3.44" lengthAdjust="spacingAndGlyphs">+</text><text x="67.71" y="352.00" font-size="10.40" stroke="#1e1e1e" stroke-width="0.2" textLength="22.83" lengthAdjust="spacingAndGlyphs">F4/80</text><text x="90.54" y="347.32" font-size="6.86" stroke="#1e1e1e" stroke-width="0.2" textLength="3.44" lengthAdjust="spacingAndGlyphs">+</text><text x="93.98" y="352.00" font-size="10.40" stroke="#1e1e1e" stroke-width="0.2" textLength="21.01" lengthAdjust="spacingAndGlyphs">Ly6G</text><text x="114.99" y="347.32" font-size="6.86" stroke="#1e1e1e" stroke-width="0.2" textLength="1.96" lengthAdjust="spacingAndGlyphs">-</text><text x="116.95" y="352.00" font-size="10.40" stroke="#1e1e1e" stroke-width="0.2" textLength="20.51" lengthAdjust="spacingAndGlyphs">Ly6C</text><text x="137.46" y="347.32" font-size="6.86" stroke="#1e1e1e" stroke-width="0.2" textLength="3.44" lengthAdjust="spacingAndGlyphs">+</text><text x="140.91" y="352.00" font-size="10.40" stroke="#1e1e1e" stroke-width="0.2" textLength="19.35" lengthAdjust="spacingAndGlyphs">IA/IE</text><text x="160.26" y="347.32" font-size="6.86" stroke="#1e1e1e" stroke-width="0.2" textLength="3.44" lengthAdjust="spacingAndGlyphs">+</text><rect x="29.50" y="356.50" width="54.00" height="53.70" fill="#ffffff" stroke="#6e6e6e" stroke-width="0.8" /><line x1="28.30" y1="367.24" x2="29.50" y2="367.24" stroke="#555" stroke-width="0.6" /><line x1="40.30" y1="410.20" x2="40.30" y2="411.40" stroke="#555" stroke-width="0.6" /><line x1="28.30" y1="377.98" x2="29.50" y2="377.98" stroke="#555" stroke-width="0.6" /><line x1="51.10" y1="410.20" x2="51.10" y2="411.40" stroke="#555" stroke-width="0.6" /><line x1="28.30" y1="388.72" x2="29.50" y2="388.72" stroke="#555" stroke-width="0.6" /><line x1="61.90" y1="410.20" x2="61.90" y2="411.40" stroke="#555" stroke-width="0.6" /><line x1="28.30" y1="399.46" x2="29.50" y2="399.46" stroke="#555" stroke-width="0.6" /><line x1="72.70" y1="410.20" x2="72.70" y2="411.40" stroke="#555" stroke-width="0.6" /><rect x="28.50" y="397.20" width="1.20" height="1.60" fill="#222" stroke="none" stroke-width="1.0" /><rect x="44.08" y="410.20" width="1.60" height="1.20" fill="#222" stroke="none" stroke-width="1.0" /><rect x="51.40" y="357.20" width="25.40" height="28.20" fill="none" stroke="#8a8a8a" stroke-width="0.8" /><path d="M55.50,369.40 C56.59,369.01 58.40,368.06 59.90,368.12 C61.40,368.18 63.00,369.55 64.48,369.77 C65.96,369.99 67.59,369.28 68.76,369.44 C69.93,369.59 71.02,369.32 71.47,370.70 C71.93,372.09 71.63,375.36 71.48,377.74 C71.33,380.13 70.58,382.68 70.57,385.03 C70.55,387.38 71.22,389.62 71.37,391.85 C71.53,394.08 72.39,396.98 71.50,398.41 C70.61,399.84 67.80,400.31 66.06,400.43 C64.32,400.54 62.73,399.13 61.06,399.08 C59.39,399.03 57.34,400.11 56.04,400.12 C54.74,400.12 53.69,400.46 53.24,399.10 C52.79,397.75 53.17,394.32 53.34,391.97 C53.51,389.63 54.26,387.56 54.23,385.04 C54.21,382.52 53.31,379.30 53.17,376.87 C53.03,374.44 53.00,371.72 53.39,370.47 C53.78,369.23 54.41,369.79 55.50,369.40 Z" fill="#5858e0" stroke="#1a1ab8" stroke-width="1.1"/><path d="M56.59,371.98 C57.41,371.68 59.26,372.18 60.51,372.32 C61.76,372.47 62.85,373.00 64.10,372.85 C65.36,372.69 67.07,371.27 68.02,371.39 C68.97,371.50 69.59,372.16 69.81,373.54 C70.03,374.93 69.44,377.76 69.35,379.70 C69.27,381.64 69.14,383.28 69.29,385.18 C69.44,387.09 70.21,389.35 70.26,391.12 C70.31,392.88 70.41,394.75 69.58,395.76 C68.75,396.78 66.65,396.94 65.26,397.20 C63.87,397.47 62.63,397.21 61.25,397.35 C59.87,397.48 57.97,398.25 56.99,398.03 C56.02,397.82 55.70,397.27 55.39,396.06 C55.09,394.86 55.19,392.61 55.16,390.79 C55.13,388.97 55.27,387.20 55.22,385.15 C55.16,383.10 54.76,380.32 54.82,378.49 C54.87,376.65 55.26,375.25 55.56,374.16 C55.85,373.08 55.76,372.29 56.59,371.98 Z" fill="#7676ea" stroke="#f0f0ff" stroke-width="0.55"/><path d="M58.20,375.80 C58.88,375.59 59.96,375.10 60.90,374.98 C61.84,374.87 62.88,375.07 63.83,375.09 C64.78,375.11 65.93,374.83 66.61,375.11 C67.30,375.39 67.66,375.81 67.92,376.75 C68.19,377.70 68.17,379.34 68.18,380.78 C68.19,382.21 67.98,383.85 67.98,385.34 C67.98,386.83 68.17,388.37 68.16,389.73 C68.15,391.09 68.49,392.55 67.93,393.49 C67.38,394.44 65.89,395.18 64.82,395.40 C63.75,395.63 62.58,394.95 61.53,394.84 C60.47,394.73 59.28,394.87 58.50,394.74 C57.72,394.60 57.19,394.81 56.83,394.02 C56.48,393.23 56.34,391.44 56.38,389.99 C56.41,388.55 56.95,386.95 57.02,385.36 C57.10,383.77 56.88,381.98 56.84,380.46 C56.80,378.95 56.56,377.03 56.78,376.26 C57.01,375.48 57.51,376.01 58.20,375.80 Z" fill="#5656e0" stroke="#f0f0ff" stroke-width="0.55"/><path d="M59.21,378.19 C59.69,378.00 60.62,377.77 61.32,377.86 C62.01,377.94 62.71,378.62 63.39,378.69 C64.08,378.75 64.88,378.23 65.43,378.26 C65.98,378.28 66.51,378.18 66.69,378.85 C66.88,379.52 66.64,381.16 66.55,382.28 C66.46,383.39 66.15,384.48 66.17,385.56 C66.19,386.64 66.60,387.72 66.68,388.75 C66.76,389.78 67.09,391.12 66.66,391.74 C66.23,392.36 64.90,392.43 64.10,392.48 C63.29,392.52 62.61,391.99 61.84,392.02 C61.06,392.05 60.05,392.66 59.46,392.65 C58.86,392.64 58.45,392.65 58.27,391.99 C58.09,391.33 58.32,389.76 58.38,388.69 C58.44,387.61 58.69,386.71 58.65,385.55 C58.61,384.39 58.17,382.82 58.13,381.72 C58.08,380.63 58.20,379.57 58.38,378.98 C58.56,378.39 58.72,378.37 59.21,378.19 Z" fill="#7474ea" stroke="#f0f0ff" stroke-width="0.55"/><path d="M60.52,381.31 C60.81,381.21 61.40,381.36 61.83,381.38 C62.25,381.39 62.63,381.47 63.06,381.40 C63.49,381.34 64.08,380.92 64.39,380.99 C64.70,381.07 64.86,381.37 64.94,381.85 C65.01,382.32 64.86,383.20 64.85,383.84 C64.84,384.49 64.83,385.07 64.87,385.71 C64.92,386.36 65.13,387.14 65.13,387.73 C65.13,388.32 65.14,388.90 64.87,389.26 C64.59,389.62 63.92,389.77 63.46,389.88 C62.99,390.00 62.53,389.92 62.07,389.94 C61.60,389.97 60.98,390.13 60.65,390.03 C60.33,389.94 60.22,389.78 60.10,389.39 C59.99,389.00 59.95,388.29 59.94,387.67 C59.92,387.06 60.00,386.41 60.00,385.71 C60.00,385.01 59.92,384.12 59.94,383.49 C59.96,382.87 60.03,382.33 60.13,381.96 C60.23,381.60 60.24,381.41 60.52,381.31 Z" fill="#5252de" stroke="#f0f0ff" stroke-width="0.55"/><text x="40.40" y="366.50" font-size="10.2" stroke="#1e1e1e" stroke-width="0.2" textLength="24.00" lengthAdjust="spacingAndGlyphs">46.4%</text><text x="31.70" y="407.30" font-size="10.20" stroke="#1e1e1e" stroke-width="0.2" textLength="37.50" lengthAdjust="spacingAndGlyphs">Untreated</text><rect x="88.30" y="356.50" width="53.50" height="53.70" fill="#ffffff" stroke="#6e6e6e" stroke-width="0.8" /><line x1="87.10" y1="367.24" x2="88.30" y2="367.24" stroke="#555" stroke-width="0.6" /><line x1="99.00" y1="410.20" x2="99.00" y2="411.40" stroke="#555" stroke-width="0.6" /><line x1="87.10" y1="377.98" x2="88.30" y2="377.98" stroke="#555" stroke-width="0.6" /><line x1="109.70" y1="410.20" x2="109.70" y2="411.40" stroke="#555" stroke-width="0.6" /><line x1="87.10" y1="388.72" x2="88.30" y2="388.72" stroke="#555" stroke-width="0.6" /><line x1="120.40" y1="410.20" x2="120.40" y2="411.40" stroke="#555" stroke-width="0.6" /><line x1="87.10" y1="399.46" x2="88.30" y2="399.46" stroke="#555" stroke-width="0.6" /><line x1="131.10" y1="410.20" x2="131.10" y2="411.40" stroke="#555" stroke-width="0.6" /><rect x="87.30" y="397.20" width="1.20" height="1.60" fill="#222" stroke="none" stroke-width="1.0" /><rect x="102.75" y="410.20" width="1.60" height="1.20" fill="#222" stroke="none" stroke-width="1.0" /><rect x="110.50" y="357.20" width="25.20" height="28.20" fill="none" stroke="#8a8a8a" stroke-width="0.8" /><path d="M113.00,366.60 C114.03,366.05 116.03,365.29 117.86,365.12 C119.69,364.95 122.26,365.46 123.97,365.58 C125.69,365.70 126.87,365.57 128.14,365.86 C129.41,366.15 130.97,366.33 131.60,367.30 C132.23,368.26 132.10,369.52 131.92,371.65 C131.75,373.78 130.70,377.38 130.54,380.08 C130.38,382.79 130.69,385.49 130.96,387.88 C131.23,390.26 132.09,392.55 132.15,394.38 C132.22,396.21 133.05,398.05 131.35,398.85 C129.66,399.64 125.11,399.11 121.98,399.15 C118.85,399.20 114.38,400.58 112.55,399.10 C110.72,397.62 111.11,393.13 111.00,390.28 C110.88,387.43 111.73,384.66 111.84,382.00 C111.96,379.35 111.73,376.62 111.70,374.35 C111.67,372.08 111.44,369.68 111.66,368.39 C111.88,367.10 111.97,367.15 113.00,366.60 Z" fill="#f06c6c" stroke="#d01c1c" stroke-width="1.0"/><path d="M114.32,369.15 C115.21,368.88 117.19,369.37 118.72,369.32 C120.25,369.28 122.06,369.13 123.50,368.89 C124.95,368.65 126.33,367.66 127.36,367.88 C128.40,368.10 129.37,369.14 129.72,370.21 C130.07,371.29 129.56,372.61 129.46,374.33 C129.35,376.06 129.05,378.39 129.11,380.55 C129.16,382.70 129.64,385.36 129.77,387.26 C129.90,389.16 129.98,390.61 129.88,391.95 C129.78,393.29 130.48,394.46 129.15,395.31 C127.82,396.15 124.46,396.78 121.92,397.02 C119.37,397.25 115.29,398.13 113.87,396.73 C112.46,395.32 113.45,391.01 113.43,388.59 C113.41,386.17 113.85,384.40 113.76,382.20 C113.66,380.00 112.92,377.25 112.86,375.38 C112.80,373.51 113.16,372.01 113.40,370.98 C113.64,369.94 113.44,369.43 114.32,369.15 Z" fill="#f49090" stroke="#fde4e4" stroke-width="0.55"/><path d="M116.28,372.92 C116.90,372.56 118.11,372.26 119.26,371.98 C120.41,371.71 122.06,371.33 123.16,371.29 C124.26,371.25 125.13,371.36 125.87,371.73 C126.61,372.10 127.23,372.83 127.60,373.51 C127.97,374.19 128.09,374.56 128.10,375.82 C128.10,377.07 127.73,379.30 127.64,381.02 C127.55,382.73 127.48,384.63 127.53,386.11 C127.58,387.58 127.87,388.67 127.93,389.87 C128.00,391.07 128.94,392.66 127.92,393.33 C126.91,394.00 123.82,393.98 121.82,393.92 C119.83,393.86 117.09,394.04 115.96,392.97 C114.84,391.89 115.22,389.23 115.07,387.46 C114.92,385.68 115.05,384.03 115.04,382.33 C115.03,380.64 114.92,378.63 115.00,377.27 C115.09,375.90 115.32,374.87 115.53,374.14 C115.74,373.42 115.66,373.28 116.28,372.92 Z" fill="#f06c6c" stroke="#fde4e4" stroke-width="0.55"/><path d="M117.50,375.28 C117.99,375.06 118.99,374.88 119.84,374.86 C120.70,374.83 121.82,375.13 122.61,375.15 C123.41,375.17 124.01,374.90 124.61,374.99 C125.21,375.07 125.95,375.18 126.22,375.66 C126.49,376.14 126.30,376.88 126.20,377.88 C126.10,378.88 125.65,380.44 125.61,381.67 C125.57,382.91 125.82,384.20 125.95,385.30 C126.09,386.39 126.43,387.46 126.43,388.26 C126.42,389.07 126.71,389.75 125.92,390.12 C125.14,390.48 123.16,390.36 121.72,390.44 C120.28,390.51 118.12,391.27 117.29,390.59 C116.45,389.90 116.72,387.67 116.70,386.33 C116.68,384.99 117.12,383.78 117.16,382.55 C117.19,381.33 116.98,380.03 116.93,378.97 C116.89,377.90 116.79,376.77 116.89,376.16 C116.98,375.54 117.01,375.50 117.50,375.28 Z" fill="#f49090" stroke="#fde4e4" stroke-width="0.55"/><path d="M119.10,378.37 C119.39,378.26 120.04,378.43 120.56,378.38 C121.08,378.33 121.71,378.16 122.20,378.07 C122.69,377.97 123.17,377.71 123.51,377.82 C123.85,377.93 124.12,378.37 124.24,378.74 C124.36,379.11 124.24,379.46 124.22,380.03 C124.21,380.60 124.15,381.41 124.16,382.14 C124.17,382.88 124.28,383.80 124.30,384.44 C124.32,385.08 124.33,385.52 124.30,385.99 C124.28,386.46 124.59,386.95 124.15,387.26 C123.71,387.58 122.51,387.81 121.64,387.87 C120.78,387.93 119.42,388.10 118.94,387.60 C118.47,387.10 118.81,385.70 118.78,384.88 C118.76,384.07 118.84,383.47 118.80,382.72 C118.75,381.97 118.53,381.00 118.53,380.38 C118.53,379.76 118.70,379.33 118.80,378.99 C118.89,378.66 118.81,378.47 119.10,378.37 Z" fill="#ec5c5c" stroke="#fde4e4" stroke-width="0.55"/><text x="98.30" y="366.50" font-size="10.2" stroke="#1e1e1e" stroke-width="0.2" textLength="24.40" lengthAdjust="spacingAndGlyphs">60.5%</text><text x="91.20" y="407.30" font-size="10.20" stroke="#1e1e1e" stroke-width="0.2" textLength="14.66" lengthAdjust="spacingAndGlyphs">Exo</text><text x="105.86" y="402.71" font-size="6.12" fill="#707070" stroke="#707070" stroke-width="0.2" textLength="11.34" lengthAdjust="spacingAndGlyphs">MSC</text><g transform="translate(24.90,391.50) rotate(-90)"><text x="-14.50" y="0.00" font-size="10.50" stroke="#1e1e1e" stroke-width="0.2" textLength="29.00" lengthAdjust="spacingAndGlyphs">CD206</text></g><line x1="22.30" y1="375.20" x2="22.30" y2="364.20" stroke="#1e1e1e" stroke-width="1.15" /><path d="M20.70,365.30 L22.30,361.70 L23.90,365.30 Z" fill="#1e1e1e"/><text x="35.60" y="420.80" font-size="10" stroke="#1e1e1e" stroke-width="0.2" textLength="21.10" lengthAdjust="spacingAndGlyphs">IA/IE</text><line x1="58.70" y1="418.00" x2="65.80" y2="418.00" stroke="#1e1e1e" stroke-width="1.15" /><path d="M64.70,416.40 L68.30,418.00 L64.70,419.60 Z" fill="#1e1e1e"/><text x="292.50" y="10.60" font-size="10.20" stroke="#1e1e1e" stroke-width="0.2" textLength="54.15" lengthAdjust="spacingAndGlyphs">Viable CD11b</text><text x="346.65" y="6.01" font-size="6.73" stroke="#1e1e1e" stroke-width="0.2" textLength="3.43" lengthAdjust="spacingAndGlyphs">+</text><text x="350.08" y="10.60" font-size="10.20" stroke="#1e1e1e" stroke-width="0.2" textLength="22.78" lengthAdjust="spacingAndGlyphs">F4/80</text><text x="372.87" y="6.01" font-size="6.73" stroke="#1e1e1e" stroke-width="0.2" textLength="3.43" lengthAdjust="spacingAndGlyphs">+</text><text x="292.50" y="20.20" font-size="10.20" stroke="#1e1e1e" stroke-width="0.2" textLength="21.40" lengthAdjust="spacingAndGlyphs">Ly6G</text><text x="313.90" y="15.61" font-size="6.73" stroke="#1e1e1e" stroke-width="0.2" textLength="2.00" lengthAdjust="spacingAndGlyphs">-</text><text x="315.90" y="20.20" font-size="10.20" stroke="#1e1e1e" stroke-width="0.2" textLength="20.89" lengthAdjust="spacingAndGlyphs">Ly6C</text><text x="336.79" y="15.61" font-size="6.73" stroke="#1e1e1e" stroke-width="0.2" textLength="3.51" lengthAdjust="spacingAndGlyphs">+</text><text x="340.29" y="20.20" font-size="10.20" stroke="#1e1e1e" stroke-width="0.2" textLength="19.71" lengthAdjust="spacingAndGlyphs">IA/IE</text><text x="360.00" y="15.61" font-size="6.73" stroke="#1e1e1e" stroke-width="0.2" textLength="2.00" lengthAdjust="spacingAndGlyphs">-</text><rect x="293.60" y="27.20" width="53.90" height="53.40" fill="#ffffff" stroke="#6e6e6e" stroke-width="0.8" /><line x1="292.40" y1="37.88" x2="293.60" y2="37.88" stroke="#555" stroke-width="0.6" /><line x1="304.38" y1="80.60" x2="304.38" y2="81.80" stroke="#555" stroke-width="0.6" /><line x1="292.40" y1="48.56" x2="293.60" y2="48.56" stroke="#555" stroke-width="0.6" /><line x1="315.16" y1="80.60" x2="315.16" y2="81.80" stroke="#555" stroke-width="0.6" /><line x1="292.40" y1="59.24" x2="293.60" y2="59.24" stroke="#555" stroke-width="0.6" /><line x1="325.94" y1="80.60" x2="325.94" y2="81.80" stroke="#555" stroke-width="0.6" /><line x1="292.40" y1="69.92" x2="293.60" y2="69.92" stroke="#555" stroke-width="0.6" /><line x1="336.72" y1="80.60" x2="336.72" y2="81.80" stroke="#555" stroke-width="0.6" /><rect x="292.60" y="67.60" width="1.20" height="1.60" fill="#222" stroke="none" stroke-width="1.0" /><rect x="308.15" y="80.60" width="1.60" height="1.20" fill="#222" stroke="none" stroke-width="1.0" /><rect x="307.00" y="27.50" width="20.70" height="19.80" fill="none" stroke="#8a8a8a" stroke-width="0.8" /><path d="M313.20,40.00 C314.23,39.17 316.22,37.27 317.60,37.00 C318.98,36.73 320.67,37.40 321.50,38.40 C322.33,39.40 322.53,41.40 322.60,43.00 C322.67,44.60 322.28,46.33 321.90,48.00 C321.52,49.67 320.78,51.42 320.30,53.00 C319.82,54.58 319.45,56.07 319.00,57.50 C318.55,58.93 318.33,61.12 317.60,61.60 C316.87,62.08 315.60,61.10 314.60,60.40 C313.60,59.70 312.27,58.80 311.60,57.40 C310.93,56.00 310.77,53.82 310.60,52.00 C310.43,50.18 310.47,48.17 310.60,46.50 C310.73,44.83 310.97,43.08 311.40,42.00 C311.83,40.92 312.17,40.83 313.20,40.00 Z" fill="#c4c4f8" stroke="#2a2ab0" stroke-width="1.0"/><path d="M314.06,41.69 C314.82,41.07 316.29,39.67 317.31,39.47 C318.34,39.27 319.58,39.77 320.20,40.51 C320.82,41.25 320.96,42.73 321.01,43.91 C321.06,45.09 320.78,46.38 320.50,47.61 C320.21,48.84 319.67,50.14 319.31,51.31 C318.95,52.48 318.68,53.58 318.35,54.64 C318.02,55.70 317.86,57.32 317.31,57.67 C316.77,58.03 315.83,57.30 315.09,56.79 C314.35,56.27 313.37,55.60 312.87,54.57 C312.38,53.53 312.26,51.91 312.13,50.57 C312.01,49.23 312.04,47.73 312.13,46.50 C312.23,45.27 312.41,43.97 312.73,43.17 C313.05,42.37 313.29,42.31 314.06,41.69 Z" fill="#acacf4" stroke="#3c3cd0" stroke-width="0.5"/><path d="M314.85,43.25 C315.37,42.83 316.36,41.88 317.05,41.75 C317.74,41.62 318.58,41.95 319.00,42.45 C319.42,42.95 319.52,43.95 319.55,44.75 C319.58,45.55 319.39,46.42 319.20,47.25 C319.01,48.08 318.64,48.96 318.40,49.75 C318.16,50.54 317.98,51.28 317.75,52.00 C317.52,52.72 317.42,53.81 317.05,54.05 C316.68,54.29 316.05,53.80 315.55,53.45 C315.05,53.10 314.38,52.65 314.05,51.95 C313.72,51.25 313.63,50.16 313.55,49.25 C313.47,48.34 313.48,47.33 313.55,46.50 C313.62,45.67 313.73,44.79 313.95,44.25 C314.17,43.71 314.33,43.67 314.85,43.25 Z" fill="#c0c0f6" stroke="#3c3cd0" stroke-width="0.5"/><path d="M315.58,44.68 C315.87,44.45 316.42,43.91 316.81,43.84 C317.20,43.77 317.67,43.95 317.90,44.23 C318.13,44.51 318.19,45.07 318.21,45.52 C318.23,45.97 318.12,46.45 318.01,46.92 C317.90,47.39 317.70,47.88 317.56,48.32 C317.43,48.76 317.33,49.18 317.20,49.58 C317.07,49.98 317.01,50.59 316.81,50.73 C316.60,50.86 316.25,50.59 315.97,50.39 C315.69,50.20 315.31,49.94 315.13,49.55 C314.94,49.16 314.89,48.55 314.85,48.04 C314.80,47.53 314.81,46.97 314.85,46.50 C314.89,46.03 314.95,45.54 315.07,45.24 C315.19,44.94 315.29,44.91 315.58,44.68 Z" fill="#a0a0f2" stroke="#3c3cd0" stroke-width="0.5"/><path d="M311.8,57.2 Q314.5,62.2 318.4,60.8" stroke="#00008a" stroke-width="1.9" fill="none"/><text x="294.40" y="36.50" font-size="10.2" stroke="#1e1e1e" stroke-width="0.2" textLength="24.10" lengthAdjust="spacingAndGlyphs">42.7%</text><text x="295.40" y="77.00" font-size="10.20" stroke="#1e1e1e" stroke-width="0.2" textLength="37.50" lengthAdjust="spacingAndGlyphs">Untreated</text><rect x="352.30" y="27.20" width="53.50" height="53.40" fill="#ffffff" stroke="#6e6e6e" stroke-width="0.8" /><line x1="351.10" y1="37.88" x2="352.30" y2="37.88" stroke="#555" stroke-width="0.6" /><line x1="363.00" y1="80.60" x2="363.00" y2="81.80" stroke="#555" stroke-width="0.6" /><line x1="351.10" y1="48.56" x2="352.30" y2="48.56" stroke="#555" stroke-width="0.6" /><line x1="373.70" y1="80.60" x2="373.70" y2="81.80" stroke="#555" stroke-width="0.6" /><line x1="351.10" y1="59.24" x2="352.30" y2="59.24" stroke="#555" stroke-width="0.6" /><line x1="384.40" y1="80.60" x2="384.40" y2="81.80" stroke="#555" stroke-width="0.6" /><line x1="351.10" y1="69.92" x2="352.30" y2="69.92" stroke="#555" stroke-width="0.6" /><line x1="395.10" y1="80.60" x2="395.10" y2="81.80" stroke="#555" stroke-width="0.6" /><rect x="351.30" y="67.60" width="1.20" height="1.60" fill="#222" stroke="none" stroke-width="1.0" /><rect x="366.75" y="80.60" width="1.60" height="1.20" fill="#222" stroke="none" stroke-width="1.0" /><rect x="366.50" y="27.50" width="20.20" height="19.80" fill="none" stroke="#8a8a8a" stroke-width="0.8" /><path d="M370.60,40.60 C371.90,39.18 374.75,37.28 376.80,37.00 C378.85,36.72 381.87,37.90 382.90,38.90 C383.93,39.90 383.22,41.68 383.00,43.00 C382.78,44.32 382.13,45.50 381.60,46.80 C381.07,48.10 380.37,49.50 379.80,50.80 C379.23,52.10 378.70,53.27 378.20,54.60 C377.70,55.93 377.50,58.37 376.80,58.80 C376.10,59.23 374.83,57.90 374.00,57.20 C373.17,56.50 372.57,55.70 371.80,54.60 C371.03,53.50 369.87,52.12 369.40,50.60 C368.93,49.08 368.80,47.17 369.00,45.50 C369.20,43.83 369.30,42.02 370.60,40.60 Z" fill="#f8c8c8" stroke="#c42424" stroke-width="1.0"/><path d="M372.13,42.00 C373.10,40.96 375.20,39.55 376.72,39.34 C378.24,39.13 380.47,40.01 381.24,40.75 C382.00,41.49 381.47,42.81 381.31,43.78 C381.15,44.75 380.67,45.63 380.27,46.59 C379.88,47.55 379.36,48.59 378.94,49.55 C378.52,50.51 378.13,51.38 377.76,52.36 C377.39,53.35 377.24,55.15 376.72,55.47 C376.20,55.79 375.27,54.81 374.65,54.29 C374.03,53.77 373.59,53.18 373.02,52.36 C372.45,51.55 371.59,50.53 371.25,49.40 C370.90,48.28 370.80,46.86 370.95,45.63 C371.10,44.40 371.17,43.05 372.13,42.00 Z" fill="#f4b0b0" stroke="#e03c3c" stroke-width="0.5"/><path d="M373.55,43.30 C374.20,42.59 375.62,41.64 376.65,41.50 C377.67,41.36 379.18,41.95 379.70,42.45 C380.22,42.95 379.86,43.84 379.75,44.50 C379.64,45.16 379.32,45.75 379.05,46.40 C378.78,47.05 378.43,47.75 378.15,48.40 C377.87,49.05 377.60,49.63 377.35,50.30 C377.10,50.97 377.00,52.18 376.65,52.40 C376.30,52.62 375.67,51.95 375.25,51.60 C374.83,51.25 374.53,50.85 374.15,50.30 C373.77,49.75 373.18,49.06 372.95,48.30 C372.72,47.54 372.65,46.58 372.75,45.75 C372.85,44.92 372.90,44.01 373.55,43.30 Z" fill="#f8c4c4" stroke="#e03c3c" stroke-width="0.5"/><path d="M374.85,44.49 C375.21,44.09 376.01,43.56 376.58,43.48 C377.16,43.40 378.00,43.73 378.29,44.01 C378.58,44.29 378.38,44.79 378.32,45.16 C378.26,45.53 378.08,45.86 377.93,46.22 C377.78,46.59 377.58,46.98 377.42,47.34 C377.27,47.71 377.12,48.03 376.98,48.41 C376.84,48.78 376.78,49.46 376.58,49.58 C376.39,49.71 376.03,49.33 375.80,49.14 C375.57,48.94 375.40,48.72 375.18,48.41 C374.97,48.10 374.64,47.71 374.51,47.29 C374.38,46.86 374.34,46.33 374.40,45.86 C374.46,45.39 374.48,44.88 374.85,44.49 Z" fill="#f2a4a4" stroke="#e03c3c" stroke-width="0.5"/><path d="M374.2,53.6 L379.0,53.6 L376.8,59.2 Z" fill="#e00000"/><text x="354.20" y="36.50" font-size="10.2" stroke="#1e1e1e" stroke-width="0.2" textLength="25.00" lengthAdjust="spacingAndGlyphs">56.6%</text><text x="355.80" y="77.00" font-size="10.20" stroke="#1e1e1e" stroke-width="0.2" textLength="14.66" lengthAdjust="spacingAndGlyphs">Exo</text><text x="370.46" y="72.41" font-size="6.12" fill="#707070" stroke="#707070" stroke-width="0.2" textLength="11.34" lengthAdjust="spacingAndGlyphs">MSC</text><g transform="translate(288.90,63.90) rotate(-90)"><text x="-13.70" y="0.00" font-size="10.00" stroke="#1e1e1e" stroke-width="0.2" textLength="27.40" lengthAdjust="spacingAndGlyphs">PD-L1</text></g><line x1="286.20" y1="48.10" x2="286.20" y2="39.60" stroke="#1e1e1e" stroke-width="1.15" /><path d="M284.60,40.70 L286.20,37.10 L287.80,40.70 Z" fill="#1e1e1e"/><text x="295.40" y="91.30" font-size="10" stroke="#1e1e1e" stroke-width="0.2" textLength="25.90" lengthAdjust="spacingAndGlyphs">F4/80</text><line x1="325.20" y1="88.50" x2="332.30" y2="88.50" stroke="#1e1e1e" stroke-width="1.15" /><path d="M331.20,86.90 L334.80,88.50 L331.20,90.10 Z" fill="#1e1e1e"/><text x="297.30" y="131.50" font-size="10.20" stroke="#1e1e1e" stroke-width="0.2" textLength="52.34" lengthAdjust="spacingAndGlyphs">Viable CD11b</text><text x="349.64" y="126.91" font-size="6.73" stroke="#1e1e1e" stroke-width="0.2" textLength="3.32" lengthAdjust="spacingAndGlyphs">+</text><text x="352.96" y="131.50" font-size="10.20" stroke="#1e1e1e" stroke-width="0.2" textLength="22.02" lengthAdjust="spacingAndGlyphs">F4/80</text><text x="374.98" y="126.91" font-size="6.73" stroke="#1e1e1e" stroke-width="0.2" textLength="3.32" lengthAdjust="spacingAndGlyphs">+</text><text x="297.30" y="141.70" font-size="10.20" stroke="#1e1e1e" stroke-width="0.2" textLength="20.91" lengthAdjust="spacingAndGlyphs">Ly6G</text><text x="318.21" y="137.11" font-size="6.73" stroke="#1e1e1e" stroke-width="0.2" textLength="1.95" lengthAdjust="spacingAndGlyphs">-</text><text x="320.17" y="141.70" font-size="10.20" stroke="#1e1e1e" stroke-width="0.2" textLength="20.42" lengthAdjust="spacingAndGlyphs">Ly6C</text><text x="340.58" y="137.11" font-size="6.73" stroke="#1e1e1e" stroke-width="0.2" textLength="3.43" lengthAdjust="spacingAndGlyphs">+</text><text x="344.01" y="141.70" font-size="10.20" stroke="#1e1e1e" stroke-width="0.2" textLength="19.26" lengthAdjust="spacingAndGlyphs">IA/IE</text><text x="363.27" y="137.11" font-size="6.73" stroke="#1e1e1e" stroke-width="0.2" textLength="3.43" lengthAdjust="spacingAndGlyphs">+</text><rect x="294.60" y="150.30" width="54.60" height="53.30" fill="#ffffff" stroke="#6e6e6e" stroke-width="0.8" /><line x1="293.40" y1="160.96" x2="294.60" y2="160.96" stroke="#555" stroke-width="0.6" /><line x1="305.52" y1="203.60" x2="305.52" y2="204.80" stroke="#555" stroke-width="0.6" /><line x1="293.40" y1="171.62" x2="294.60" y2="171.62" stroke="#555" stroke-width="0.6" /><line x1="316.44" y1="203.60" x2="316.44" y2="204.80" stroke="#555" stroke-width="0.6" /><line x1="293.40" y1="182.28" x2="294.60" y2="182.28" stroke="#555" stroke-width="0.6" /><line x1="327.36" y1="203.60" x2="327.36" y2="204.80" stroke="#555" stroke-width="0.6" /><line x1="293.40" y1="192.94" x2="294.60" y2="192.94" stroke="#555" stroke-width="0.6" /><line x1="338.28" y1="203.60" x2="338.28" y2="204.80" stroke="#555" stroke-width="0.6" /><rect x="293.60" y="190.60" width="1.20" height="1.60" fill="#222" stroke="none" stroke-width="1.0" /><rect x="309.34" y="203.60" width="1.60" height="1.20" fill="#222" stroke="none" stroke-width="1.0" /><rect x="309.50" y="150.60" width="20.30" height="19.10" fill="none" stroke="#8a8a8a" stroke-width="0.8" /><path d="M314.20,159.20 C315.20,158.17 317.03,157.97 318.50,157.80 C319.97,157.63 321.65,157.75 323.00,158.20 C324.35,158.65 325.83,159.23 326.60,160.50 C327.37,161.77 327.60,163.88 327.60,165.80 C327.60,167.72 327.05,169.80 326.60,172.00 C326.15,174.20 325.53,176.75 324.90,179.00 C324.27,181.25 323.65,183.80 322.80,185.50 C321.95,187.20 320.88,188.38 319.80,189.20 C318.72,190.02 317.37,190.33 316.30,190.40 C315.23,190.47 314.05,190.67 313.40,189.60 C312.75,188.53 312.58,186.10 312.40,184.00 C312.22,181.90 312.32,179.33 312.30,177.00 C312.28,174.67 312.27,172.17 312.30,170.00 C312.33,167.83 312.18,165.80 312.50,164.00 C312.82,162.20 313.20,160.23 314.20,159.20 Z" fill="#a4a4f2" stroke="#1c1ca4" stroke-width="1.2"/><path d="M315.06,161.56 C315.86,160.73 317.33,160.57 318.50,160.44 C319.67,160.31 321.02,160.40 322.10,160.76 C323.18,161.12 324.37,161.59 324.98,162.60 C325.59,163.61 325.78,165.31 325.78,166.84 C325.78,168.37 325.34,170.04 324.98,171.80 C324.62,173.56 324.13,175.60 323.62,177.40 C323.11,179.20 322.62,181.24 321.94,182.60 C321.26,183.96 320.41,184.91 319.54,185.56 C318.67,186.21 317.59,186.47 316.74,186.52 C315.89,186.57 314.94,186.73 314.42,185.88 C313.90,185.03 313.77,183.08 313.62,181.40 C313.47,179.72 313.55,177.67 313.54,175.80 C313.53,173.93 313.51,171.93 313.54,170.20 C313.57,168.47 313.45,166.84 313.70,165.40 C313.95,163.96 314.26,162.39 315.06,161.56 Z" fill="#c4c4f8" stroke="#3a3ad4" stroke-width="0.55"/><path d="M315.92,163.92 C316.52,163.30 317.62,163.18 318.50,163.08 C319.38,162.98 320.39,163.05 321.20,163.32 C322.01,163.59 322.90,163.94 323.36,164.70 C323.82,165.46 323.96,166.73 323.96,167.88 C323.96,169.03 323.63,170.28 323.36,171.60 C323.09,172.92 322.72,174.45 322.34,175.80 C321.96,177.15 321.59,178.68 321.08,179.70 C320.57,180.72 319.93,181.43 319.28,181.92 C318.63,182.41 317.82,182.60 317.18,182.64 C316.54,182.68 315.83,182.80 315.44,182.16 C315.05,181.52 314.95,180.06 314.84,178.80 C314.73,177.54 314.79,176.00 314.78,174.60 C314.77,173.20 314.76,171.70 314.78,170.40 C314.80,169.10 314.71,167.88 314.90,166.80 C315.09,165.72 315.32,164.54 315.92,163.92 Z" fill="#9c9cf0" stroke="#3a3ad4" stroke-width="0.55"/><path d="M316.78,166.28 C317.18,165.87 317.91,165.79 318.50,165.72 C319.09,165.65 319.76,165.70 320.30,165.88 C320.84,166.06 321.43,166.29 321.74,166.80 C322.05,167.31 322.14,168.15 322.14,168.92 C322.14,169.69 321.92,170.52 321.74,171.40 C321.56,172.28 321.31,173.30 321.06,174.20 C320.81,175.10 320.56,176.12 320.22,176.80 C319.88,177.48 319.45,177.95 319.02,178.28 C318.59,178.61 318.05,178.73 317.62,178.76 C317.19,178.79 316.72,178.87 316.46,178.44 C316.20,178.01 316.13,177.04 316.06,176.20 C315.99,175.36 316.03,174.33 316.02,173.40 C316.01,172.47 316.01,171.47 316.02,170.60 C316.03,169.73 315.97,168.92 316.10,168.20 C316.23,167.48 316.38,166.69 316.78,166.28 Z" fill="#c0c0f6" stroke="#3a3ad4" stroke-width="0.55"/><path d="M317.64,168.64 C317.84,168.43 318.21,168.39 318.50,168.36 C318.79,168.33 319.13,168.35 319.40,168.44 C319.67,168.53 319.97,168.65 320.12,168.90 C320.27,169.15 320.32,169.58 320.32,169.96 C320.32,170.34 320.21,170.76 320.12,171.20 C320.03,171.64 319.91,172.15 319.78,172.60 C319.65,173.05 319.53,173.56 319.36,173.90 C319.19,174.24 318.98,174.48 318.76,174.64 C318.54,174.80 318.27,174.87 318.06,174.88 C317.85,174.89 317.61,174.93 317.48,174.72 C317.35,174.51 317.32,174.02 317.28,173.60 C317.24,173.18 317.26,172.67 317.26,172.20 C317.26,171.73 317.25,171.23 317.26,170.80 C317.27,170.37 317.24,169.96 317.30,169.60 C317.36,169.24 317.44,168.85 317.64,168.64 Z" fill="#9090ee" stroke="#3a3ad4" stroke-width="0.55"/><text x="297.00" y="159.00" font-size="10.2" stroke="#1e1e1e" stroke-width="0.2" textLength="24.30" lengthAdjust="spacingAndGlyphs">41.4%</text><text x="297.70" y="200.70" font-size="10.20" stroke="#1e1e1e" stroke-width="0.2" textLength="36.80" lengthAdjust="spacingAndGlyphs">Untreated</text><rect x="355.20" y="150.30" width="54.20" height="53.30" fill="#ffffff" stroke="#6e6e6e" stroke-width="0.8" /><line x1="354.00" y1="160.96" x2="355.20" y2="160.96" stroke="#555" stroke-width="0.6" /><line x1="366.04" y1="203.60" x2="366.04" y2="204.80" stroke="#555" stroke-width="0.6" /><line x1="354.00" y1="171.62" x2="355.20" y2="171.62" stroke="#555" stroke-width="0.6" /><line x1="376.88" y1="203.60" x2="376.88" y2="204.80" stroke="#555" stroke-width="0.6" /><line x1="354.00" y1="182.28" x2="355.20" y2="182.28" stroke="#555" stroke-width="0.6" /><line x1="387.72" y1="203.60" x2="387.72" y2="204.80" stroke="#555" stroke-width="0.6" /><line x1="354.00" y1="192.94" x2="355.20" y2="192.94" stroke="#555" stroke-width="0.6" /><line x1="398.56" y1="203.60" x2="398.56" y2="204.80" stroke="#555" stroke-width="0.6" /><rect x="354.20" y="190.60" width="1.20" height="1.60" fill="#222" stroke="none" stroke-width="1.0" /><rect x="369.83" y="203.60" width="1.60" height="1.20" fill="#222" stroke="none" stroke-width="1.0" /><rect x="369.70" y="150.60" width="20.10" height="18.80" fill="none" stroke="#8a8a8a" stroke-width="0.8" /><path d="M373.60,161.40 C374.47,160.00 376.10,159.03 377.50,158.60 C378.90,158.17 380.70,158.62 382.00,158.80 C383.30,158.98 384.53,159.00 385.30,159.70 C386.07,160.40 386.45,161.62 386.60,163.00 C386.75,164.38 386.50,166.17 386.20,168.00 C385.90,169.83 385.33,172.10 384.80,174.00 C384.27,175.90 383.77,177.70 383.00,179.40 C382.23,181.10 381.30,182.90 380.20,184.20 C379.10,185.50 377.50,186.77 376.40,187.20 C375.30,187.63 374.23,187.67 373.60,186.80 C372.97,185.93 372.87,183.97 372.60,182.00 C372.33,180.03 372.05,177.50 372.00,175.00 C371.95,172.50 372.03,169.27 372.30,167.00 C372.57,164.73 372.73,162.80 373.60,161.40 Z" fill="#f6b8b8" stroke="#c82020" stroke-width="1.0"/><path d="M374.52,163.52 C375.21,162.40 376.52,161.63 377.64,161.28 C378.76,160.93 380.20,161.29 381.24,161.44 C382.28,161.59 383.27,161.60 383.88,162.16 C384.49,162.72 384.80,163.69 384.92,164.80 C385.04,165.91 384.84,167.33 384.60,168.80 C384.36,170.27 383.91,172.08 383.48,173.60 C383.05,175.12 382.65,176.56 382.04,177.92 C381.43,179.28 380.68,180.72 379.80,181.76 C378.92,182.80 377.64,183.81 376.76,184.16 C375.88,184.51 375.03,184.53 374.52,183.84 C374.01,183.15 373.93,181.57 373.72,180.00 C373.51,178.43 373.28,176.40 373.24,174.40 C373.20,172.40 373.27,169.81 373.48,168.00 C373.69,166.19 373.83,164.64 374.52,163.52 Z" fill="#fad0d0" stroke="#e03434" stroke-width="0.55"/><path d="M375.44,165.64 C375.96,164.80 376.94,164.22 377.78,163.96 C378.62,163.70 379.70,163.97 380.48,164.08 C381.26,164.19 382.00,164.20 382.46,164.62 C382.92,165.04 383.15,165.77 383.24,166.60 C383.33,167.43 383.18,168.50 383.00,169.60 C382.82,170.70 382.48,172.06 382.16,173.20 C381.84,174.34 381.54,175.42 381.08,176.44 C380.62,177.46 380.06,178.54 379.40,179.32 C378.74,180.10 377.78,180.86 377.12,181.12 C376.46,181.38 375.82,181.40 375.44,180.88 C375.06,180.36 375.00,179.18 374.84,178.00 C374.68,176.82 374.51,175.30 374.48,173.80 C374.45,172.30 374.50,170.36 374.66,169.00 C374.82,167.64 374.92,166.48 375.44,165.64 Z" fill="#f4b0b0" stroke="#e03434" stroke-width="0.55"/><path d="M376.36,167.76 C376.71,167.20 377.36,166.81 377.92,166.64 C378.48,166.47 379.20,166.65 379.72,166.72 C380.24,166.79 380.73,166.80 381.04,167.08 C381.35,167.36 381.50,167.85 381.56,168.40 C381.62,168.95 381.52,169.67 381.40,170.40 C381.28,171.13 381.05,172.04 380.84,172.80 C380.63,173.56 380.43,174.28 380.12,174.96 C379.81,175.64 379.44,176.36 379.00,176.88 C378.56,177.40 377.92,177.91 377.48,178.08 C377.04,178.25 376.61,178.27 376.36,177.92 C376.11,177.57 376.07,176.79 375.96,176.00 C375.85,175.21 375.74,174.20 375.72,173.20 C375.70,172.20 375.73,170.91 375.84,170.00 C375.95,169.09 376.01,168.32 376.36,167.76 Z" fill="#f8c8c8" stroke="#e03434" stroke-width="0.55"/><path d="M377.28,169.88 C377.45,169.60 377.78,169.41 378.06,169.32 C378.34,169.23 378.70,169.32 378.96,169.36 C379.22,169.40 379.47,169.40 379.62,169.54 C379.77,169.68 379.85,169.92 379.88,170.20 C379.91,170.48 379.86,170.83 379.80,171.20 C379.74,171.57 379.63,172.02 379.52,172.40 C379.41,172.78 379.31,173.14 379.16,173.48 C379.01,173.82 378.82,174.18 378.60,174.44 C378.38,174.70 378.06,174.95 377.84,175.04 C377.62,175.13 377.41,175.13 377.28,174.96 C377.15,174.79 377.13,174.39 377.08,174.00 C377.03,173.61 376.97,173.10 376.96,172.60 C376.95,172.10 376.97,171.45 377.02,171.00 C377.07,170.55 377.11,170.16 377.28,169.88 Z" fill="#f09c9c" stroke="#e03434" stroke-width="0.55"/><text x="359.00" y="159.00" font-size="10.2" stroke="#1e1e1e" stroke-width="0.2" textLength="25.00" lengthAdjust="spacingAndGlyphs">52.6%</text><text x="356.50" y="200.70" font-size="10.20" stroke="#1e1e1e" stroke-width="0.2" textLength="14.94" lengthAdjust="spacingAndGlyphs">Exo</text><text x="371.44" y="196.11" font-size="6.12" fill="#707070" stroke="#707070" stroke-width="0.2" textLength="11.56" lengthAdjust="spacingAndGlyphs">MSC</text><g transform="translate(290.40,187.90) rotate(-90)"><text x="-12.50" y="0.00" font-size="10.00" stroke="#1e1e1e" stroke-width="0.2" textLength="25.00" lengthAdjust="spacingAndGlyphs">PD-L1</text></g><line x1="287.20" y1="173.50" x2="287.20" y2="163.50" stroke="#1e1e1e" stroke-width="1.15" /><path d="M285.60,164.60 L287.20,161.00 L288.80,164.60 Z" fill="#1e1e1e"/><text x="298.30" y="215.00" font-size="10" stroke="#1e1e1e" stroke-width="0.2" textLength="26.30" lengthAdjust="spacingAndGlyphs">F4/80</text><line x1="328.00" y1="211.80" x2="334.80" y2="211.80" stroke="#1e1e1e" stroke-width="1.15" /><path d="M333.70,210.20 L337.30,211.80 L333.70,213.40 Z" fill="#1e1e1e"/><rect x="20.20" y="475.40" width="10.47" height="13.56" fill="#fdd282" stroke="#aaa38c" stroke-width="0.55" /><rect x="30.67" y="475.40" width="10.47" height="13.56" fill="#e9f4df" stroke="#aaa38c" stroke-width="0.55" /><rect x="41.13" y="475.40" width="10.47" height="13.56" fill="#eef5d6" stroke="#aaa38c" stroke-width="0.55" /><rect x="20.20" y="488.96" width="10.47" height="13.56" fill="#fef3c2" stroke="#aaa38c" stroke-width="0.55" /><rect x="30.67" y="488.96" width="10.47" height="13.56" fill="#d6ebf5" stroke="#aaa38c" stroke-width="0.55" /><rect x="41.13" y="488.96" width="10.47" height="13.56" fill="#d9ecf3" stroke="#aaa38c" stroke-width="0.55" /><rect x="20.20" y="502.52" width="10.47" height="13.56" fill="#fddc8c" stroke="#aaa38c" stroke-width="0.55" /><rect x="30.67" y="502.52" width="10.47" height="13.56" fill="#fee090" stroke="#aaa38c" stroke-width="0.55" /><rect x="41.13" y="502.52" width="10.47" height="13.56" fill="#fee094" stroke="#aaa38c" stroke-width="0.55" /><rect x="20.20" y="516.08" width="10.47" height="13.56" fill="#fef0b2" stroke="#aaa38c" stroke-width="0.55" /><rect x="30.67" y="516.08" width="10.47" height="13.56" fill="#fef2b8" stroke="#aaa38c" stroke-width="0.55" /><rect x="41.13" y="516.08" width="10.47" height="13.56" fill="#dcedf4" stroke="#aaa38c" stroke-width="0.55" /><rect x="20.20" y="529.64" width="10.47" height="13.56" fill="#f0f7e2" stroke="#aaa38c" stroke-width="0.55" /><rect x="30.67" y="529.64" width="10.47" height="13.56" fill="#fef8ca" stroke="#aaa38c" stroke-width="0.55" /><rect x="41.13" y="529.64" width="10.47" height="13.56" fill="#f6f8d2" stroke="#aaa38c" stroke-width="0.55" /><rect x="20.20" y="475.40" width="31.40" height="67.80" fill="none" stroke="#a39c86" stroke-width="0.7" /><rect x="54.40" y="475.40" width="10.53" height="13.56" fill="#fee8a2" stroke="#aaa38c" stroke-width="0.55" /><rect x="64.93" y="475.40" width="10.53" height="13.56" fill="#fdd282" stroke="#aaa38c" stroke-width="0.55" /><rect x="75.47" y="475.40" width="10.53" height="13.56" fill="#fdcf7e" stroke="#aaa38c" stroke-width="0.55" /><rect x="54.40" y="488.96" width="10.53" height="13.56" fill="#fee9a6" stroke="#aaa38c" stroke-width="0.55" /><rect x="64.93" y="488.96" width="10.53" height="13.56" fill="#fef2b6" stroke="#aaa38c" stroke-width="0.55" /><rect x="75.47" y="488.96" width="10.53" height="13.56" fill="#fef3ba" stroke="#aaa38c" stroke-width="0.55" /><rect x="54.40" y="502.52" width="10.53" height="13.56" fill="#cae1f0" stroke="#aaa38c" stroke-width="0.55" /><rect x="64.93" y="502.52" width="10.53" height="13.56" fill="#bed8ec" stroke="#aaa38c" stroke-width="0.55" /><rect x="75.47" y="502.52" width="10.53" height="13.56" fill="#9ec5e4" stroke="#aaa38c" stroke-width="0.55" /><rect x="54.40" y="516.08" width="10.53" height="13.56" fill="#fee098" stroke="#aaa38c" stroke-width="0.55" /><rect x="64.93" y="516.08" width="10.53" height="13.56" fill="#fee9a6" stroke="#aaa38c" stroke-width="0.55" /><rect x="75.47" y="516.08" width="10.53" height="13.56" fill="#fef0b6" stroke="#aaa38c" stroke-width="0.55" /><rect x="54.40" y="529.64" width="10.53" height="13.56" fill="#fef5c2" stroke="#aaa38c" stroke-width="0.55" /><rect x="64.93" y="529.64" width="10.53" height="13.56" fill="#fef5c2" stroke="#aaa38c" stroke-width="0.55" /><rect x="75.47" y="529.64" width="10.53" height="13.56" fill="#fef8ca" stroke="#aaa38c" stroke-width="0.55" /><rect x="54.40" y="475.40" width="31.60" height="67.80" fill="none" stroke="#a39c86" stroke-width="0.7" /><rect x="87.80" y="475.40" width="10.53" height="13.56" fill="#fef0b0" stroke="#aaa38c" stroke-width="0.55" /><rect x="98.33" y="475.40" width="10.53" height="13.56" fill="#fee9a6" stroke="#aaa38c" stroke-width="0.55" /><rect x="108.87" y="475.40" width="10.53" height="13.56" fill="#3c6ec0" stroke="#aaa38c" stroke-width="0.55" /><rect x="87.80" y="488.96" width="10.53" height="13.56" fill="#dcedf6" stroke="#aaa38c" stroke-width="0.55" /><rect x="98.33" y="488.96" width="10.53" height="13.56" fill="#fef8c2" stroke="#aaa38c" stroke-width="0.55" /><rect x="108.87" y="488.96" width="10.53" height="13.56" fill="#e3f0f5" stroke="#aaa38c" stroke-width="0.55" /><rect x="87.80" y="502.52" width="10.53" height="13.56" fill="#fef0aa" stroke="#aaa38c" stroke-width="0.55" /><rect x="98.33" y="502.52" width="10.53" height="13.56" fill="#fef2b0" stroke="#aaa38c" stroke-width="0.55" /><rect x="108.87" y="502.52" width="10.53" height="13.56" fill="#fde8a6" stroke="#aaa38c" stroke-width="0.55" /><rect x="87.80" y="516.08" width="10.53" height="13.56" fill="#e1f0f5" stroke="#aaa38c" stroke-width="0.55" /><rect x="98.33" y="516.08" width="10.53" height="13.56" fill="#e1f0f3" stroke="#aaa38c" stroke-width="0.55" /><rect x="108.87" y="516.08" width="10.53" height="13.56" fill="#d6e8f3" stroke="#aaa38c" stroke-width="0.55" /><rect x="87.80" y="529.64" width="10.53" height="13.56" fill="#e1eff5" stroke="#aaa38c" stroke-width="0.55" /><rect x="98.33" y="529.64" width="10.53" height="13.56" fill="#e4f0f3" stroke="#aaa38c" stroke-width="0.55" /><rect x="108.87" y="529.64" width="10.53" height="13.56" fill="#f8f8d6" stroke="#aaa38c" stroke-width="0.55" /><rect x="87.80" y="475.40" width="31.60" height="67.80" fill="none" stroke="#a39c86" stroke-width="0.7" /><rect x="121.40" y="475.40" width="10.20" height="13.56" fill="#f26b3d" stroke="#c0583c" stroke-width="0.55" /><rect x="131.60" y="475.40" width="10.20" height="13.56" fill="#f89b5d" stroke="#c0583c" stroke-width="0.55" /><rect x="141.80" y="475.40" width="10.20" height="13.56" fill="#f7955b" stroke="#c0583c" stroke-width="0.55" /><rect x="121.40" y="488.96" width="10.20" height="13.56" fill="#e84b30" stroke="#c0583c" stroke-width="0.55" /><rect x="131.60" y="488.96" width="10.20" height="13.56" fill="#e84b32" stroke="#c0583c" stroke-width="0.55" /><rect x="141.80" y="488.96" width="10.20" height="13.56" fill="#eb5636" stroke="#c0583c" stroke-width="0.55" /><rect x="121.40" y="502.52" width="10.20" height="13.56" fill="#ee6139" stroke="#c0583c" stroke-width="0.55" /><rect x="131.60" y="502.52" width="10.20" height="13.56" fill="#f06b41" stroke="#c0583c" stroke-width="0.55" /><rect x="141.80" y="502.52" width="10.20" height="13.56" fill="#f06c41" stroke="#c0583c" stroke-width="0.55" /><rect x="121.40" y="516.08" width="10.20" height="13.56" fill="#e33d29" stroke="#c0583c" stroke-width="0.55" /><rect x="131.60" y="516.08" width="10.20" height="13.56" fill="#e84631" stroke="#c0583c" stroke-width="0.55" /><rect x="141.80" y="516.08" width="10.20" height="13.56" fill="#f47f4d" stroke="#c0583c" stroke-width="0.55" /><rect x="121.40" y="529.64" width="10.20" height="13.56" fill="#e03b29" stroke="#c0583c" stroke-width="0.55" /><rect x="131.60" y="529.64" width="10.20" height="13.56" fill="#dd3127" stroke="#c0583c" stroke-width="0.55" /><rect x="141.80" y="529.64" width="10.20" height="13.56" fill="#f27949" stroke="#c0583c" stroke-width="0.55" /><rect x="121.40" y="475.40" width="30.60" height="67.80" fill="none" stroke="#b8543a" stroke-width="0.7" /><g transform="translate(35.00,473.10) rotate(-45)"><text x="0.00" y="0.00" font-size="10.00" stroke="#1e1e1e" stroke-width="0.2" textLength="36.01" lengthAdjust="spacingAndGlyphs">Untreated</text></g><g transform="translate(72.00,472.30) rotate(-45)"><text x="0.00" y="0.00" font-size="10.00" stroke="#1e1e1e" stroke-width="0.2" textLength="14.13" lengthAdjust="spacingAndGlyphs">Exo</text><text x="14.13" y="-4.50" font-size="6.60" fill="#7c7c7c" stroke="#7c7c7c" stroke-width="0.2" textLength="21.81" lengthAdjust="spacingAndGlyphs">EpCAM+</text></g><g transform="translate(105.00,472.40) rotate(-45)"><text x="0.00" y="0.00" font-size="10.00" stroke="#1e1e1e" stroke-width="0.2" textLength="14.13" lengthAdjust="spacingAndGlyphs">Exo</text><text x="14.13" y="-4.50" font-size="6.60" fill="#7c7c7c" stroke="#7c7c7c" stroke-width="0.2" textLength="9.32" lengthAdjust="spacingAndGlyphs">3T3</text></g><g transform="translate(138.60,472.70) rotate(-45)"><text x="0.00" y="0.00" font-size="10.00" stroke="#1e1e1e" stroke-width="0.2" textLength="14.13" lengthAdjust="spacingAndGlyphs">Exo</text><text x="14.13" y="-4.50" font-size="6.60" fill="#7c7c7c" stroke="#7c7c7c" stroke-width="0.2" textLength="12.03" lengthAdjust="spacingAndGlyphs">MSC</text></g><text x="153.20" y="485.88" font-size="10.6" stroke="#1e1e1e" stroke-width="0.2" textLength="26.80" lengthAdjust="spacingAndGlyphs">CD163</text><text x="153.20" y="499.44" font-size="10.6" stroke="#1e1e1e" stroke-width="0.2" textLength="22.80" lengthAdjust="spacingAndGlyphs">ARG1</text><text x="153.20" y="513.00" font-size="10.6" stroke="#1e1e1e" stroke-width="0.2" textLength="26.80" lengthAdjust="spacingAndGlyphs">CD206</text><text x="153.20" y="526.56" font-size="10.6" stroke="#1e1e1e" stroke-width="0.2" textLength="32.20" lengthAdjust="spacingAndGlyphs">H2-DMa</text><text x="153.20" y="540.12" font-size="10.6" stroke="#1e1e1e" stroke-width="0.2" textLength="32.20" lengthAdjust="spacingAndGlyphs">H2-DMb</text><text x="184.30" y="489.00" font-size="10.6" stroke="#1e1e1e" stroke-width="0.2" textLength="29.20" lengthAdjust="spacingAndGlyphs">Z-Score</text><defs><linearGradient id="zg" x1="0" y1="0" x2="0" y2="1"><stop offset="0" stop-color="#c8281e"/><stop offset="0.076" stop-color="#d83a26"/><stop offset="0.148" stop-color="#e85a32"/><stop offset="0.22" stop-color="#f48a48"/><stop offset="0.29" stop-color="#fbc070"/><stop offset="0.37" stop-color="#fef4c0"/><stop offset="0.44" stop-color="#f0f8f0"/><stop offset="0.51" stop-color="#c8e4f0"/><stop offset="0.58" stop-color="#8cbce0"/><stop offset="0.66" stop-color="#5a90cc"/><stop offset="0.81" stop-color="#3c6cb8"/><stop offset="1" stop-color="#3464b4"/></linearGradient></defs><rect x="190.00" y="493.80" width="11.00" height="42.40" fill="url(#zg)" stroke="none" stroke-width="1.0" /><text x="203.60" y="500.90" font-size="10.6" stroke="#1e1e1e" stroke-width="0.2" textLength="5.60" lengthAdjust="spacingAndGlyphs">2</text><text x="203.60" y="512.60" font-size="10.6" stroke="#1e1e1e" stroke-width="0.2" textLength="5.60" lengthAdjust="spacingAndGlyphs">0</text><text x="203.40" y="525.70" font-size="10.6" stroke="#1e1e1e" stroke-width="0.2" textLength="9.40" lengthAdjust="spacingAndGlyphs">-2</text><text x="203.40" y="538.80" font-size="10.6" stroke="#1e1e1e" stroke-width="0.2" textLength="9.40" lengthAdjust="spacingAndGlyphs">-4</text><text x="351.00" y="462.30" font-size="9.60" stroke="#1e1e1e" stroke-width="0.2" textLength="14.55" lengthAdjust="spacingAndGlyphs">Exo</text><text x="365.55" y="457.98" font-size="6.34" fill="#9a9a9a" stroke="#9a9a9a" stroke-width="0.2" textLength="12.39" lengthAdjust="spacingAndGlyphs">MSC</text><text x="377.94" y="462.30" font-size="9.60" stroke="#1e1e1e" stroke-width="0.2" textLength="109.86" lengthAdjust="spacingAndGlyphs"> major Upregulated pathways</text><text x="385.60" y="475.40" font-size="9.9" stroke="#1e1e1e" stroke-width="0.2" text-anchor="end" textLength="170.00" lengthAdjust="spacingAndGlyphs">MΦ-induced immunusuppression in the TME</text><rect x="390.20" y="469.80" width="108.40" height="6.20" fill="#d8611c" stroke="none" stroke-width="1.0" /><text x="385.60" y="485.00" font-size="9.9" stroke="#1e1e1e" stroke-width="0.2" text-anchor="end" textLength="110.40" lengthAdjust="spacingAndGlyphs">MDSC and M2 MΦ in cancer</text><rect x="390.20" y="479.30" width="64.50" height="6.20" fill="#d8611c" stroke="none" stroke-width="1.0" /><text x="385.60" y="494.30" font-size="9.9" stroke="#1e1e1e" stroke-width="0.2" text-anchor="end" textLength="143.70" lengthAdjust="spacingAndGlyphs">MΦ and DC phenotype shift in cancer</text><rect x="390.20" y="488.70" width="57.20" height="6.20" fill="#d8611c" stroke="none" stroke-width="1.0" /><text x="385.60" y="503.90" font-size="9.9" stroke="#1e1e1e" stroke-width="0.2" text-anchor="end" textLength="87.90" lengthAdjust="spacingAndGlyphs">L-Arginase metabolism</text><rect x="390.20" y="498.70" width="31.00" height="6.20" fill="#d8611c" stroke="none" stroke-width="1.0" /><text x="385.60" y="513.60" font-size="9.9" stroke="#1e1e1e" stroke-width="0.2" text-anchor="end" textLength="104.10" lengthAdjust="spacingAndGlyphs">Transcription_HIF-1 targets</text><rect x="390.20" y="508.40" width="27.50" height="6.40" fill="#d8611c" stroke="none" stroke-width="1.0" /><line x1="412.90" y1="468.50" x2="412.90" y2="517.30" stroke="#333" stroke-width="0.8" stroke-dasharray="1.6,1.4"/><line x1="389.50" y1="517.60" x2="520.00" y2="517.60" stroke="#888" stroke-width="0.9" /><line x1="390.40" y1="517.60" x2="390.40" y2="519.50" stroke="#888" stroke-width="0.8" /><text x="390.40" y="527.80" font-size="9.8" stroke="#1e1e1e" stroke-width="0.2" text-anchor="middle">0</text><line x1="423.70" y1="517.60" x2="423.70" y2="519.50" stroke="#888" stroke-width="0.8" /><text x="423.70" y="527.80" font-size="9.8" stroke="#1e1e1e" stroke-width="0.2" text-anchor="middle">1</text><line x1="459.50" y1="517.60" x2="459.50" y2="519.50" stroke="#888" stroke-width="0.8" /><text x="459.50" y="527.80" font-size="9.8" stroke="#1e1e1e" stroke-width="0.2" text-anchor="middle">2</text><line x1="496.00" y1="517.60" x2="496.00" y2="519.50" stroke="#888" stroke-width="0.8" /><text x="496.00" y="527.80" font-size="9.8" stroke="#1e1e1e" stroke-width="0.2" text-anchor="middle">3</text><text x="419.90" y="537.20" font-size="9.80" stroke="#1e1e1e" stroke-width="0.2" textLength="14.14" lengthAdjust="spacingAndGlyphs">-log</text><text x="434.04" y="539.16" font-size="6.47" stroke="#1e1e1e" stroke-width="0.2" textLength="6.23" lengthAdjust="spacingAndGlyphs">10</text><text x="440.27" y="537.20" font-size="9.80" stroke="#1e1e1e" stroke-width="0.2" textLength="25.43" lengthAdjust="spacingAndGlyphs"> (FDR)</text><text x="42.70" y="570.60" font-size="9.8" stroke="#1e1e1e" stroke-width="0.2" textLength="167.30" lengthAdjust="spacingAndGlyphs">GM-CSF+IL-6 induced BM cells : T cell ratio</text><text x="71.20" y="585.50" font-size="10.5" stroke="#1e1e1e" stroke-width="0.2" text-anchor="middle" textLength="13.50" lengthAdjust="spacingAndGlyphs">1:1</text><text x="141.60" y="585.50" font-size="10.5" stroke="#1e1e1e" stroke-width="0.2" text-anchor="middle" textLength="19.80" lengthAdjust="spacingAndGlyphs">1:10</text><text x="217.50" y="585.50" font-size="10.5" stroke="#1e1e1e" stroke-width="0.2" text-anchor="middle" textLength="19.20" lengthAdjust="spacingAndGlyphs">1:20</text><rect x="41.20" y="590.60" width="65.30" height="64.80" fill="#ffffff" stroke="#6e6e6e" stroke-width="0.8" /><path d="M41.70,623.30 L41.70,623.30 L42.10,623.30 L42.50,623.30 L42.91,623.30 L43.31,623.30 L43.71,623.30 L44.11,623.30 L44.51,623.30 L44.92,623.30 L45.32,623.30 L45.72,623.30 L46.12,623.30 L46.52,623.30 L46.92,623.30 L47.33,623.30 L47.73,623.30 L48.13,623.30 L48.53,623.30 L48.93,623.30 L49.34,623.30 L49.74,623.30 L50.14,623.30 L50.54,623.30 L50.94,623.30 L51.34,623.30 L51.75,623.30 L52.15,623.30 L52.55,623.30 L52.95,623.30 L53.35,623.30 L53.76,623.30 L54.16,623.30 L54.56,623.30 L54.96,623.30 L55.36,623.30 L55.77,623.30 L56.17,623.30 L56.57,623.30 L56.97,623.30 L57.37,623.30 L57.78,623.30 L58.18,623.30 L58.58,623.30 L58.98,623.30 L59.38,623.30 L59.78,623.30 L60.19,623.30 L60.59,623.30 L60.99,623.30 L61.39,623.30 L61.79,623.30 L62.20,623.30 L62.60,623.30 L63.00,623.30 L63.40,623.30 L63.80,623.30 L64.20,623.30 L64.61,623.30 L65.01,623.30 L65.41,623.30 L65.81,623.30 L66.21,623.30 L66.62,623.30 L67.02,623.30 L67.42,623.30 L67.82,623.30 L68.22,623.30 L68.63,623.30 L69.03,623.30 L69.43,623.30 L69.83,623.30 L70.23,623.30 L70.63,623.30 L71.04,623.30 L71.44,623.30 L71.84,623.30 L72.24,623.30 L72.64,623.30 L73.05,623.30 L73.45,623.30 L73.85,623.30 L74.25,623.29 L74.65,623.28 L75.06,623.24 L75.46,623.17 L75.86,623.02 L76.26,622.78 L76.66,622.42 L77.06,621.94 L77.47,621.39 L77.87,620.85 L78.27,620.46 L78.67,620.30 L79.07,620.42 L79.48,620.79 L79.88,621.31 L80.28,621.86 L80.68,622.33 L81.08,622.65 L81.49,622.73 L81.89,622.49 L82.29,621.81 L82.69,620.58 L83.09,618.85 L83.50,616.88 L83.90,615.19 L84.30,614.34 L84.70,614.62 L85.10,615.93 L85.50,617.76 L85.91,619.49 L86.31,620.61 L86.71,620.83 L87.11,620.10 L87.51,618.59 L87.92,616.73 L88.32,615.11 L88.72,614.32 L89.12,614.67 L89.52,616.04 L89.93,617.94 L90.33,619.77 L90.73,621.05 L91.13,621.48 L91.53,620.79 L91.93,618.69 L92.34,614.97 L92.74,609.82 L93.14,604.14 L93.54,599.46 L93.94,597.33 L94.35,598.55 L94.75,602.66 L95.15,608.24 L95.55,613.68 L95.95,617.92 L96.35,620.67 L96.76,622.18 L97.16,622.88 L97.56,623.16 L97.96,623.26 L98.36,623.29 L98.77,623.30 L99.17,623.30 L99.57,623.30 L99.97,623.30 L100.37,623.30 L100.78,623.30 L101.18,623.30 L101.58,623.30 L101.98,623.30 L102.38,623.30 L102.78,623.30 L103.19,623.30 L103.59,623.30 L103.99,623.30 L104.39,623.30 L104.79,623.30 L105.20,623.30 L105.60,623.30 L106.00,623.30 L106.00,623.30 Z" fill="#8888da" fill-opacity="0.85" stroke="#5050b4" stroke-width="0.6"/><line x1="41.20" y1="623.30" x2="106.50" y2="623.30" stroke="#8686b6" stroke-width="0.7" /><path d="M41.70,639.50 L41.70,639.50 L42.10,639.50 L42.50,639.50 L42.91,639.50 L43.31,639.50 L43.71,639.50 L44.11,639.50 L44.51,639.50 L44.92,639.50 L45.32,639.50 L45.72,639.50 L46.12,639.50 L46.52,639.50 L46.92,639.50 L47.33,639.50 L47.73,639.50 L48.13,639.50 L48.53,639.50 L48.93,639.50 L49.34,639.50 L49.74,639.50 L50.14,639.50 L50.54,639.50 L50.94,639.50 L51.34,639.50 L51.75,639.50 L52.15,639.50 L52.55,639.50 L52.95,639.50 L53.35,639.50 L53.76,639.50 L54.16,639.50 L54.56,639.50 L54.96,639.50 L55.36,639.50 L55.77,639.50 L56.17,639.50 L56.57,639.50 L56.97,639.50 L57.37,639.50 L57.78,639.50 L58.18,639.50 L58.58,639.50 L58.98,639.50 L59.38,639.50 L59.78,639.50 L60.19,639.50 L60.59,639.50 L60.99,639.50 L61.39,639.50 L61.79,639.50 L62.20,639.50 L62.60,639.50 L63.00,639.50 L63.40,639.50 L63.80,639.50 L64.20,639.50 L64.61,639.50 L65.01,639.50 L65.41,639.50 L65.81,639.50 L66.21,639.50 L66.62,639.50 L67.02,639.50 L67.42,639.50 L67.82,639.50 L68.22,639.50 L68.63,639.50 L69.03,639.50 L69.43,639.50 L69.83,639.50 L70.23,639.50 L70.63,639.50 L71.04,639.50 L71.44,639.50 L71.84,639.50 L72.24,639.50 L72.64,639.50 L73.05,639.50 L73.45,639.50 L73.85,639.50 L74.25,639.49 L74.65,639.48 L75.06,639.45 L75.46,639.39 L75.86,639.27 L76.26,639.07 L76.66,638.77 L77.06,638.37 L77.47,637.91 L77.87,637.46 L78.27,637.13 L78.67,637.00 L79.07,637.10 L79.48,637.39 L79.88,637.78 L80.28,637.77 L80.68,637.35 L81.08,636.46 L81.49,634.85 L81.89,632.37 L82.29,629.52 L82.69,626.60 L83.09,624.29 L83.50,623.40 L83.90,624.25 L84.30,626.53 L84.70,629.44 L85.10,632.09 L85.50,633.88 L85.91,634.48 L86.31,633.84 L86.71,632.02 L87.11,629.35 L87.51,626.45 L87.92,624.20 L88.32,623.40 L88.72,624.35 L89.12,626.71 L89.52,629.67 L89.93,632.41 L90.33,634.44 L90.73,635.60 L91.13,635.90 L91.53,635.36 L91.93,633.85 L92.34,631.25 L92.74,627.67 L93.14,623.74 L93.54,620.50 L93.94,619.02 L94.35,619.87 L94.75,622.71 L95.15,626.76 L95.55,631.03 L95.95,634.47 L96.35,636.87 L96.76,638.42 L97.16,639.21 L97.56,639.40 L97.96,639.47 L98.36,639.49 L98.77,639.50 L99.17,639.50 L99.57,639.50 L99.97,639.50 L100.37,639.50 L100.78,639.50 L101.18,639.50 L101.58,639.50 L101.98,639.50 L102.38,639.50 L102.78,639.50 L103.19,639.50 L103.59,639.50 L103.99,639.50 L104.39,639.50 L104.79,639.50 L105.20,639.50 L105.60,639.50 L106.00,639.50 L106.00,639.50 Z" fill="#88ce88" fill-opacity="0.85" stroke="#3a9e3a" stroke-width="0.6"/><line x1="41.20" y1="639.50" x2="106.50" y2="639.50" stroke="#88b488" stroke-width="0.7" /><path d="M41.70,655.40 L41.70,655.40 L42.10,655.40 L42.50,655.40 L42.91,655.40 L43.31,655.40 L43.71,655.40 L44.11,655.40 L44.51,655.40 L44.92,655.40 L45.32,655.40 L45.72,655.40 L46.12,655.40 L46.52,655.40 L46.92,655.40 L47.33,655.40 L47.73,655.40 L48.13,655.40 L48.53,655.40 L48.93,655.40 L49.34,655.40 L49.74,655.40 L50.14,655.40 L50.54,655.40 L50.94,655.40 L51.34,655.40 L51.75,655.40 L52.15,655.40 L52.55,655.40 L52.95,655.40 L53.35,655.40 L53.76,655.40 L54.16,655.40 L54.56,655.40 L54.96,655.40 L55.36,655.40 L55.77,655.40 L56.17,655.40 L56.57,655.40 L56.97,655.40 L57.37,655.40 L57.78,655.40 L58.18,655.40 L58.58,655.40 L58.98,655.40 L59.38,655.40 L59.78,655.40 L60.19,655.40 L60.59,655.40 L60.99,655.40 L61.39,655.40 L61.79,655.40 L62.20,655.40 L62.60,655.40 L63.00,655.40 L63.40,655.40 L63.80,655.40 L64.20,655.40 L64.61,655.40 L65.01,655.40 L65.41,655.40 L65.81,655.40 L66.21,655.40 L66.62,655.40 L67.02,655.40 L67.42,655.40 L67.82,655.40 L68.22,655.40 L68.63,655.40 L69.03,655.40 L69.43,655.40 L69.83,655.40 L70.23,655.40 L70.63,655.40 L71.04,655.40 L71.44,655.40 L71.84,655.40 L72.24,655.40 L72.64,655.40 L73.05,655.40 L73.45,655.40 L73.85,655.40 L74.25,655.40 L74.65,655.40 L75.06,655.40 L75.46,655.40 L75.86,655.40 L76.26,655.40 L76.66,655.40 L77.06,655.40 L77.47,655.40 L77.87,655.40 L78.27,655.40 L78.67,655.40 L79.07,655.40 L79.48,655.40 L79.88,655.40 L80.28,655.40 L80.68,655.40 L81.08,655.40 L81.49,655.40 L81.89,655.39 L82.29,655.37 L82.69,655.34 L83.09,655.27 L83.50,655.15 L83.90,654.99 L84.30,654.79 L84.70,654.60 L85.10,654.45 L85.50,654.39 L85.91,654.44 L86.31,654.56 L86.71,654.69 L87.11,654.77 L87.51,654.75 L87.92,654.60 L88.32,654.35 L88.72,654.08 L89.12,653.87 L89.52,653.80 L89.93,653.90 L90.33,654.13 L90.73,654.44 L91.13,654.70 L91.53,654.77 L91.93,654.40 L92.34,653.17 L92.74,650.46 L93.14,645.84 L93.54,639.57 L93.94,633.06 L94.35,628.58 L94.75,628.00 L95.15,631.58 L95.55,637.78 L95.95,644.31 L96.35,649.46 L96.76,652.69 L97.16,654.35 L97.56,655.05 L97.96,655.30 L98.36,655.38 L98.77,655.40 L99.17,655.40 L99.57,655.40 L99.97,655.40 L100.37,655.40 L100.78,655.40 L101.18,655.40 L101.58,655.40 L101.98,655.40 L102.38,655.40 L102.78,655.40 L103.19,655.40 L103.59,655.40 L103.99,655.40 L104.39,655.40 L104.79,655.40 L105.20,655.40 L105.60,655.40 L106.00,655.40 L106.00,655.40 Z" fill="#f49c9c" fill-opacity="0.85" stroke="#de4a4a" stroke-width="0.6"/><line x1="52.08" y1="655.40" x2="52.08" y2="656.60" stroke="#555" stroke-width="0.6" /><line x1="62.97" y1="655.40" x2="62.97" y2="656.60" stroke="#555" stroke-width="0.6" /><line x1="73.85" y1="655.40" x2="73.85" y2="656.60" stroke="#555" stroke-width="0.6" /><line x1="84.73" y1="655.40" x2="84.73" y2="656.60" stroke="#555" stroke-width="0.6" /><line x1="95.62" y1="655.40" x2="95.62" y2="656.60" stroke="#555" stroke-width="0.6" /><rect x="55.57" y="655.40" width="2.00" height="1.30" fill="#222" stroke="none" stroke-width="1.0" /><rect x="113.80" y="590.60" width="65.40" height="64.80" fill="#ffffff" stroke="#6e6e6e" stroke-width="0.8" /><path d="M114.30,623.30 L114.30,623.30 L114.70,623.30 L115.11,623.30 L115.51,623.30 L115.91,623.30 L116.31,623.30 L116.72,623.30 L117.12,623.30 L117.52,623.30 L117.92,623.30 L118.33,623.30 L118.73,623.30 L119.13,623.30 L119.53,623.30 L119.94,623.30 L120.34,623.30 L120.74,623.30 L121.14,623.30 L121.55,623.30 L121.95,623.30 L122.35,623.30 L122.75,623.30 L123.16,623.30 L123.56,623.30 L123.96,623.30 L124.36,623.30 L124.77,623.30 L125.17,623.30 L125.57,623.30 L125.97,623.30 L126.38,623.30 L126.78,623.30 L127.18,623.30 L127.58,623.30 L127.98,623.30 L128.39,623.30 L128.79,623.30 L129.19,623.30 L129.59,623.30 L130.00,623.30 L130.40,623.30 L130.80,623.30 L131.20,623.30 L131.61,623.30 L132.01,623.30 L132.41,623.30 L132.81,623.30 L133.22,623.30 L133.62,623.30 L134.02,623.30 L134.42,623.30 L134.83,623.30 L135.23,623.30 L135.63,623.30 L136.03,623.30 L136.44,623.30 L136.84,623.30 L137.24,623.30 L137.64,623.30 L138.05,623.30 L138.45,623.30 L138.85,623.30 L139.25,623.30 L139.66,623.30 L140.06,623.30 L140.46,623.30 L140.87,623.30 L141.27,623.30 L141.67,623.30 L142.07,623.30 L142.47,623.30 L142.88,623.30 L143.28,623.30 L143.68,623.30 L144.08,623.30 L144.49,623.30 L144.89,623.30 L145.29,623.30 L145.69,623.30 L146.10,623.30 L146.50,623.30 L146.90,623.30 L147.31,623.29 L147.71,623.28 L148.11,623.24 L148.51,623.14 L148.91,622.96 L149.32,622.62 L149.72,622.08 L150.12,621.29 L150.52,620.31 L150.93,619.24 L151.33,618.31 L151.73,617.72 L152.13,617.63 L152.54,618.06 L152.94,618.88 L153.34,619.85 L153.75,620.64 L154.15,620.91 L154.55,620.26 L154.95,618.36 L155.35,615.17 L155.76,611.18 L156.16,607.50 L156.56,605.44 L156.96,605.86 L157.37,608.58 L157.77,612.56 L158.17,616.44 L158.57,619.25 L158.98,620.53 L159.38,620.13 L159.78,618.07 L160.19,614.55 L160.59,610.26 L160.99,606.41 L161.39,604.40 L161.79,605.03 L162.20,608.05 L162.60,612.27 L163.00,616.28 L163.41,619.04 L163.81,620.02 L164.21,618.97 L164.61,615.78 L165.01,610.70 L165.42,604.67 L165.82,599.43 L166.22,596.87 L166.62,598.04 L167.03,602.45 L167.43,608.45 L167.83,614.17 L168.23,618.45 L168.64,621.08 L169.04,622.42 L169.44,623.00 L169.84,623.21 L170.25,623.28 L170.65,623.30 L171.05,623.30 L171.45,623.30 L171.86,623.30 L172.26,623.30 L172.66,623.30 L173.06,623.30 L173.47,623.30 L173.87,623.30 L174.27,623.30 L174.67,623.30 L175.08,623.30 L175.48,623.30 L175.88,623.30 L176.28,623.30 L176.69,623.30 L177.09,623.30 L177.49,623.30 L177.89,623.30 L178.30,623.30 L178.70,623.30 L178.70,623.30 Z" fill="#8888da" fill-opacity="0.85" stroke="#5050b4" stroke-width="0.6"/><line x1="113.80" y1="623.30" x2="179.20" y2="623.30" stroke="#8686b6" stroke-width="0.7" /><path d="M114.30,639.50 L114.30,639.50 L114.70,639.50 L115.11,639.50 L115.51,639.50 L115.91,639.50 L116.31,639.50 L116.72,639.50 L117.12,639.50 L117.52,639.50 L117.92,639.50 L118.33,639.50 L118.73,639.50 L119.13,639.50 L119.53,639.50 L119.94,639.50 L120.34,639.50 L120.74,639.50 L121.14,639.50 L121.55,639.50 L121.95,639.50 L122.35,639.50 L122.75,639.50 L123.16,639.50 L123.56,639.50 L123.96,639.50 L124.36,639.50 L124.77,639.50 L125.17,639.50 L125.57,639.50 L125.97,639.50 L126.38,639.50 L126.78,639.50 L127.18,639.50 L127.58,639.50 L127.98,639.50 L128.39,639.50 L128.79,639.50 L129.19,639.50 L129.59,639.50 L130.00,639.50 L130.40,639.50 L130.80,639.50 L131.20,639.50 L131.61,639.50 L132.01,639.50 L132.41,639.50 L132.81,639.50 L133.22,639.50 L133.62,639.50 L134.02,639.50 L134.42,639.50 L134.83,639.50 L135.23,639.50 L135.63,639.50 L136.03,639.50 L136.44,639.50 L136.84,639.50 L137.24,639.50 L137.64,639.50 L138.05,639.50 L138.45,639.50 L138.85,639.50 L139.25,639.50 L139.66,639.50 L140.06,639.50 L140.46,639.50 L140.87,639.50 L141.27,639.50 L141.67,639.50 L142.07,639.50 L142.47,639.50 L142.88,639.50 L143.28,639.50 L143.68,639.50 L144.08,639.50 L144.49,639.50 L144.89,639.50 L145.29,639.50 L145.69,639.50 L146.10,639.50 L146.50,639.50 L146.90,639.50 L147.31,639.49 L147.71,639.48 L148.11,639.46 L148.51,639.40 L148.91,639.29 L149.32,639.08 L149.72,638.75 L150.12,638.11 L150.52,637.00 L150.93,635.85 L151.33,634.77 L151.73,633.91 L152.13,633.52 L152.54,633.78 L152.94,634.28 L153.34,634.85 L153.75,635.27 L154.15,635.27 L154.55,634.52 L154.95,632.73 L155.35,629.83 L155.76,626.25 L156.16,622.96 L156.56,621.13 L156.96,621.50 L157.37,623.92 L157.77,627.45 L158.17,630.91 L158.57,633.43 L158.98,634.61 L159.38,634.37 L159.78,632.72 L160.19,629.86 L160.59,626.36 L160.99,623.22 L161.39,621.58 L161.79,622.10 L162.20,624.56 L162.60,628.01 L163.00,631.29 L163.41,633.56 L163.81,634.42 L164.21,633.69 L164.61,631.31 L165.01,627.48 L165.42,622.94 L165.82,618.98 L166.22,617.05 L166.62,617.94 L167.03,621.27 L167.43,625.79 L167.83,630.11 L168.23,633.63 L168.64,636.12 L169.04,637.64 L169.44,638.58 L169.84,639.24 L170.25,639.48 L170.65,639.50 L171.05,639.50 L171.45,639.50 L171.86,639.50 L172.26,639.50 L172.66,639.50 L173.06,639.50 L173.47,639.50 L173.87,639.50 L174.27,639.50 L174.67,639.50 L175.08,639.50 L175.48,639.50 L175.88,639.50 L176.28,639.50 L176.69,639.50 L177.09,639.50 L177.49,639.50 L177.89,639.50 L178.30,639.50 L178.70,639.50 L178.70,639.50 Z" fill="#88ce88" fill-opacity="0.85" stroke="#3a9e3a" stroke-width="0.6"/><line x1="113.80" y1="639.50" x2="179.20" y2="639.50" stroke="#88b488" stroke-width="0.7" /><path d="M114.30,655.40 L114.30,655.40 L114.70,655.40 L115.11,655.40 L115.51,655.40 L115.91,655.40 L116.31,655.40 L116.72,655.40 L117.12,655.40 L117.52,655.40 L117.92,655.40 L118.33,655.40 L118.73,655.40 L119.13,655.40 L119.53,655.40 L119.94,655.40 L120.34,655.40 L120.74,655.40 L121.14,655.40 L121.55,655.40 L121.95,655.40 L122.35,655.40 L122.75,655.40 L123.16,655.40 L123.56,655.40 L123.96,655.40 L124.36,655.40 L124.77,655.40 L125.17,655.40 L125.57,655.40 L125.97,655.40 L126.38,655.40 L126.78,655.40 L127.18,655.40 L127.58,655.40 L127.98,655.40 L128.39,655.40 L128.79,655.40 L129.19,655.40 L129.59,655.40 L130.00,655.40 L130.40,655.40 L130.80,655.40 L131.20,655.40 L131.61,655.40 L132.01,655.40 L132.41,655.40 L132.81,655.40 L133.22,655.40 L133.62,655.40 L134.02,655.40 L134.42,655.40 L134.83,655.40 L135.23,655.40 L135.63,655.40 L136.03,655.40 L136.44,655.40 L136.84,655.40 L137.24,655.40 L137.64,655.40 L138.05,655.40 L138.45,655.40 L138.85,655.40 L139.25,655.40 L139.66,655.40 L140.06,655.40 L140.46,655.40 L140.87,655.40 L141.27,655.40 L141.67,655.40 L142.07,655.40 L142.47,655.40 L142.88,655.40 L143.28,655.40 L143.68,655.40 L144.08,655.40 L144.49,655.40 L144.89,655.40 L145.29,655.40 L145.69,655.40 L146.10,655.40 L146.50,655.40 L146.90,655.40 L147.31,655.40 L147.71,655.40 L148.11,655.39 L148.51,655.38 L148.91,655.34 L149.32,655.28 L149.72,655.15 L150.12,654.96 L150.52,654.70 L150.93,654.39 L151.33,654.12 L151.73,653.94 L152.13,653.91 L152.54,654.04 L152.94,654.29 L153.34,654.58 L153.75,654.80 L154.15,654.87 L154.55,654.65 L154.95,654.02 L155.35,652.94 L155.76,651.54 L156.16,650.21 L156.56,649.46 L156.96,649.61 L157.37,650.60 L157.77,652.01 L158.17,653.35 L158.57,654.30 L158.98,654.74 L159.38,654.71 L159.78,654.20 L160.19,653.28 L160.59,652.10 L160.99,651.01 L161.39,650.43 L161.79,650.61 L162.20,651.47 L162.60,652.64 L163.00,653.67 L163.41,654.21 L163.81,653.93 L164.21,652.46 L164.61,649.34 L165.01,644.44 L165.42,638.46 L165.82,633.12 L166.22,630.47 L166.62,631.69 L167.03,636.21 L167.43,642.20 L167.83,647.67 L168.23,651.56 L168.64,653.77 L169.04,654.81 L169.44,655.22 L169.84,655.35 L170.25,655.39 L170.65,655.40 L171.05,655.40 L171.45,655.40 L171.86,655.40 L172.26,655.40 L172.66,655.40 L173.06,655.40 L173.47,655.40 L173.87,655.40 L174.27,655.40 L174.67,655.40 L175.08,655.40 L175.48,655.40 L175.88,655.40 L176.28,655.40 L176.69,655.40 L177.09,655.40 L177.49,655.40 L177.89,655.40 L178.30,655.40 L178.70,655.40 L178.70,655.40 Z" fill="#f49c9c" fill-opacity="0.85" stroke="#de4a4a" stroke-width="0.6"/><line x1="124.70" y1="655.40" x2="124.70" y2="656.60" stroke="#555" stroke-width="0.6" /><line x1="135.60" y1="655.40" x2="135.60" y2="656.60" stroke="#555" stroke-width="0.6" /><line x1="146.50" y1="655.40" x2="146.50" y2="656.60" stroke="#555" stroke-width="0.6" /><line x1="157.40" y1="655.40" x2="157.40" y2="656.60" stroke="#555" stroke-width="0.6" /><line x1="168.30" y1="655.40" x2="168.30" y2="656.60" stroke="#555" stroke-width="0.6" /><rect x="128.19" y="655.40" width="2.00" height="1.30" fill="#222" stroke="none" stroke-width="1.0" /><rect x="186.70" y="590.60" width="64.70" height="64.80" fill="#ffffff" stroke="#6e6e6e" stroke-width="0.8" /><path d="M187.20,623.30 L187.20,623.30 L187.60,623.30 L188.00,623.30 L188.39,623.30 L188.79,623.30 L189.19,623.30 L189.59,623.30 L189.99,623.30 L190.38,623.30 L190.78,623.30 L191.18,623.30 L191.58,623.30 L191.98,623.30 L192.38,623.30 L192.77,623.30 L193.17,623.30 L193.57,623.30 L193.97,623.30 L194.37,623.30 L194.76,623.30 L195.16,623.30 L195.56,623.30 L195.96,623.30 L196.36,623.30 L196.75,623.30 L197.15,623.30 L197.55,623.30 L197.95,623.30 L198.35,623.30 L198.75,623.30 L199.14,623.30 L199.54,623.30 L199.94,623.30 L200.34,623.30 L200.74,623.30 L201.13,623.30 L201.53,623.30 L201.93,623.30 L202.33,623.30 L202.73,623.30 L203.12,623.30 L203.52,623.30 L203.92,623.30 L204.32,623.30 L204.72,623.30 L205.12,623.30 L205.51,623.30 L205.91,623.30 L206.31,623.30 L206.71,623.30 L207.11,623.30 L207.50,623.30 L207.90,623.30 L208.30,623.30 L208.70,623.30 L209.10,623.30 L209.50,623.30 L209.89,623.30 L210.29,623.30 L210.69,623.30 L211.09,623.30 L211.49,623.30 L211.88,623.30 L212.28,623.30 L212.68,623.30 L213.08,623.30 L213.48,623.30 L213.87,623.30 L214.27,623.30 L214.67,623.30 L215.07,623.29 L215.47,623.28 L215.87,623.24 L216.26,623.15 L216.66,622.95 L217.06,622.57 L217.46,621.94 L217.86,621.03 L218.25,619.92 L218.65,618.78 L219.05,617.89 L219.45,617.51 L219.85,617.74 L220.24,618.51 L220.64,619.60 L221.04,620.70 L221.44,621.53 L221.84,621.82 L222.24,621.31 L222.63,619.71 L223.03,616.87 L223.43,613.16 L223.83,609.54 L224.23,607.34 L224.62,607.50 L225.02,609.94 L225.42,613.64 L225.82,617.25 L226.22,619.79 L226.61,620.79 L227.01,620.12 L227.41,617.72 L227.81,613.86 L228.21,609.34 L228.61,605.63 L229.00,604.20 L229.40,605.68 L229.80,609.42 L230.20,613.96 L230.60,617.91 L230.99,620.53 L231.39,621.76 L231.79,621.79 L232.19,620.78 L232.59,618.88 L232.98,616.45 L233.38,614.20 L233.78,612.97 L234.18,613.30 L234.58,615.03 L234.97,617.45 L235.37,619.71 L235.77,621.22 L236.17,621.66 L236.57,620.76 L236.97,618.17 L237.36,613.61 L237.76,607.48 L238.16,601.22 L238.56,596.98 L238.96,596.53 L239.35,600.06 L239.75,606.08 L240.15,612.41 L240.55,617.43 L240.95,620.60 L241.34,622.24 L241.74,622.94 L242.14,623.20 L242.54,623.28 L242.94,623.29 L243.34,623.30 L243.73,623.30 L244.13,623.30 L244.53,623.30 L244.93,623.30 L245.33,623.30 L245.72,623.30 L246.12,623.30 L246.52,623.30 L246.92,623.30 L247.32,623.30 L247.72,623.30 L248.11,623.30 L248.51,623.30 L248.91,623.30 L249.31,623.30 L249.71,623.30 L250.10,623.30 L250.50,623.30 L250.90,623.30 L250.90,623.30 Z" fill="#8888da" fill-opacity="0.85" stroke="#5050b4" stroke-width="0.6"/><line x1="186.70" y1="623.30" x2="251.40" y2="623.30" stroke="#8686b6" stroke-width="0.7" /><path d="M187.20,639.50 L187.20,639.50 L187.60,639.50 L188.00,639.50 L188.39,639.50 L188.79,639.50 L189.19,639.50 L189.59,639.50 L189.99,639.50 L190.38,639.50 L190.78,639.50 L191.18,639.50 L191.58,639.50 L191.98,639.50 L192.38,639.50 L192.77,639.50 L193.17,639.50 L193.57,639.50 L193.97,639.50 L194.37,639.50 L194.76,639.50 L195.16,639.50 L195.56,639.50 L195.96,639.50 L196.36,639.50 L196.75,639.50 L197.15,639.50 L197.55,639.50 L197.95,639.50 L198.35,639.50 L198.75,639.50 L199.14,639.50 L199.54,639.50 L199.94,639.50 L200.34,639.50 L200.74,639.50 L201.13,639.50 L201.53,639.50 L201.93,639.50 L202.33,639.50 L202.73,639.50 L203.12,639.50 L203.52,639.50 L203.92,639.50 L204.32,639.50 L204.72,639.50 L205.12,639.50 L205.51,639.50 L205.91,639.50 L206.31,639.50 L206.71,639.50 L207.11,639.50 L207.50,639.50 L207.90,639.50 L208.30,639.50 L208.70,639.50 L209.10,639.50 L209.50,639.50 L209.89,639.50 L210.29,639.50 L210.69,639.50 L211.09,639.50 L211.49,639.50 L211.88,639.50 L212.28,639.50 L212.68,639.50 L213.08,639.50 L213.48,639.50 L213.87,639.50 L214.27,639.50 L214.67,639.50 L215.07,639.49 L215.47,639.47 L215.87,639.42 L216.26,639.29 L216.66,639.01 L217.06,638.49 L217.46,637.62 L217.86,636.37 L218.25,634.20 L218.65,631.64 L219.05,629.42 L219.45,627.89 L219.85,627.21 L220.24,627.90 L220.64,629.40 L221.04,630.92 L221.44,632.08 L221.84,632.53 L222.24,631.94 L222.63,629.93 L223.03,626.36 L223.43,621.66 L223.83,617.09 L224.23,614.31 L224.62,614.50 L225.02,617.60 L225.42,622.28 L225.82,626.88 L226.22,630.16 L226.61,631.60 L227.01,631.12 L227.41,628.77 L227.81,624.85 L228.21,620.25 L228.61,616.46 L229.00,615.00 L229.40,616.51 L229.80,620.33 L230.20,624.97 L230.60,628.99 L230.99,631.65 L231.39,632.87 L231.79,632.81 L232.19,631.61 L232.59,629.41 L232.98,626.60 L233.38,624.00 L233.78,622.58 L234.18,622.96 L234.58,624.95 L234.97,627.76 L235.37,630.40 L235.77,632.24 L236.17,633.05 L236.57,632.75 L236.97,631.23 L237.36,628.41 L237.76,624.57 L238.16,620.65 L238.56,617.99 L238.96,617.71 L239.35,619.92 L239.75,623.70 L240.15,628.05 L240.55,632.19 L240.95,635.17 L241.34,637.20 L241.74,638.63 L242.14,639.44 L242.54,639.48 L242.94,639.50 L243.34,639.50 L243.73,639.50 L244.13,639.50 L244.53,639.50 L244.93,639.50 L245.33,639.50 L245.72,639.50 L246.12,639.50 L246.52,639.50 L246.92,639.50 L247.32,639.50 L247.72,639.50 L248.11,639.50 L248.51,639.50 L248.91,639.50 L249.31,639.50 L249.71,639.50 L250.10,639.50 L250.50,639.50 L250.90,639.50 L250.90,639.50 Z" fill="#88ce88" fill-opacity="0.85" stroke="#3a9e3a" stroke-width="0.6"/><line x1="186.70" y1="639.50" x2="251.40" y2="639.50" stroke="#88b488" stroke-width="0.7" /><path d="M187.20,655.40 L187.20,655.40 L187.60,655.40 L188.00,655.40 L188.39,655.40 L188.79,655.40 L189.19,655.40 L189.59,655.40 L189.99,655.40 L190.38,655.40 L190.78,655.40 L191.18,655.40 L191.58,655.40 L191.98,655.40 L192.38,655.40 L192.77,655.40 L193.17,655.40 L193.57,655.40 L193.97,655.40 L194.37,655.40 L194.76,655.40 L195.16,655.40 L195.56,655.40 L195.96,655.40 L196.36,655.40 L196.75,655.40 L197.15,655.40 L197.55,655.40 L197.95,655.40 L198.35,655.40 L198.75,655.40 L199.14,655.40 L199.54,655.40 L199.94,655.40 L200.34,655.40 L200.74,655.40 L201.13,655.40 L201.53,655.40 L201.93,655.40 L202.33,655.40 L202.73,655.40 L203.12,655.40 L203.52,655.40 L203.92,655.40 L204.32,655.40 L204.72,655.40 L205.12,655.40 L205.51,655.40 L205.91,655.40 L206.31,655.40 L206.71,655.40 L207.11,655.40 L207.50,655.40 L207.90,655.40 L208.30,655.40 L208.70,655.40 L209.10,655.40 L209.50,655.40 L209.89,655.40 L210.29,655.40 L210.69,655.40 L211.09,655.40 L211.49,655.40 L211.88,655.40 L212.28,655.40 L212.68,655.40 L213.08,655.40 L213.48,655.40 L213.87,655.40 L214.27,655.40 L214.67,655.40 L215.07,655.40 L215.47,655.40 L215.87,655.40 L216.26,655.40 L216.66,655.40 L217.06,655.40 L217.46,655.40 L217.86,655.40 L218.25,655.40 L218.65,655.40 L219.05,655.40 L219.45,655.40 L219.85,655.40 L220.24,655.40 L220.64,655.39 L221.04,655.38 L221.44,655.32 L221.84,655.17 L222.24,654.80 L222.63,654.10 L223.03,652.97 L223.43,651.53 L223.83,650.14 L224.23,649.29 L224.62,649.35 L225.02,650.29 L225.42,651.70 L225.82,653.06 L226.22,653.97 L226.61,654.21 L227.01,653.63 L227.41,652.14 L227.81,649.82 L228.21,647.15 L228.61,644.95 L229.00,644.10 L229.40,644.97 L229.80,647.19 L230.20,649.87 L230.60,652.20 L230.99,653.72 L231.39,654.36 L231.79,654.19 L232.19,653.23 L232.59,651.54 L232.98,649.41 L233.38,647.44 L233.78,646.36 L234.18,646.65 L234.58,648.16 L234.97,650.28 L235.37,652.25 L235.77,653.56 L236.17,653.92 L236.57,653.06 L236.97,650.63 L237.36,646.39 L237.76,640.69 L238.16,634.87 L238.56,630.93 L238.96,630.51 L239.35,633.79 L239.75,639.39 L240.15,645.28 L240.55,649.94 L240.95,652.88 L241.34,654.41 L241.74,655.07 L242.14,655.31 L242.54,655.38 L242.94,655.40 L243.34,655.40 L243.73,655.40 L244.13,655.40 L244.53,655.40 L244.93,655.40 L245.33,655.40 L245.72,655.40 L246.12,655.40 L246.52,655.40 L246.92,655.40 L247.32,655.40 L247.72,655.40 L248.11,655.40 L248.51,655.40 L248.91,655.40 L249.31,655.40 L249.71,655.40 L250.10,655.40 L250.50,655.40 L250.90,655.40 L250.90,655.40 Z" fill="#f49c9c" fill-opacity="0.85" stroke="#de4a4a" stroke-width="0.6"/><line x1="197.48" y1="655.40" x2="197.48" y2="656.60" stroke="#555" stroke-width="0.6" /><line x1="208.27" y1="655.40" x2="208.27" y2="656.60" stroke="#555" stroke-width="0.6" /><line x1="219.05" y1="655.40" x2="219.05" y2="656.60" stroke="#555" stroke-width="0.6" /><line x1="229.83" y1="655.40" x2="229.83" y2="656.60" stroke="#555" stroke-width="0.6" /><line x1="240.62" y1="655.40" x2="240.62" y2="656.60" stroke="#555" stroke-width="0.6" /><rect x="200.93" y="655.40" width="2.00" height="1.30" fill="#222" stroke="none" stroke-width="1.0" /><g transform="translate(36.50,623.00) rotate(-90)"><text x="-38.00" y="0.00" font-size="10.00" stroke="#1e1e1e" stroke-width="0.2" textLength="76.00" lengthAdjust="spacingAndGlyphs">Normalized to mode</text></g><text x="42.10" y="668.50" font-size="10.8" stroke="#1e1e1e" stroke-width="0.2" textLength="44.20" lengthAdjust="spacingAndGlyphs">Cell trace</text><line x1="92.00" y1="665.50" x2="103.50" y2="665.50" stroke="#222" stroke-width="1.1" /><path d="M100.5,663.2 L104.8,665.5 L100.5,667.8 Z" fill="#222"/><rect x="245.40" y="597.30" width="7.60" height="2.50" fill="#0000c8" stroke="none" stroke-width="1.0" /><text x="254.60" y="601.60" font-size="11" stroke="#1e1e1e" stroke-width="0.2" textLength="36.90" lengthAdjust="spacingAndGlyphs">Untreated</text><rect x="245.40" y="607.60" width="7.60" height="2.50" fill="#00a050" stroke="none" stroke-width="1.0" /><text x="254.60" y="612.40" font-size="11" stroke="#1e1e1e" stroke-width="0.2" textLength="14.60" lengthAdjust="spacingAndGlyphs">Exo</text><text x="269.40" y="607.80" font-size="6.6" fill="#8a8a8a" stroke="#8a8a8a" stroke-width="0.2" textLength="19.80" lengthAdjust="spacingAndGlyphs">EpCAM+</text><rect x="245.40" y="618.00" width="7.60" height="2.50" fill="#e80000" stroke="none" stroke-width="1.0" /><text x="254.60" y="622.40" font-size="11" stroke="#1e1e1e" stroke-width="0.2" textLength="14.60" lengthAdjust="spacingAndGlyphs">Exo</text><text x="269.40" y="617.80" font-size="6.6" fill="#8a8a8a" stroke="#8a8a8a" stroke-width="0.2" textLength="11.00" lengthAdjust="spacingAndGlyphs">MSC</text><line x1="350.80" y1="566.70" x2="350.80" y2="656.70" stroke="#555" stroke-width="1.0" /><line x1="350.30" y1="656.20" x2="442.10" y2="656.20" stroke="#555" stroke-width="1.0" /><line x1="348.60" y1="566.70" x2="350.80" y2="566.70" stroke="#555" stroke-width="0.8" /><text x="348.20" y="568.93" font-size="6.2" fill="#333" stroke="#333" stroke-width="0.2" text-anchor="end">80</text><line x1="348.60" y1="589.08" x2="350.80" y2="589.08" stroke="#555" stroke-width="0.8" /><text x="348.20" y="591.31" font-size="6.2" fill="#333" stroke="#333" stroke-width="0.2" text-anchor="end">60</text><line x1="348.60" y1="611.45" x2="350.80" y2="611.45" stroke="#555" stroke-width="0.8" /><text x="348.20" y="613.68" font-size="6.2" fill="#333" stroke="#333" stroke-width="0.2" text-anchor="end">40</text><line x1="348.60" y1="633.83" x2="350.80" y2="633.83" stroke="#555" stroke-width="0.8" /><text x="348.20" y="636.06" font-size="6.2" fill="#333" stroke="#333" stroke-width="0.2" text-anchor="end">20</text><line x1="348.60" y1="656.20" x2="350.80" y2="656.20" stroke="#555" stroke-width="0.8" /><text x="348.20" y="658.43" font-size="6.2" fill="#333" stroke="#333" stroke-width="0.2" text-anchor="end">0</text><line x1="359.45" y1="605.00" x2="359.45" y2="605.80" stroke="#00007a" stroke-width="0.9" /><line x1="357.65" y1="605.00" x2="361.25" y2="605.00" stroke="#00007a" stroke-width="0.9" /><rect x="356.70" y="606.30" width="5.50" height="49.90" fill="#0000f0" stroke="#00007a" stroke-width="1.0" /><line x1="359.45" y1="656.20" x2="359.45" y2="657.50" stroke="#555" stroke-width="0.7" /><line x1="368.35" y1="602.30" x2="368.35" y2="608.00" stroke="#005a00" stroke-width="0.9" /><line x1="366.55" y1="602.30" x2="370.15" y2="602.30" stroke="#005a00" stroke-width="0.9" /><rect x="365.70" y="608.50" width="5.30" height="47.70" fill="#00c000" stroke="#005a00" stroke-width="1.0" /><line x1="368.35" y1="656.20" x2="368.35" y2="657.50" stroke="#555" stroke-width="0.7" /><line x1="376.75" y1="628.30" x2="376.75" y2="631.20" stroke="#7a0000" stroke-width="0.9" /><line x1="374.95" y1="628.30" x2="378.55" y2="628.30" stroke="#7a0000" stroke-width="0.9" /><rect x="374.00" y="631.70" width="5.50" height="24.50" fill="#ff0000" stroke="#7a0000" stroke-width="1.0" /><line x1="376.75" y1="656.20" x2="376.75" y2="657.50" stroke="#555" stroke-width="0.7" /><line x1="388.45" y1="589.00" x2="388.45" y2="590.80" stroke="#00007a" stroke-width="0.9" /><line x1="386.65" y1="589.00" x2="390.25" y2="589.00" stroke="#00007a" stroke-width="0.9" /><rect x="385.90" y="591.30" width="5.10" height="64.90" fill="#0000f0" stroke="#00007a" stroke-width="1.0" /><line x1="388.45" y1="656.20" x2="388.45" y2="657.50" stroke="#555" stroke-width="0.7" /><line x1="397.10" y1="589.50" x2="397.10" y2="590.80" stroke="#005a00" stroke-width="0.9" /><line x1="395.30" y1="589.50" x2="398.90" y2="589.50" stroke="#005a00" stroke-width="0.9" /><rect x="394.50" y="591.30" width="5.20" height="64.90" fill="#00c000" stroke="#005a00" stroke-width="1.0" /><line x1="397.10" y1="656.20" x2="397.10" y2="657.50" stroke="#555" stroke-width="0.7" /><line x1="405.55" y1="611.50" x2="405.55" y2="614.00" stroke="#7a0000" stroke-width="0.9" /><line x1="403.75" y1="611.50" x2="407.35" y2="611.50" stroke="#7a0000" stroke-width="0.9" /><rect x="402.80" y="614.50" width="5.50" height="41.70" fill="#ff0000" stroke="#7a0000" stroke-width="1.0" /><line x1="405.55" y1="656.20" x2="405.55" y2="657.50" stroke="#555" stroke-width="0.7" /><line x1="417.35" y1="580.20" x2="417.35" y2="583.50" stroke="#00007a" stroke-width="0.9" /><line x1="415.55" y1="580.20" x2="419.15" y2="580.20" stroke="#00007a" stroke-width="0.9" /><rect x="414.50" y="584.00" width="5.70" height="72.20" fill="#0000f0" stroke="#00007a" stroke-width="1.0" /><line x1="417.35" y1="656.20" x2="417.35" y2="657.50" stroke="#555" stroke-width="0.7" /><line x1="426.10" y1="575.70" x2="426.10" y2="579.00" stroke="#005a00" stroke-width="0.9" /><line x1="424.30" y1="575.70" x2="427.90" y2="575.70" stroke="#005a00" stroke-width="0.9" /><rect x="423.30" y="579.50" width="5.60" height="76.70" fill="#00c000" stroke="#005a00" stroke-width="1.0" /><line x1="426.10" y1="656.20" x2="426.10" y2="657.50" stroke="#555" stroke-width="0.7" /><line x1="434.70" y1="594.20" x2="434.70" y2="597.20" stroke="#7a0000" stroke-width="0.9" /><line x1="432.90" y1="594.20" x2="436.50" y2="594.20" stroke="#7a0000" stroke-width="0.9" /><rect x="431.90" y="597.70" width="5.60" height="58.50" fill="#ff0000" stroke="#7a0000" stroke-width="1.0" /><line x1="434.70" y1="656.20" x2="434.70" y2="657.50" stroke="#555" stroke-width="0.7" /><line x1="357.20" y1="598.60" x2="367.20" y2="598.60" stroke="#222" stroke-width="1.0" /><polyline points="360.4,598.6 360.4,590.4 376.7,590.4 376.7,621.0" fill="none" stroke="#222" stroke-width="1.0"/><text x="368.50" y="592.70" font-size="11.0" stroke="#1e1e1e" stroke-width="0.2" text-anchor="middle">*</text><line x1="387.00" y1="585.00" x2="397.40" y2="585.00" stroke="#222" stroke-width="1.0" /><polyline points="391.5,585.0 391.5,578.8 404.6,578.8 404.6,606.5" fill="none" stroke="#222" stroke-width="1.0"/><text x="397.90" y="580.70" font-size="11.0" stroke="#1e1e1e" stroke-width="0.2" text-anchor="middle">*</text><line x1="417.40" y1="572.40" x2="426.40" y2="572.40" stroke="#222" stroke-width="1.0" /><polyline points="420.7,572.4 420.7,567.4 434.7,567.4 434.7,588.5" fill="none" stroke="#222" stroke-width="1.0"/><text x="427.30" y="569.00" font-size="11.0" stroke="#1e1e1e" stroke-width="0.2" text-anchor="middle">*</text><line x1="367.10" y1="656.20" x2="367.10" y2="658.00" stroke="#555" stroke-width="0.8" /><text x="367.10" y="669.50" font-size="10.0" stroke="#1e1e1e" stroke-width="0.2" text-anchor="middle" textLength="11.60" lengthAdjust="spacingAndGlyphs">1:1</text><line x1="396.00" y1="656.20" x2="396.00" y2="658.00" stroke="#555" stroke-width="0.8" /><text x="396.00" y="669.50" font-size="10.0" stroke="#1e1e1e" stroke-width="0.2" text-anchor="middle" textLength="19.30" lengthAdjust="spacingAndGlyphs">1:10</text><line x1="425.80" y1="656.20" x2="425.80" y2="658.00" stroke="#555" stroke-width="0.8" /><text x="425.80" y="669.50" font-size="10.0" stroke="#1e1e1e" stroke-width="0.2" text-anchor="middle" textLength="19.30" lengthAdjust="spacingAndGlyphs">1:20</text><g transform="translate(333.60,618.20) rotate(-90)"><text x="-25.85" y="0.00" font-size="10.00" stroke="#1e1e1e" stroke-width="0.2" textLength="51.70" lengthAdjust="spacingAndGlyphs">% proliferated</text></g>
</svg>
</body></html>
